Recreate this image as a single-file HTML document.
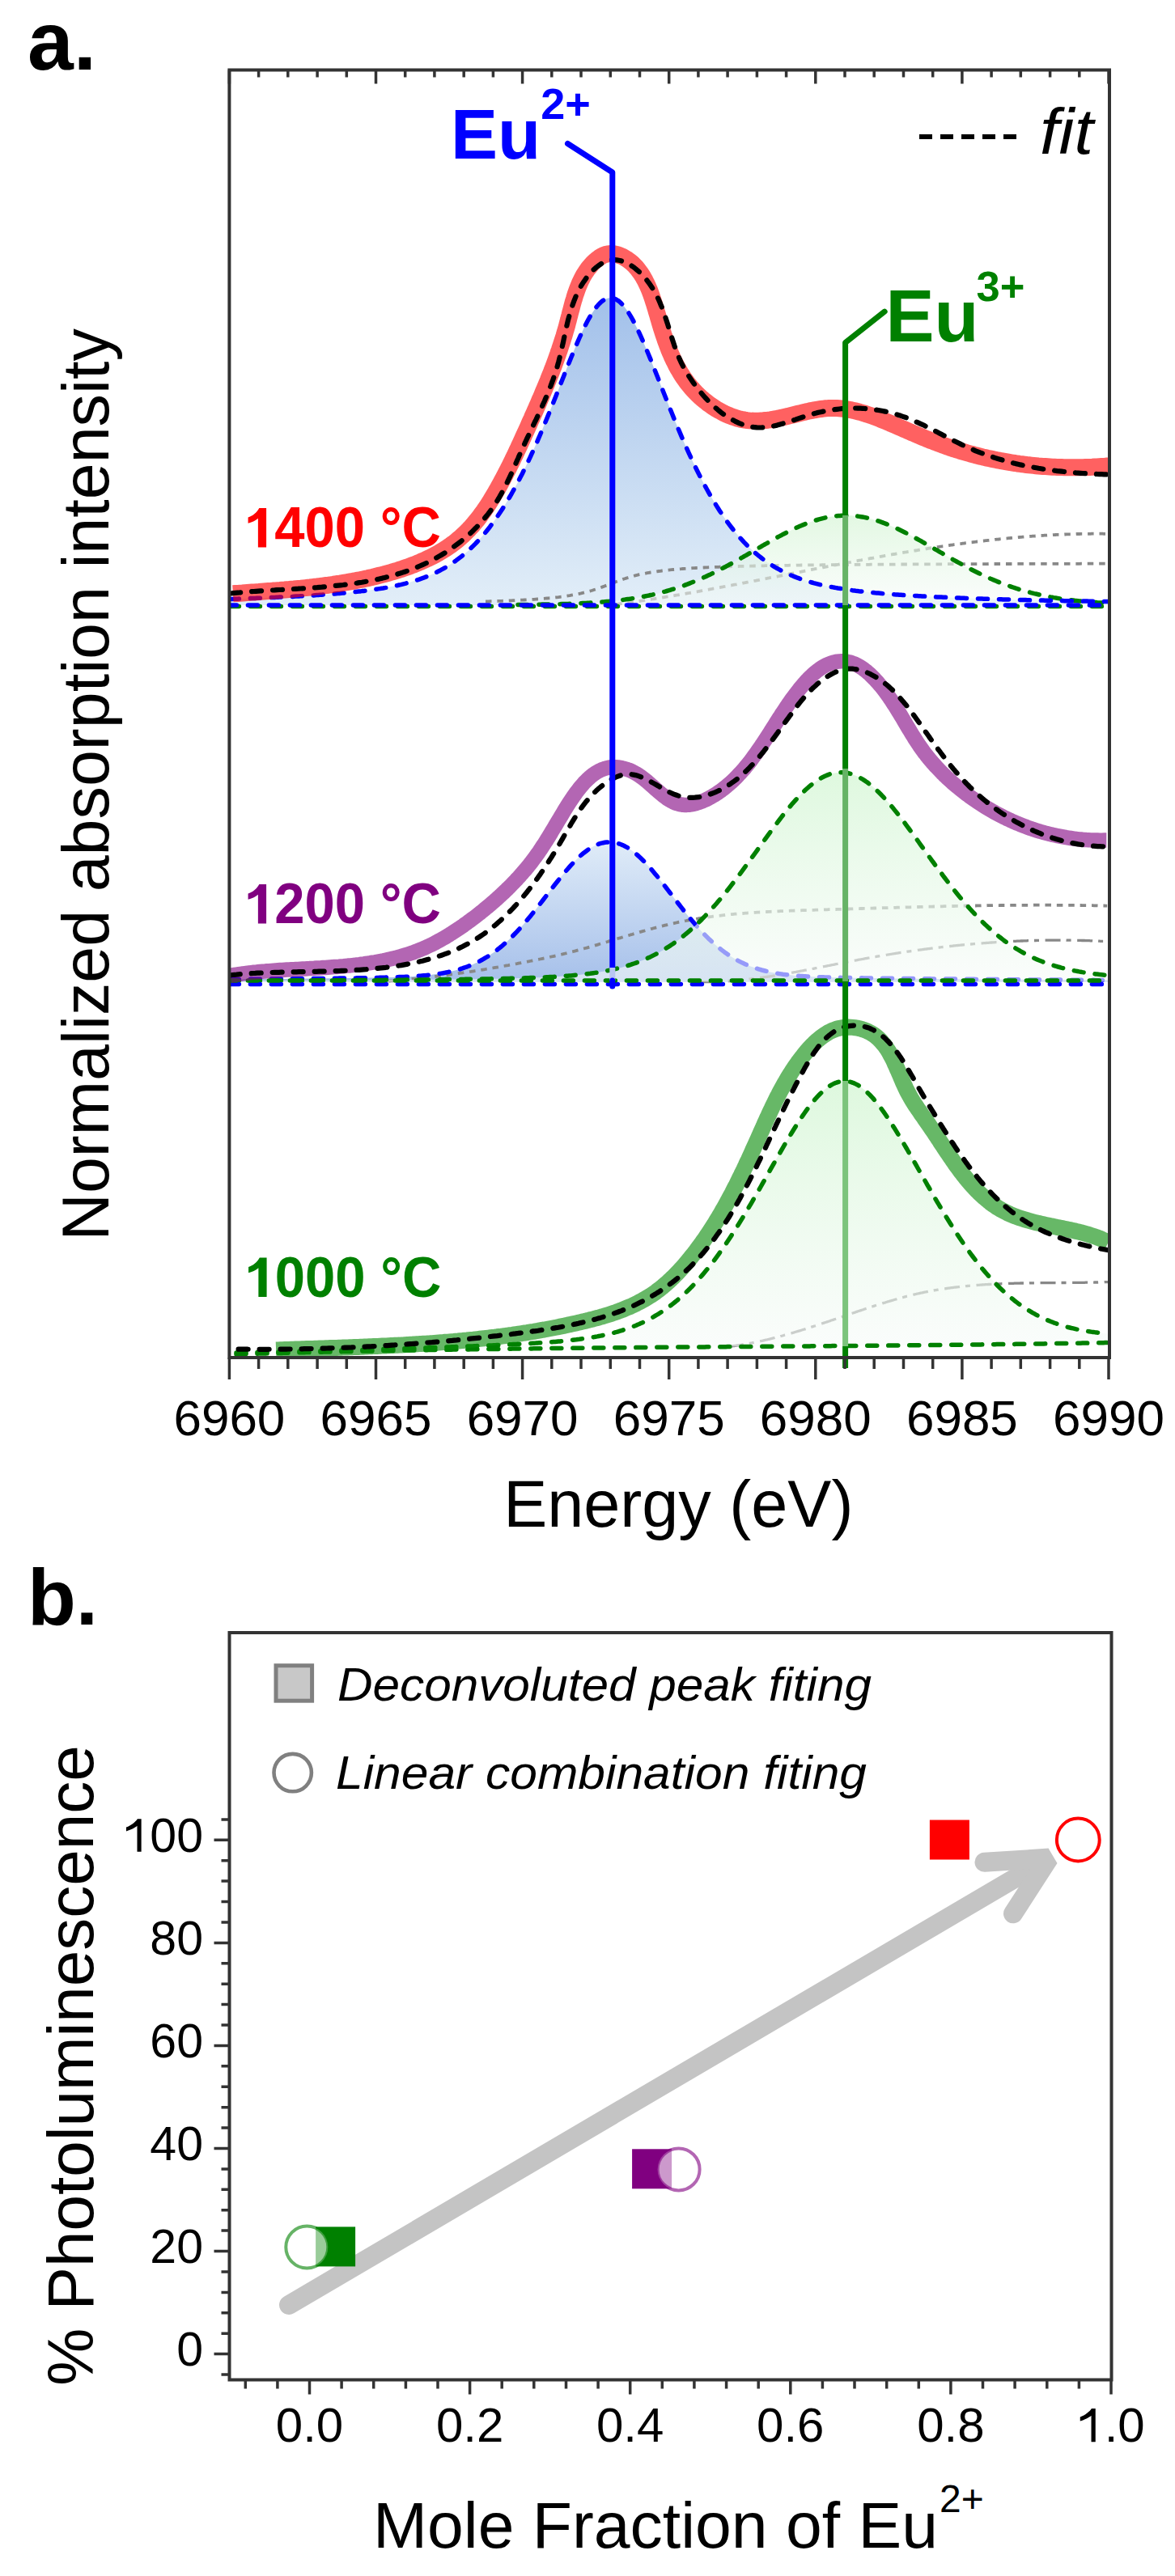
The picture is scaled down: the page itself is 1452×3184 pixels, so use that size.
<!DOCTYPE html><html><head><meta charset="utf-8"><style>html,body{margin:0;padding:0;background:#fff}svg{display:block}text{font-family:"Liberation Sans",sans-serif}</style></head><body>
<svg width="1452" height="3184" viewBox="0 0 1452 3184">
<defs>
<linearGradient id="gb14" x1="0" y1="375" x2="0" y2="748" gradientUnits="userSpaceOnUse"><stop offset="0" stop-color="#a3c1ea"/><stop offset="1" stop-color="#e2eef8"/></linearGradient>
<linearGradient id="gb12" x1="0" y1="1040" x2="0" y2="1213" gradientUnits="userSpaceOnUse"><stop offset="0" stop-color="#e0ecf8"/><stop offset="1" stop-color="#a6c0ea"/></linearGradient>
<linearGradient id="gg14" x1="0" y1="637" x2="0" y2="748" gradientUnits="userSpaceOnUse"><stop offset="0" stop-color="#d6f5d6" stop-opacity="0.7"/><stop offset="1" stop-color="#f7fbf9" stop-opacity="0.55"/></linearGradient>
<linearGradient id="gg12" x1="0" y1="950" x2="0" y2="1213" gradientUnits="userSpaceOnUse"><stop offset="0" stop-color="#d3f6d3" stop-opacity="0.75"/><stop offset="1" stop-color="#f7fbf9" stop-opacity="0.6"/></linearGradient>
<linearGradient id="gg10" x1="0" y1="1336" x2="0" y2="1664" gradientUnits="userSpaceOnUse"><stop offset="0" stop-color="#d3f6d3" stop-opacity="0.75"/><stop offset="1" stop-color="#f7fbf9" stop-opacity="0.6"/></linearGradient>
<clipPath id="clipA"><rect x="285" y="88" width="1085" height="1589"/></clipPath>
</defs>
<rect width="1452" height="3184" fill="#fff"/>
<g clip-path="url(#clipA)" fill="none" stroke-linejoin="round">
<path d="M283.4 740.5 L285.4 740.4 L287.4 740.4 L289.4 740.3 L291.4 740.2 L293.4 740.2 L295.4 740.1 L297.4 740.0 L299.4 740.0 L301.4 739.9 L303.4 739.8 L305.4 739.8 L307.4 739.7 L309.4 739.6 L311.4 739.5 L313.4 739.5 L315.4 739.4 L317.4 739.3 L319.4 739.2 L321.4 739.2 L323.4 739.1 L325.4 739.0 L327.4 738.9 L329.4 738.8 L331.4 738.8 L333.4 738.7 L335.4 738.6 L337.4 738.5 L339.4 738.4 L341.4 738.3 L343.4 738.2 L345.4 738.1 L347.4 738.0 L349.4 737.9 L351.4 737.9 L353.4 737.8 L355.4 737.7 L357.4 737.6 L359.4 737.5 L361.4 737.4 L363.4 737.2 L365.4 737.1 L367.4 737.0 L369.4 736.9 L371.4 736.8 L373.4 736.7 L375.4 736.6 L377.4 736.5 L379.4 736.3 L381.4 736.2 L383.4 736.1 L385.4 736.0 L387.4 735.9 L389.4 735.7 L391.4 735.6 L393.4 735.5 L395.4 735.3 L397.4 735.2 L399.4 735.0 L401.4 734.9 L403.4 734.8 L405.4 734.6 L407.4 734.4 L409.4 734.3 L411.4 734.1 L413.4 734.0 L415.4 733.8 L417.4 733.6 L419.4 733.5 L421.4 733.3 L423.4 733.1 L425.4 732.9 L427.4 732.8 L429.4 732.6 L431.4 732.4 L433.4 732.2 L435.4 732.0 L437.4 731.8 L439.4 731.5 L441.4 731.3 L443.4 731.1 L445.4 730.9 L447.4 730.6 L449.4 730.4 L451.4 730.2 L453.4 729.9 L455.4 729.6 L457.4 729.4 L459.4 729.1 L461.4 728.8 L463.4 728.5 L465.4 728.2 L467.4 727.9 L469.4 727.6 L471.4 727.3 L473.4 727.0 L475.4 726.6 L477.4 726.3 L479.4 725.9 L481.4 725.5 L483.4 725.1 L485.4 724.7 L487.4 724.3 L489.4 723.9 L491.4 723.5 L493.4 723.0 L495.4 722.6 L497.4 722.1 L499.4 721.6 L501.4 721.1 L503.4 720.5 L505.4 720.0 L507.4 719.4 L509.4 718.8 L511.4 718.2 L513.4 717.6 L515.4 717.0 L517.4 716.3 L519.4 715.6 L521.4 714.9 L523.4 714.2 L525.4 713.4 L527.4 712.6 L529.4 711.8 L531.4 710.9 L533.4 710.1 L535.4 709.2 L537.4 708.2 L539.4 707.3 L541.4 706.3 L543.4 705.3 L545.4 704.2 L547.4 703.1 L549.4 702.0 L551.4 700.8 L553.4 699.6 L555.4 698.3 L557.4 697.0 L559.4 695.7 L561.4 694.3 L563.4 692.9 L565.4 691.4 L567.4 689.9 L569.4 688.4 L571.4 686.8 L573.4 685.1 L575.4 683.4 L577.4 681.7 L579.4 679.9 L581.4 678.0 L583.4 676.1 L585.4 674.1 L587.4 672.1 L589.4 670.0 L591.4 667.9 L593.4 665.7 L595.4 663.4 L597.4 661.1 L599.4 658.7 L601.4 656.2 L603.4 653.7 L605.4 651.2 L607.4 648.5 L609.4 645.8 L611.4 643.0 L613.4 640.2 L615.4 637.3 L617.4 634.3 L619.4 631.3 L621.4 628.2 L623.4 625.0 L625.4 621.7 L627.4 618.4 L629.4 615.0 L631.4 611.6 L633.4 608.0 L635.4 604.4 L637.4 600.8 L639.4 597.0 L641.4 593.2 L643.4 589.3 L645.4 585.4 L647.4 581.3 L649.4 577.2 L651.4 573.1 L653.4 568.9 L655.4 564.6 L657.4 560.2 L659.4 555.8 L661.4 551.3 L663.4 546.8 L665.4 542.2 L667.4 537.5 L669.4 532.8 L671.4 528.0 L673.4 523.2 L675.4 518.3 L677.4 513.4 L679.4 508.5 L681.4 503.5 L683.4 498.5 L685.4 493.4 L687.4 488.4 L689.4 483.3 L691.4 478.2 L693.4 473.1 L695.4 468.0 L697.4 462.9 L699.4 457.8 L701.4 452.8 L703.4 447.8 L705.4 442.8 L707.4 437.9 L709.4 433.0 L711.4 428.3 L713.4 423.6 L715.4 419.0 L717.4 414.5 L719.4 410.2 L721.4 406.0 L723.4 401.9 L725.4 398.0 L727.4 394.3 L729.4 390.8 L731.4 387.5 L733.4 384.5 L735.4 381.6 L737.4 379.0 L739.4 376.7 L741.4 374.6 L743.4 372.8 L745.4 371.3 L747.4 370.1 L749.4 369.2 L751.4 368.5 L753.4 368.2 L755.4 368.2 L757.4 368.6 L759.4 369.2 L761.4 370.1 L763.4 371.3 L765.4 372.8 L767.4 374.6 L769.4 376.7 L771.4 379.1 L773.4 381.7 L775.4 384.5 L777.4 387.6 L779.4 390.9 L781.4 394.4 L783.4 398.2 L785.4 402.0 L787.4 406.1 L789.4 410.3 L791.4 414.7 L793.4 419.1 L795.4 423.7 L797.4 428.4 L799.4 433.2 L801.4 438.0 L803.4 442.9 L805.4 447.9 L807.4 452.9 L809.4 458.0 L811.4 463.0 L813.4 468.1 L815.4 473.2 L817.4 478.3 L819.4 483.4 L821.4 488.5 L823.4 493.6 L825.4 498.6 L827.4 503.6 L829.4 508.6 L831.4 513.6 L833.4 518.5 L835.4 523.3 L837.4 528.2 L839.4 532.9 L841.4 537.6 L843.4 542.3 L845.4 546.9 L847.4 551.4 L849.4 555.9 L851.4 560.3 L853.4 564.7 L855.4 569.0 L857.4 573.2 L859.4 577.4 L861.4 581.5 L863.4 585.5 L865.4 589.4 L867.4 593.3 L869.4 597.1 L871.4 600.9 L873.4 604.5 L875.4 608.1 L877.4 611.7 L879.4 615.1 L881.4 618.5 L883.4 621.8 L885.4 625.1 L887.4 628.3 L889.4 631.4 L891.4 634.4 L893.4 637.4 L895.4 640.3 L897.4 643.1 L899.4 645.9 L901.4 648.6 L903.4 651.2 L905.4 653.8 L907.4 656.3 L909.4 658.8 L911.4 661.1 L913.4 663.5 L915.4 665.7 L917.4 667.9 L919.4 670.1 L921.4 672.1 L923.4 674.2 L925.4 676.1 L927.4 678.0 L929.4 679.9 L931.4 681.7 L933.4 683.5 L935.4 685.2 L937.4 686.8 L939.4 688.4 L941.4 690.0 L943.4 691.5 L945.4 692.9 L947.4 694.4 L949.4 695.7 L951.4 697.1 L953.4 698.4 L955.4 699.6 L957.4 700.8 L959.4 702.0 L961.4 703.1 L963.4 704.2 L965.4 705.3 L967.4 706.3 L969.4 707.3 L971.4 708.3 L973.4 709.2 L975.4 710.1 L977.4 711.0 L979.4 711.8 L981.4 712.6 L983.4 713.4 L985.4 714.2 L987.4 714.9 L989.4 715.6 L991.4 716.3 L993.4 717.0 L995.4 717.6 L997.4 718.3 L999.4 718.9 L1001.4 719.4 L1003.4 720.0 L1005.4 720.6 L1007.4 721.1 L1009.4 721.6 L1011.4 722.1 L1013.4 722.6 L1015.4 723.0 L1017.4 723.5 L1019.4 723.9 L1021.4 724.3 L1023.4 724.8 L1025.4 725.2 L1027.4 725.5 L1029.4 725.9 L1031.4 726.3 L1033.4 726.6 L1035.4 727.0 L1037.4 727.3 L1039.4 727.6 L1041.4 727.9 L1043.4 728.2 L1045.4 728.5 L1047.4 728.8 L1049.4 729.1 L1051.4 729.4 L1053.4 729.7 L1055.4 729.9 L1057.4 730.2 L1059.4 730.4 L1061.4 730.7 L1063.4 730.9 L1065.4 731.1 L1067.4 731.3 L1069.4 731.6 L1071.4 731.8 L1073.4 732.0 L1075.4 732.2 L1077.4 732.4 L1079.4 732.6 L1081.4 732.8 L1083.4 732.9 L1085.4 733.1 L1087.4 733.3 L1089.4 733.5 L1091.4 733.7 L1093.4 733.8 L1095.4 734.0 L1097.4 734.1 L1099.4 734.3 L1101.4 734.5 L1103.4 734.6 L1105.4 734.8 L1107.4 734.9 L1109.4 735.0 L1111.4 735.2 L1113.4 735.3 L1115.4 735.5 L1117.4 735.6 L1119.4 735.7 L1121.4 735.9 L1123.4 736.0 L1125.4 736.1 L1127.4 736.2 L1129.4 736.3 L1131.4 736.5 L1133.4 736.6 L1135.4 736.7 L1137.4 736.8 L1139.4 736.9 L1141.4 737.0 L1143.4 737.1 L1145.4 737.2 L1147.4 737.4 L1149.4 737.5 L1151.4 737.6 L1153.4 737.7 L1155.4 737.8 L1157.4 737.9 L1159.4 738.0 L1161.4 738.0 L1163.4 738.1 L1165.4 738.2 L1167.4 738.3 L1169.4 738.4 L1171.4 738.5 L1173.4 738.6 L1175.4 738.7 L1177.4 738.8 L1179.4 738.8 L1181.4 738.9 L1183.4 739.0 L1185.4 739.1 L1187.4 739.2 L1189.4 739.2 L1191.4 739.3 L1193.4 739.4 L1195.4 739.5 L1197.4 739.5 L1199.4 739.6 L1201.4 739.7 L1203.4 739.8 L1205.4 739.8 L1207.4 739.9 L1209.4 740.0 L1211.4 740.0 L1213.4 740.1 L1215.4 740.2 L1217.4 740.2 L1219.4 740.3 L1221.4 740.4 L1223.4 740.4 L1225.4 740.5 L1227.4 740.5 L1229.4 740.6 L1231.4 740.7 L1233.4 740.7 L1235.4 740.8 L1237.4 740.8 L1239.4 740.9 L1241.4 741.0 L1243.4 741.0 L1245.4 741.1 L1247.4 741.1 L1249.4 741.2 L1251.4 741.2 L1253.4 741.3 L1255.4 741.3 L1257.4 741.4 L1259.4 741.4 L1261.4 741.5 L1263.4 741.5 L1265.4 741.6 L1267.4 741.6 L1269.4 741.7 L1271.4 741.7 L1273.4 741.8 L1275.4 741.8 L1277.4 741.9 L1279.4 741.9 L1281.4 742.0 L1283.4 742.0 L1285.4 742.0 L1287.4 742.1 L1289.4 742.1 L1291.4 742.2 L1293.4 742.2 L1295.4 742.3 L1297.4 742.3 L1299.4 742.3 L1301.4 742.4 L1303.4 742.4 L1305.4 742.5 L1307.4 742.5 L1309.4 742.5 L1311.4 742.6 L1313.4 742.6 L1315.4 742.7 L1317.4 742.7 L1319.4 742.7 L1321.4 742.8 L1323.4 742.8 L1325.4 742.8 L1327.4 742.9 L1329.4 742.9 L1331.4 742.9 L1333.4 743.0 L1335.4 743.0 L1337.4 743.0 L1339.4 743.1 L1341.4 743.1 L1343.4 743.1 L1345.4 743.2 L1347.4 743.2 L1349.4 743.2 L1351.4 743.3 L1353.4 743.3 L1355.4 743.3 L1357.4 743.4 L1359.4 743.4 L1361.4 743.4 L1363.4 743.4 L1365.4 743.5 L1367.4 743.5 L1369.4 743.5 L1370.0 743.5 L1370.0 748.0 L283.4 748.0 Z" fill="url(#gb14)" stroke="none"/>
<path d="M600.0 743.4 L602.0 743.4 L604.0 743.3 L606.0 743.2 L608.0 743.2 L610.0 743.1 L612.0 743.0 L614.0 743.0 L616.0 742.9 L618.0 742.8 L620.0 742.8 L622.0 742.7 L624.0 742.6 L626.0 742.5 L628.0 742.5 L630.0 742.4 L632.0 742.3 L634.0 742.2 L636.0 742.1 L638.0 742.0 L640.0 741.9 L642.0 741.8 L644.0 741.7 L646.0 741.6 L648.0 741.5 L650.0 741.4 L652.0 741.3 L654.0 741.2 L656.0 741.0 L658.0 740.9 L660.0 740.8 L662.0 740.6 L664.0 740.5 L666.0 740.4 L668.0 740.2 L670.0 740.0 L672.0 739.9 L674.0 739.7 L676.0 739.5 L678.0 739.3 L680.0 739.2 L682.0 739.0 L684.0 738.7 L686.0 738.5 L688.0 738.3 L690.0 738.1 L692.0 737.8 L694.0 737.6 L696.0 737.3 L698.0 737.0 L700.0 736.7 L702.0 736.4 L704.0 736.1 L706.0 735.7 L708.0 735.4 L710.0 735.0 L712.0 734.6 L714.0 734.2 L716.0 733.8 L718.0 733.4 L720.0 732.9 L722.0 732.4 L724.0 731.9 L726.0 731.4 L728.0 730.8 L730.0 730.3 L732.0 729.7 L734.0 729.0 L736.0 728.4 L738.0 727.7 L740.0 727.0 L742.0 726.3 L744.0 725.6 L746.0 724.9 L748.0 724.1 L750.0 723.4 L752.0 722.6 L754.0 721.8 L756.0 721.1 L758.0 720.3 L760.0 719.6 L762.0 718.8 L764.0 718.1 L766.0 717.3 L768.0 716.6 L770.0 715.9 L772.0 715.3 L774.0 714.6 L776.0 714.0 L778.0 713.4 L780.0 712.8 L782.0 712.3 L784.0 711.7 L786.0 711.2 L788.0 710.7 L790.0 710.2 L792.0 709.8 L794.0 709.4 L796.0 709.0 L798.0 708.6 L800.0 708.2 L802.0 707.8 L804.0 707.5 L806.0 707.2 L808.0 706.9 L810.0 706.6 L812.0 706.3 L814.0 706.0 L816.0 705.8 L818.0 705.5 L820.0 705.3 L822.0 705.0 L824.0 704.8 L826.0 704.6 L828.0 704.4 L830.0 704.2 L832.0 704.0 L834.0 703.8 L836.0 703.7 L838.0 703.5 L840.0 703.3 L842.0 703.2 L844.0 703.0 L846.0 702.9 L848.0 702.8 L850.0 702.6 L852.0 702.5 L854.0 702.4 L856.0 702.2 L858.0 702.1 L860.0 702.0 L862.0 701.9 L864.0 701.8 L866.0 701.7 L868.0 701.6 L870.0 701.5 L872.0 701.4 L874.0 701.3 L876.0 701.2 L878.0 701.1 L880.0 701.1 L882.0 701.0 L884.0 700.9 L886.0 700.8 L888.0 700.8 L890.0 700.7 L892.0 700.6 L894.0 700.5 L896.0 700.5 L898.0 700.4 L900.0 700.3 L902.0 700.3 L904.0 700.2 L906.0 700.2 L908.0 700.1 L910.0 700.0 L912.0 700.0 L914.0 699.9 L916.0 699.9 L918.0 699.8 L920.0 699.8 L922.0 699.7 L924.0 699.7 L926.0 699.6 L928.0 699.6 L930.0 699.6 L932.0 699.5 L934.0 699.5 L936.0 699.4 L938.0 699.4 L940.0 699.3 L942.0 699.3 L944.0 699.3 L946.0 699.2 L948.0 699.2 L950.0 699.2 L952.0 699.1 L954.0 699.1 L956.0 699.0 L958.0 699.0 L960.0 699.0 L962.0 698.9 L964.0 698.9 L966.0 698.9 L968.0 698.9 L970.0 698.8 L972.0 698.8 L974.0 698.8 L976.0 698.7 L978.0 698.7 L980.0 698.7 L982.0 698.7 L984.0 698.6 L986.0 698.6 L988.0 698.6 L990.0 698.5 L992.0 698.5 L994.0 698.5 L996.0 698.5 L998.0 698.4 L1000.0 698.4 L1002.0 698.4 L1004.0 698.4 L1006.0 698.4 L1008.0 698.3 L1010.0 698.3 L1012.0 698.3 L1014.0 698.3 L1016.0 698.2 L1018.0 698.2 L1020.0 698.2 L1022.0 698.2 L1024.0 698.2 L1026.0 698.2 L1028.0 698.1 L1030.0 698.1 L1032.0 698.1 L1034.0 698.1 L1036.0 698.1 L1038.0 698.0 L1040.0 698.0 L1042.0 698.0 L1044.0 698.0 L1046.0 698.0 L1048.0 698.0 L1050.0 697.9 L1052.0 697.9 L1054.0 697.9 L1056.0 697.9 L1058.0 697.9 L1060.0 697.9 L1062.0 697.8 L1064.0 697.8 L1066.0 697.8 L1068.0 697.8 L1070.0 697.8 L1072.0 697.8 L1074.0 697.8 L1076.0 697.7 L1078.0 697.7 L1080.0 697.7 L1082.0 697.7 L1084.0 697.7 L1086.0 697.7 L1088.0 697.7 L1090.0 697.7 L1092.0 697.6 L1094.0 697.6 L1096.0 697.6 L1098.0 697.6 L1100.0 697.6 L1102.0 697.6 L1104.0 697.6 L1106.0 697.6 L1108.0 697.5 L1110.0 697.5 L1112.0 697.5 L1114.0 697.5 L1116.0 697.5 L1118.0 697.5 L1120.0 697.5 L1122.0 697.5 L1124.0 697.5 L1126.0 697.4 L1128.0 697.4 L1130.0 697.4 L1132.0 697.4 L1134.0 697.4 L1136.0 697.4 L1138.0 697.4 L1140.0 697.4 L1142.0 697.4 L1144.0 697.4 L1146.0 697.3 L1148.0 697.3 L1150.0 697.3 L1152.0 697.3 L1154.0 697.3 L1156.0 697.3 L1158.0 697.3 L1160.0 697.3 L1162.0 697.3 L1164.0 697.3 L1166.0 697.3 L1168.0 697.2 L1170.0 697.2 L1172.0 697.2 L1174.0 697.2 L1176.0 697.2 L1178.0 697.2 L1180.0 697.2 L1182.0 697.2 L1184.0 697.2 L1186.0 697.2 L1188.0 697.2 L1190.0 697.2 L1192.0 697.2 L1194.0 697.1 L1196.0 697.1 L1198.0 697.1 L1200.0 697.1 L1202.0 697.1 L1204.0 697.1 L1206.0 697.1 L1208.0 697.1 L1210.0 697.1 L1212.0 697.1 L1214.0 697.1 L1216.0 697.1 L1218.0 697.1 L1220.0 697.1 L1222.0 697.0 L1224.0 697.0 L1226.0 697.0 L1228.0 697.0 L1230.0 697.0 L1232.0 697.0 L1234.0 697.0 L1236.0 697.0 L1238.0 697.0 L1240.0 697.0 L1242.0 697.0 L1244.0 697.0 L1246.0 697.0 L1248.0 697.0 L1250.0 697.0 L1252.0 697.0 L1254.0 696.9 L1256.0 696.9 L1258.0 696.9 L1260.0 696.9 L1262.0 696.9 L1264.0 696.9 L1266.0 696.9 L1268.0 696.9 L1270.0 696.9 L1272.0 696.9 L1274.0 696.9 L1276.0 696.9 L1278.0 696.9 L1280.0 696.9 L1282.0 696.9 L1284.0 696.9 L1286.0 696.9 L1288.0 696.9 L1290.0 696.9 L1292.0 696.8 L1294.0 696.8 L1296.0 696.8 L1298.0 696.8 L1300.0 696.8 L1302.0 696.8 L1304.0 696.8 L1306.0 696.8 L1308.0 696.8 L1310.0 696.8 L1312.0 696.8 L1314.0 696.8 L1316.0 696.8 L1318.0 696.8 L1320.0 696.8 L1322.0 696.8 L1324.0 696.8 L1326.0 696.8 L1328.0 696.8 L1330.0 696.8 L1332.0 696.8 L1334.0 696.8 L1336.0 696.7 L1338.0 696.7 L1340.0 696.7 L1342.0 696.7 L1344.0 696.7 L1346.0 696.7 L1348.0 696.7 L1350.0 696.7 L1352.0 696.7 L1354.0 696.7 L1356.0 696.7 L1358.0 696.7 L1360.0 696.7 L1362.0 696.7 L1364.0 696.7 L1366.0 696.7 L1368.0 696.7 L1370.0 696.7" stroke="#888888" stroke-width="3.8" stroke-dasharray="7.5 6.9" />
<path d="M761.2 747.0 L762.4 746.8 L763.7 746.7 L764.9 746.5 L766.1 746.4 L767.3 746.2 L768.6 746.0 L769.8 745.9 L771.0 745.7 L772.2 745.5 L773.5 745.3 L774.7 745.2 L775.9 745.0 L777.1 744.8 L778.4 744.7 L779.6 744.5 L780.8 744.3 L782.0 744.1 L783.3 744.0 L784.5 743.8 L785.7 743.6 L786.9 743.4 L788.1 743.2 L789.4 743.1 L790.6 742.9 L791.8 742.7 L793.0 742.5 L794.3 742.3 L795.5 742.2 L796.7 742.0 L797.9 741.8 L799.2 741.6 L800.4 741.4 L801.6 741.2 L802.8 741.0 L804.0 740.9 L805.3 740.7 L806.5 740.5 L807.7 740.3 L808.9 740.1 L810.1 739.9 L811.4 739.7 L812.6 739.5 L813.8 739.3 L815.0 739.1 L816.2 738.9 L817.5 738.7 L818.7 738.5 L819.9 738.3 L821.1 738.1 L822.4 737.9 L823.6 737.7 L824.8 737.5 L826.0 737.3 L827.2 737.1 L828.5 736.9 L829.7 736.7 L830.9 736.5 L832.1 736.3 L833.3 736.1 L834.5 735.9 L835.8 735.7 L837.0 735.5 L838.2 735.3 L839.4 735.1 L840.6 734.9 L841.9 734.7 L843.1 734.5 L844.3 734.3 L845.5 734.0 L846.7 733.8 L848.0 733.6 L849.2 733.4 L850.4 733.2 L851.6 733.0 L852.8 732.8 L854.0 732.6 L855.3 732.3 L856.5 732.1 L857.7 731.9 L858.9 731.7 L860.1 731.5 L861.4 731.3 L862.6 731.0 L863.8 730.8 L865.0 730.6 L866.2 730.4 L867.4 730.2 L868.7 730.0 L869.9 729.7 L871.1 729.5 L872.3 729.3 L873.5 729.1 L874.7 728.8 L876.0 728.6 L877.2 728.4 L878.4 728.2 L879.6 728.0 L880.8 727.7 L882.0 727.5 L883.3 727.3 L884.5 727.1 L885.7 726.8 L886.9 726.6 L888.1 726.4 L889.3 726.2 L890.6 725.9 L891.8 725.7 L893.0 725.5 L894.2 725.2 L895.4 725.0 L896.6 724.8 L897.9 724.6 L899.1 724.3 L900.3 724.1 L901.5 723.9 L902.7 723.6 L903.9 723.4 L905.2 723.2 L906.4 722.9 L907.6 722.7 L908.8 722.5 L910.0 722.3 L911.2 722.0 L912.5 721.8 L913.7 721.6 L914.9 721.3 L916.1 721.1 L917.3 720.9 L918.5 720.6 L919.7 720.4 L921.0 720.2 L922.2 719.9 L923.4 719.7 L924.6 719.5 L925.8 719.2 L927.0 719.0 L928.3 718.7 L929.5 718.5 L930.7 718.3 L931.9 718.0 L933.1 717.8 L934.3 717.6 L935.5 717.3 L936.8 717.1 L938.0 716.9 L939.2 716.6 L940.4 716.4 L941.6 716.1 L942.8 715.9 L944.0 715.7 L945.3 715.4 L946.5 715.2 L947.7 715.0 L948.9 714.7 L950.1 714.5 L951.3 714.2 L952.5 714.0 L953.8 713.8 L955.0 713.5 L956.2 713.3 L957.4 713.0 L958.6 712.8 L959.8 712.6 L961.0 712.3 L962.3 712.1 L963.5 711.8 L964.7 711.6 L965.9 711.4 L967.1 711.1 L968.3 710.9 L969.6 710.6 L970.8 710.4 L972.0 710.2 L973.2 709.9 L974.4 709.7 L975.6 709.4 L976.8 709.2 L978.1 709.0 L979.3 708.7 L980.5 708.5 L981.7 708.3 L982.9 708.0 L984.1 707.8 L985.3 707.5 L986.6 707.3 L987.8 707.1 L989.0 706.8 L990.2 706.6 L991.4 706.3 L992.6 706.1 L993.8 705.9 L995.1 705.6 L996.3 705.4 L997.5 705.1 L998.7 704.9 L999.9 704.7 L1001.1 704.4 L1002.3 704.2 L1003.6 703.9 L1004.8 703.7 L1006.0 703.5 L1007.2 703.2 L1008.4 703.0 L1009.6 702.8 L1010.8 702.5 L1012.1 702.3 L1013.3 702.0 L1014.5 701.8 L1015.7 701.6 L1016.9 701.3 L1018.1 701.1 L1019.3 700.9 L1020.6 700.6 L1021.8 700.4 L1023.0 700.1 L1024.2 699.9 L1025.4 699.7 L1026.6 699.4 L1027.8 699.2 L1029.1 699.0 L1030.3 698.7 L1031.5 698.5 L1032.7 698.3 L1033.9 698.0 L1035.1 697.8 L1036.4 697.6 L1037.6 697.3 L1038.8 697.1 L1040.0 696.9 L1041.2 696.6 L1042.4 696.4 L1043.6 696.2 L1044.9 695.9 L1046.1 695.7 L1047.3 695.5 L1048.5 695.2 L1049.7 695.0 L1050.9 694.8 L1052.1 694.5 L1053.4 694.3 L1054.6 694.1 L1055.8 693.9 L1057.0 693.6 L1058.2 693.4 L1059.4 693.2 L1060.7 692.9 L1061.9 692.7 L1063.1 692.5 L1064.3 692.3 L1065.5 692.0 L1066.7 691.8 L1068.0 691.6 L1069.2 691.4 L1070.4 691.1 L1071.6 690.9 L1072.8 690.7 L1074.0 690.5 L1075.2 690.2 L1076.5 690.0 L1077.7 689.8 L1078.9 689.6 L1080.1 689.3 L1081.3 689.1 L1082.5 688.9 L1083.8 688.7 L1085.0 688.5 L1086.2 688.2 L1087.4 688.0 L1088.6 687.8 L1089.8 687.6 L1091.1 687.4 L1092.3 687.2 L1093.5 686.9 L1094.7 686.7 L1095.9 686.5 L1097.2 686.3 L1098.4 686.1 L1099.6 685.9 L1100.8 685.6 L1102.0 685.4 L1103.2 685.2 L1104.5 685.0 L1105.7 684.8 L1106.9 684.6 L1108.1 684.4 L1109.3 684.2 L1110.5 684.0 L1111.8 683.7 L1113.0 683.5 L1114.2 683.3 L1115.4 683.1 L1116.6 682.9 L1117.9 682.7 L1119.1 682.5 L1120.3 682.3 L1121.5 682.1 L1122.7 681.9 L1123.9 681.7 L1125.2 681.5 L1126.4 681.3 L1127.6 681.1 L1128.8 680.9 L1130.0 680.7 L1131.3 680.5 L1132.5 680.3 L1133.7 680.1 L1134.9 679.9 L1136.1 679.7 L1137.4 679.5 L1138.6 679.3 L1139.8 679.1 L1141.0 678.9 L1142.2 678.7 L1143.5 678.5 L1144.7 678.3 L1145.9 678.1 L1147.1 677.9 L1148.3 677.7 L1149.6 677.6 L1150.8 677.4 L1152.0 677.2 L1153.2 677.0 L1154.4 676.8 L1155.7 676.6 L1156.9 676.4 L1158.1 676.2 L1159.3 676.1 L1160.5 675.9 L1161.8 675.7 L1163.0 675.5 L1164.2 675.3 L1165.4 675.2 L1166.7 675.0 L1167.9 674.8 L1169.1 674.6 L1170.3 674.4 L1171.5 674.3 L1172.8 674.1 L1174.0 673.9 L1175.2 673.7 L1176.4 673.6 L1177.7 673.4 L1178.9 673.2 L1180.1 673.1 L1181.3 672.9 L1182.5 672.7 L1183.8 672.6 L1185.0 672.4 L1186.2 672.2 L1187.4 672.1 L1188.7 671.9 L1189.9 671.7 L1191.1 671.6 L1192.3 671.4 L1193.6 671.2 L1194.8 671.1 L1196.0 670.9 L1197.2 670.8 L1198.5 670.6 L1199.7 670.4 L1200.9 670.3 L1202.1 670.1 L1203.4 670.0 L1204.6 669.8 L1205.8 669.7 L1207.0 669.5 L1208.3 669.4 L1209.5 669.2 L1210.7 669.1 L1211.9 668.9 L1213.2 668.8 L1214.4 668.6 L1215.6 668.5 L1216.8 668.4 L1218.1 668.2 L1219.3 668.1 L1220.5 667.9 L1221.8 667.8 L1223.0 667.7 L1224.2 667.5 L1225.4 667.4 L1226.7 667.2 L1227.9 667.1 L1229.1 667.0 L1230.3 666.8 L1231.6 666.7 L1232.8 666.6 L1234.0 666.5 L1235.3 666.3 L1236.5 666.2 L1237.7 666.1 L1238.9 666.0 L1240.2 665.8 L1241.4 665.7 L1242.6 665.6 L1243.9 665.5 L1245.1 665.3 L1246.3 665.2 L1247.5 665.1 L1248.8 665.0 L1250.0 664.9 L1251.2 664.8 L1252.5 664.7 L1253.7 664.5 L1254.9 664.4 L1256.2 664.3 L1257.4 664.2 L1258.6 664.1 L1259.9 664.0 L1261.1 663.9 L1262.3 663.8 L1263.6 663.7 L1264.8 663.6 L1266.0 663.5 L1267.2 663.4 L1268.5 663.3 L1269.7 663.2 L1270.9 663.1 L1272.2 663.0 L1273.4 662.9 L1274.6 662.8 L1275.9 662.7 L1277.1 662.6 L1278.3 662.6 L1279.6 662.5 L1280.8 662.4 L1282.0 662.3 L1283.3 662.2 L1284.5 662.1 L1285.7 662.1 L1287.0 662.0 L1288.2 661.9 L1289.5 661.8 L1290.7 661.7 L1291.9 661.7 L1293.2 661.6 L1294.4 661.5 L1295.6 661.5 L1296.9 661.4 L1298.1 661.3 L1299.3 661.3 L1300.6 661.2 L1301.8 661.1 L1303.1 661.1 L1304.3 661.0 L1305.5 660.9 L1306.8 660.9 L1308.0 660.8 L1309.2 660.8 L1310.5 660.7 L1311.7 660.7 L1313.0 660.6 L1314.2 660.6 L1315.4 660.5 L1316.7 660.5 L1317.9 660.4 L1319.1 660.4 L1320.4 660.3 L1321.6 660.3 L1322.9 660.3 L1324.1 660.2 L1325.3 660.2 L1326.6 660.1 L1327.8 660.1 L1329.1 660.1 L1330.3 660.0 L1331.5 660.0 L1332.8 660.0 L1334.0 660.0 L1335.3 659.9 L1336.5 659.9 L1337.8 659.9 L1339.0 659.9 L1340.2 659.8 L1341.5 659.8 L1342.7 659.8 L1344.0 659.8 L1345.2 659.8 L1346.5 659.8 L1347.7 659.8 L1348.9 659.7 L1350.2 659.7 L1351.4 659.7 L1352.7 659.7 L1353.9 659.7 L1355.2 659.7 L1356.4 659.7 L1357.7 659.7 L1358.9 659.7 L1360.1 659.7 L1361.4 659.7 L1362.6 659.7 L1363.9 659.8 L1365.1 659.8 L1366.4 659.8 L1367.6 659.8 L1368.9 659.8" stroke="#888888" stroke-width="3.8" stroke-dasharray="7.5 6.9" />
<path d="M640.0 747.5 L642.0 747.5 L644.0 747.4 L646.0 747.4 L648.0 747.4 L650.0 747.4 L652.0 747.4 L654.0 747.3 L656.0 747.3 L658.0 747.3 L660.0 747.3 L662.0 747.2 L664.0 747.2 L666.0 747.2 L668.0 747.2 L670.0 747.1 L672.0 747.1 L674.0 747.1 L676.0 747.0 L678.0 747.0 L680.0 746.9 L682.0 746.9 L684.0 746.9 L686.0 746.8 L688.0 746.8 L690.0 746.7 L692.0 746.7 L694.0 746.6 L696.0 746.5 L698.0 746.5 L700.0 746.4 L702.0 746.4 L704.0 746.3 L706.0 746.2 L708.0 746.1 L710.0 746.1 L712.0 746.0 L714.0 745.9 L716.0 745.8 L718.0 745.7 L720.0 745.6 L722.0 745.5 L724.0 745.4 L726.0 745.3 L728.0 745.2 L730.0 745.0 L732.0 744.9 L734.0 744.8 L736.0 744.7 L738.0 744.5 L740.0 744.4 L742.0 744.2 L744.0 744.1 L746.0 743.9 L748.0 743.7 L750.0 743.5 L752.0 743.4 L754.0 743.2 L756.0 743.0 L758.0 742.8 L760.0 742.5 L762.0 742.3 L764.0 742.1 L766.0 741.9 L768.0 741.6 L770.0 741.4 L772.0 741.1 L774.0 740.8 L776.0 740.5 L778.0 740.3 L780.0 740.0 L782.0 739.6 L784.0 739.3 L786.0 739.0 L788.0 738.7 L790.0 738.3 L792.0 737.9 L794.0 737.6 L796.0 737.2 L798.0 736.8 L800.0 736.4 L802.0 736.0 L804.0 735.5 L806.0 735.1 L808.0 734.6 L810.0 734.2 L812.0 733.7 L814.0 733.2 L816.0 732.7 L818.0 732.1 L820.0 731.6 L822.0 731.1 L824.0 730.5 L826.0 729.9 L828.0 729.3 L830.0 728.7 L832.0 728.1 L834.0 727.5 L836.0 726.8 L838.0 726.2 L840.0 725.5 L842.0 724.8 L844.0 724.1 L846.0 723.4 L848.0 722.6 L850.0 721.9 L852.0 721.1 L854.0 720.3 L856.0 719.5 L858.0 718.7 L860.0 717.9 L862.0 717.1 L864.0 716.2 L866.0 715.4 L868.0 714.5 L870.0 713.6 L872.0 712.7 L874.0 711.7 L876.0 710.8 L878.0 709.9 L880.0 708.9 L882.0 707.9 L884.0 706.9 L886.0 705.9 L888.0 704.9 L890.0 703.9 L892.0 702.9 L894.0 701.8 L896.0 700.8 L898.0 699.7 L900.0 698.6 L902.0 697.5 L904.0 696.5 L906.0 695.4 L908.0 694.2 L910.0 693.1 L912.0 692.0 L914.0 690.9 L916.0 689.7 L918.0 688.6 L920.0 687.4 L922.0 686.3 L924.0 685.1 L926.0 684.0 L928.0 682.8 L930.0 681.7 L932.0 680.5 L934.0 679.3 L936.0 678.2 L938.0 677.0 L940.0 675.9 L942.0 674.7 L944.0 673.5 L946.0 672.4 L948.0 671.3 L950.0 670.1 L952.0 669.0 L954.0 667.9 L956.0 666.7 L958.0 665.6 L960.0 664.5 L962.0 663.4 L964.0 662.4 L966.0 661.3 L968.0 660.2 L970.0 659.2 L972.0 658.2 L974.0 657.2 L976.0 656.2 L978.0 655.2 L980.0 654.2 L982.0 653.3 L984.0 652.4 L986.0 651.5 L988.0 650.6 L990.0 649.7 L992.0 648.9 L994.0 648.1 L996.0 647.3 L998.0 646.5 L1000.0 645.8 L1002.0 645.1 L1004.0 644.4 L1006.0 643.7 L1008.0 643.1 L1010.0 642.5 L1012.0 641.9 L1014.0 641.4 L1016.0 640.9 L1018.0 640.4 L1020.0 639.9 L1022.0 639.5 L1024.0 639.1 L1026.0 638.8 L1028.0 638.5 L1030.0 638.2 L1032.0 637.9 L1034.0 637.7 L1036.0 637.5 L1038.0 637.4 L1040.0 637.3 L1042.0 637.2 L1044.0 637.2 L1046.0 637.1 L1048.0 637.2 L1050.0 637.2 L1052.0 637.3 L1054.0 637.5 L1056.0 637.7 L1058.0 637.9 L1060.0 638.1 L1062.0 638.4 L1064.0 638.7 L1066.0 639.0 L1068.0 639.4 L1070.0 639.8 L1072.0 640.3 L1074.0 640.7 L1076.0 641.3 L1078.0 641.8 L1080.0 642.4 L1082.0 643.0 L1084.0 643.6 L1086.0 644.2 L1088.0 644.9 L1090.0 645.6 L1092.0 646.4 L1094.0 647.1 L1096.0 647.9 L1098.0 648.7 L1100.0 649.5 L1102.0 650.4 L1104.0 651.3 L1106.0 652.2 L1108.0 653.1 L1110.0 654.0 L1112.0 655.0 L1114.0 656.0 L1116.0 657.0 L1118.0 658.0 L1120.0 659.0 L1122.0 660.0 L1124.0 661.1 L1126.0 662.1 L1128.0 663.2 L1130.0 664.3 L1132.0 665.4 L1134.0 666.5 L1136.0 667.6 L1138.0 668.7 L1140.0 669.9 L1142.0 671.0 L1144.0 672.2 L1146.0 673.3 L1148.0 674.5 L1150.0 675.6 L1152.0 676.8 L1154.0 677.9 L1156.0 679.1 L1158.0 680.2 L1160.0 681.4 L1162.0 682.6 L1164.0 683.7 L1166.0 684.9 L1168.0 686.0 L1170.0 687.2 L1172.0 688.3 L1174.0 689.5 L1176.0 690.6 L1178.0 691.8 L1180.0 692.9 L1182.0 694.0 L1184.0 695.1 L1186.0 696.2 L1188.0 697.3 L1190.0 698.4 L1192.0 699.5 L1194.0 700.5 L1196.0 701.6 L1198.0 702.6 L1200.0 703.7 L1202.0 704.7 L1204.0 705.7 L1206.0 706.7 L1208.0 707.7 L1210.0 708.7 L1212.0 709.7 L1214.0 710.6 L1216.0 711.5 L1218.0 712.5 L1220.0 713.4 L1222.0 714.3 L1224.0 715.2 L1226.0 716.0 L1228.0 716.9 L1230.0 717.7 L1232.0 718.6 L1234.0 719.4 L1236.0 720.2 L1238.0 720.9 L1240.0 721.7 L1242.0 722.5 L1244.0 723.2 L1246.0 723.9 L1248.0 724.6 L1250.0 725.3 L1252.0 726.0 L1254.0 726.7 L1256.0 727.3 L1258.0 728.0 L1260.0 728.6 L1262.0 729.2 L1264.0 729.8 L1266.0 730.4 L1268.0 730.9 L1270.0 731.5 L1272.0 732.0 L1274.0 732.6 L1276.0 733.1 L1278.0 733.6 L1280.0 734.0 L1282.0 734.5 L1284.0 735.0 L1286.0 735.4 L1288.0 735.9 L1290.0 736.3 L1292.0 736.7 L1294.0 737.1 L1296.0 737.5 L1298.0 737.9 L1300.0 738.2 L1302.0 738.6 L1304.0 738.9 L1306.0 739.3 L1308.0 739.6 L1310.0 739.9 L1312.0 740.2 L1314.0 740.5 L1316.0 740.8 L1318.0 741.0 L1320.0 741.3 L1322.0 741.6 L1324.0 741.8 L1326.0 742.0 L1328.0 742.3 L1330.0 742.5 L1332.0 742.7 L1334.0 742.9 L1336.0 743.1 L1338.0 743.3 L1340.0 743.5 L1342.0 743.7 L1344.0 743.9 L1346.0 744.0 L1348.0 744.2 L1350.0 744.3 L1352.0 744.5 L1354.0 744.6 L1356.0 744.8 L1358.0 744.9 L1360.0 745.0 L1362.0 745.1 L1364.0 745.3 L1366.0 745.4 L1368.0 745.5 L1370.0 745.6 L1370.0 748.0 L640.0 748.0 Z" fill="url(#gg14)" stroke="none"/>
<path d="M640.0 747.5 L642.0 747.5 L644.0 747.4 L646.0 747.4 L648.0 747.4 L650.0 747.4 L652.0 747.4 L654.0 747.3 L656.0 747.3 L658.0 747.3 L660.0 747.3 L662.0 747.2 L664.0 747.2 L666.0 747.2 L668.0 747.2 L670.0 747.1 L672.0 747.1 L674.0 747.1 L676.0 747.0 L678.0 747.0 L680.0 746.9 L682.0 746.9 L684.0 746.9 L686.0 746.8 L688.0 746.8 L690.0 746.7 L692.0 746.7 L694.0 746.6 L696.0 746.5 L698.0 746.5 L700.0 746.4 L702.0 746.4 L704.0 746.3 L706.0 746.2 L708.0 746.1 L710.0 746.1 L712.0 746.0 L714.0 745.9 L716.0 745.8 L718.0 745.7 L720.0 745.6 L722.0 745.5 L724.0 745.4 L726.0 745.3 L728.0 745.2 L730.0 745.0 L732.0 744.9 L734.0 744.8 L736.0 744.7 L738.0 744.5 L740.0 744.4 L742.0 744.2 L744.0 744.1 L746.0 743.9 L748.0 743.7 L750.0 743.5 L752.0 743.4 L754.0 743.2 L756.0 743.0 L758.0 742.8 L760.0 742.5 L762.0 742.3 L764.0 742.1 L766.0 741.9 L768.0 741.6 L770.0 741.4 L772.0 741.1 L774.0 740.8 L776.0 740.5 L778.0 740.3 L780.0 740.0 L782.0 739.6 L784.0 739.3 L786.0 739.0 L788.0 738.7 L790.0 738.3 L792.0 737.9 L794.0 737.6 L796.0 737.2 L798.0 736.8 L800.0 736.4 L802.0 736.0 L804.0 735.5 L806.0 735.1 L808.0 734.6 L810.0 734.2 L812.0 733.7 L814.0 733.2 L816.0 732.7 L818.0 732.1 L820.0 731.6 L822.0 731.1 L824.0 730.5 L826.0 729.9 L828.0 729.3 L830.0 728.7 L832.0 728.1 L834.0 727.5 L836.0 726.8 L838.0 726.2 L840.0 725.5 L842.0 724.8 L844.0 724.1 L846.0 723.4 L848.0 722.6 L850.0 721.9 L852.0 721.1 L854.0 720.3 L856.0 719.5 L858.0 718.7 L860.0 717.9 L862.0 717.1 L864.0 716.2 L866.0 715.4 L868.0 714.5 L870.0 713.6 L872.0 712.7 L874.0 711.7 L876.0 710.8 L878.0 709.9 L880.0 708.9 L882.0 707.9 L884.0 706.9 L886.0 705.9 L888.0 704.9 L890.0 703.9 L892.0 702.9 L894.0 701.8 L896.0 700.8 L898.0 699.7 L900.0 698.6 L902.0 697.5 L904.0 696.5 L906.0 695.4 L908.0 694.2 L910.0 693.1 L912.0 692.0 L914.0 690.9 L916.0 689.7 L918.0 688.6 L920.0 687.4 L922.0 686.3 L924.0 685.1 L926.0 684.0 L928.0 682.8 L930.0 681.7 L932.0 680.5 L934.0 679.3 L936.0 678.2 L938.0 677.0 L940.0 675.9 L942.0 674.7 L944.0 673.5 L946.0 672.4 L948.0 671.3 L950.0 670.1 L952.0 669.0 L954.0 667.9 L956.0 666.7 L958.0 665.6 L960.0 664.5 L962.0 663.4 L964.0 662.4 L966.0 661.3 L968.0 660.2 L970.0 659.2 L972.0 658.2 L974.0 657.2 L976.0 656.2 L978.0 655.2 L980.0 654.2 L982.0 653.3 L984.0 652.4 L986.0 651.5 L988.0 650.6 L990.0 649.7 L992.0 648.9 L994.0 648.1 L996.0 647.3 L998.0 646.5 L1000.0 645.8 L1002.0 645.1 L1004.0 644.4 L1006.0 643.7 L1008.0 643.1 L1010.0 642.5 L1012.0 641.9 L1014.0 641.4 L1016.0 640.9 L1018.0 640.4 L1020.0 639.9 L1022.0 639.5 L1024.0 639.1 L1026.0 638.8 L1028.0 638.5 L1030.0 638.2 L1032.0 637.9 L1034.0 637.7 L1036.0 637.5 L1038.0 637.4 L1040.0 637.3 L1042.0 637.2 L1044.0 637.2 L1046.0 637.1 L1048.0 637.2 L1050.0 637.2 L1052.0 637.3 L1054.0 637.5 L1056.0 637.7 L1058.0 637.9 L1060.0 638.1 L1062.0 638.4 L1064.0 638.7 L1066.0 639.0 L1068.0 639.4 L1070.0 639.8 L1072.0 640.3 L1074.0 640.7 L1076.0 641.3 L1078.0 641.8 L1080.0 642.4 L1082.0 643.0 L1084.0 643.6 L1086.0 644.2 L1088.0 644.9 L1090.0 645.6 L1092.0 646.4 L1094.0 647.1 L1096.0 647.9 L1098.0 648.7 L1100.0 649.5 L1102.0 650.4 L1104.0 651.3 L1106.0 652.2 L1108.0 653.1 L1110.0 654.0 L1112.0 655.0 L1114.0 656.0 L1116.0 657.0 L1118.0 658.0 L1120.0 659.0 L1122.0 660.0 L1124.0 661.1 L1126.0 662.1 L1128.0 663.2 L1130.0 664.3 L1132.0 665.4 L1134.0 666.5 L1136.0 667.6 L1138.0 668.7 L1140.0 669.9 L1142.0 671.0 L1144.0 672.2 L1146.0 673.3 L1148.0 674.5 L1150.0 675.6 L1152.0 676.8 L1154.0 677.9 L1156.0 679.1 L1158.0 680.2 L1160.0 681.4 L1162.0 682.6 L1164.0 683.7 L1166.0 684.9 L1168.0 686.0 L1170.0 687.2 L1172.0 688.3 L1174.0 689.5 L1176.0 690.6 L1178.0 691.8 L1180.0 692.9 L1182.0 694.0 L1184.0 695.1 L1186.0 696.2 L1188.0 697.3 L1190.0 698.4 L1192.0 699.5 L1194.0 700.5 L1196.0 701.6 L1198.0 702.6 L1200.0 703.7 L1202.0 704.7 L1204.0 705.7 L1206.0 706.7 L1208.0 707.7 L1210.0 708.7 L1212.0 709.7 L1214.0 710.6 L1216.0 711.5 L1218.0 712.5 L1220.0 713.4 L1222.0 714.3 L1224.0 715.2 L1226.0 716.0 L1228.0 716.9 L1230.0 717.7 L1232.0 718.6 L1234.0 719.4 L1236.0 720.2 L1238.0 720.9 L1240.0 721.7 L1242.0 722.5 L1244.0 723.2 L1246.0 723.9 L1248.0 724.6 L1250.0 725.3 L1252.0 726.0 L1254.0 726.7 L1256.0 727.3 L1258.0 728.0 L1260.0 728.6 L1262.0 729.2 L1264.0 729.8 L1266.0 730.4 L1268.0 730.9 L1270.0 731.5 L1272.0 732.0 L1274.0 732.6 L1276.0 733.1 L1278.0 733.6 L1280.0 734.0 L1282.0 734.5 L1284.0 735.0 L1286.0 735.4 L1288.0 735.9 L1290.0 736.3 L1292.0 736.7 L1294.0 737.1 L1296.0 737.5 L1298.0 737.9 L1300.0 738.2 L1302.0 738.6 L1304.0 738.9 L1306.0 739.3 L1308.0 739.6 L1310.0 739.9 L1312.0 740.2 L1314.0 740.5 L1316.0 740.8 L1318.0 741.0 L1320.0 741.3 L1322.0 741.6 L1324.0 741.8 L1326.0 742.0 L1328.0 742.3 L1330.0 742.5 L1332.0 742.7 L1334.0 742.9 L1336.0 743.1 L1338.0 743.3 L1340.0 743.5 L1342.0 743.7 L1344.0 743.9 L1346.0 744.0 L1348.0 744.2 L1350.0 744.3 L1352.0 744.5 L1354.0 744.6 L1356.0 744.8 L1358.0 744.9 L1360.0 745.0 L1362.0 745.1 L1364.0 745.3 L1366.0 745.4 L1368.0 745.5 L1370.0 745.6" stroke="#008000" stroke-width="5.5" stroke-linecap="round" stroke-dasharray="12 14" />
<path d="M283.4 740.5 L285.4 740.4 L287.4 740.4 L289.4 740.3 L291.4 740.2 L293.4 740.2 L295.4 740.1 L297.4 740.0 L299.4 740.0 L301.4 739.9 L303.4 739.8 L305.4 739.8 L307.4 739.7 L309.4 739.6 L311.4 739.5 L313.4 739.5 L315.4 739.4 L317.4 739.3 L319.4 739.2 L321.4 739.2 L323.4 739.1 L325.4 739.0 L327.4 738.9 L329.4 738.8 L331.4 738.8 L333.4 738.7 L335.4 738.6 L337.4 738.5 L339.4 738.4 L341.4 738.3 L343.4 738.2 L345.4 738.1 L347.4 738.0 L349.4 737.9 L351.4 737.9 L353.4 737.8 L355.4 737.7 L357.4 737.6 L359.4 737.5 L361.4 737.4 L363.4 737.2 L365.4 737.1 L367.4 737.0 L369.4 736.9 L371.4 736.8 L373.4 736.7 L375.4 736.6 L377.4 736.5 L379.4 736.3 L381.4 736.2 L383.4 736.1 L385.4 736.0 L387.4 735.9 L389.4 735.7 L391.4 735.6 L393.4 735.5 L395.4 735.3 L397.4 735.2 L399.4 735.0 L401.4 734.9 L403.4 734.8 L405.4 734.6 L407.4 734.4 L409.4 734.3 L411.4 734.1 L413.4 734.0 L415.4 733.8 L417.4 733.6 L419.4 733.5 L421.4 733.3 L423.4 733.1 L425.4 732.9 L427.4 732.8 L429.4 732.6 L431.4 732.4 L433.4 732.2 L435.4 732.0 L437.4 731.8 L439.4 731.5 L441.4 731.3 L443.4 731.1 L445.4 730.9 L447.4 730.6 L449.4 730.4 L451.4 730.2 L453.4 729.9 L455.4 729.6 L457.4 729.4 L459.4 729.1 L461.4 728.8 L463.4 728.5 L465.4 728.2 L467.4 727.9 L469.4 727.6 L471.4 727.3 L473.4 727.0 L475.4 726.6 L477.4 726.3 L479.4 725.9 L481.4 725.5 L483.4 725.1 L485.4 724.7 L487.4 724.3 L489.4 723.9 L491.4 723.5 L493.4 723.0 L495.4 722.6 L497.4 722.1 L499.4 721.6 L501.4 721.1 L503.4 720.5 L505.4 720.0 L507.4 719.4 L509.4 718.8 L511.4 718.2 L513.4 717.6 L515.4 717.0 L517.4 716.3 L519.4 715.6 L521.4 714.9 L523.4 714.2 L525.4 713.4 L527.4 712.6 L529.4 711.8 L531.4 710.9 L533.4 710.1 L535.4 709.2 L537.4 708.2 L539.4 707.3 L541.4 706.3 L543.4 705.3 L545.4 704.2 L547.4 703.1 L549.4 702.0 L551.4 700.8 L553.4 699.6 L555.4 698.3 L557.4 697.0 L559.4 695.7 L561.4 694.3 L563.4 692.9 L565.4 691.4 L567.4 689.9 L569.4 688.4 L571.4 686.8 L573.4 685.1 L575.4 683.4 L577.4 681.7 L579.4 679.9 L581.4 678.0 L583.4 676.1 L585.4 674.1 L587.4 672.1 L589.4 670.0 L591.4 667.9 L593.4 665.7 L595.4 663.4 L597.4 661.1 L599.4 658.7 L601.4 656.2 L603.4 653.7 L605.4 651.2 L607.4 648.5 L609.4 645.8 L611.4 643.0 L613.4 640.2 L615.4 637.3 L617.4 634.3 L619.4 631.3 L621.4 628.2 L623.4 625.0 L625.4 621.7 L627.4 618.4 L629.4 615.0 L631.4 611.6 L633.4 608.0 L635.4 604.4 L637.4 600.8 L639.4 597.0 L641.4 593.2 L643.4 589.3 L645.4 585.4 L647.4 581.3 L649.4 577.2 L651.4 573.1 L653.4 568.9 L655.4 564.6 L657.4 560.2 L659.4 555.8 L661.4 551.3 L663.4 546.8 L665.4 542.2 L667.4 537.5 L669.4 532.8 L671.4 528.0 L673.4 523.2 L675.4 518.3 L677.4 513.4 L679.4 508.5 L681.4 503.5 L683.4 498.5 L685.4 493.4 L687.4 488.4 L689.4 483.3 L691.4 478.2 L693.4 473.1 L695.4 468.0 L697.4 462.9 L699.4 457.8 L701.4 452.8 L703.4 447.8 L705.4 442.8 L707.4 437.9 L709.4 433.0 L711.4 428.3 L713.4 423.6 L715.4 419.0 L717.4 414.5 L719.4 410.2 L721.4 406.0 L723.4 401.9 L725.4 398.0 L727.4 394.3 L729.4 390.8 L731.4 387.5 L733.4 384.5 L735.4 381.6 L737.4 379.0 L739.4 376.7 L741.4 374.6 L743.4 372.8 L745.4 371.3 L747.4 370.1 L749.4 369.2 L751.4 368.5 L753.4 368.2 L755.4 368.2 L757.4 368.6 L759.4 369.2 L761.4 370.1 L763.4 371.3 L765.4 372.8 L767.4 374.6 L769.4 376.7 L771.4 379.1 L773.4 381.7 L775.4 384.5 L777.4 387.6 L779.4 390.9 L781.4 394.4 L783.4 398.2 L785.4 402.0 L787.4 406.1 L789.4 410.3 L791.4 414.7 L793.4 419.1 L795.4 423.7 L797.4 428.4 L799.4 433.2 L801.4 438.0 L803.4 442.9 L805.4 447.9 L807.4 452.9 L809.4 458.0 L811.4 463.0 L813.4 468.1 L815.4 473.2 L817.4 478.3 L819.4 483.4 L821.4 488.5 L823.4 493.6 L825.4 498.6 L827.4 503.6 L829.4 508.6 L831.4 513.6 L833.4 518.5 L835.4 523.3 L837.4 528.2 L839.4 532.9 L841.4 537.6 L843.4 542.3 L845.4 546.9 L847.4 551.4 L849.4 555.9 L851.4 560.3 L853.4 564.7 L855.4 569.0 L857.4 573.2 L859.4 577.4 L861.4 581.5 L863.4 585.5 L865.4 589.4 L867.4 593.3 L869.4 597.1 L871.4 600.9 L873.4 604.5 L875.4 608.1 L877.4 611.7 L879.4 615.1 L881.4 618.5 L883.4 621.8 L885.4 625.1 L887.4 628.3 L889.4 631.4 L891.4 634.4 L893.4 637.4 L895.4 640.3 L897.4 643.1 L899.4 645.9 L901.4 648.6 L903.4 651.2 L905.4 653.8 L907.4 656.3 L909.4 658.8 L911.4 661.1 L913.4 663.5 L915.4 665.7 L917.4 667.9 L919.4 670.1 L921.4 672.1 L923.4 674.2 L925.4 676.1 L927.4 678.0 L929.4 679.9 L931.4 681.7 L933.4 683.5 L935.4 685.2 L937.4 686.8 L939.4 688.4 L941.4 690.0 L943.4 691.5 L945.4 692.9 L947.4 694.4 L949.4 695.7 L951.4 697.1 L953.4 698.4 L955.4 699.6 L957.4 700.8 L959.4 702.0 L961.4 703.1 L963.4 704.2 L965.4 705.3 L967.4 706.3 L969.4 707.3 L971.4 708.3 L973.4 709.2 L975.4 710.1 L977.4 711.0 L979.4 711.8 L981.4 712.6 L983.4 713.4 L985.4 714.2 L987.4 714.9 L989.4 715.6 L991.4 716.3 L993.4 717.0 L995.4 717.6 L997.4 718.3 L999.4 718.9 L1001.4 719.4 L1003.4 720.0 L1005.4 720.6 L1007.4 721.1 L1009.4 721.6 L1011.4 722.1 L1013.4 722.6 L1015.4 723.0 L1017.4 723.5 L1019.4 723.9 L1021.4 724.3 L1023.4 724.8 L1025.4 725.2 L1027.4 725.5 L1029.4 725.9 L1031.4 726.3 L1033.4 726.6 L1035.4 727.0 L1037.4 727.3 L1039.4 727.6 L1041.4 727.9 L1043.4 728.2 L1045.4 728.5 L1047.4 728.8 L1049.4 729.1 L1051.4 729.4 L1053.4 729.7 L1055.4 729.9 L1057.4 730.2 L1059.4 730.4 L1061.4 730.7 L1063.4 730.9 L1065.4 731.1 L1067.4 731.3 L1069.4 731.6 L1071.4 731.8 L1073.4 732.0 L1075.4 732.2 L1077.4 732.4 L1079.4 732.6 L1081.4 732.8 L1083.4 732.9 L1085.4 733.1 L1087.4 733.3 L1089.4 733.5 L1091.4 733.7 L1093.4 733.8 L1095.4 734.0 L1097.4 734.1 L1099.4 734.3 L1101.4 734.5 L1103.4 734.6 L1105.4 734.8 L1107.4 734.9 L1109.4 735.0 L1111.4 735.2 L1113.4 735.3 L1115.4 735.5 L1117.4 735.6 L1119.4 735.7 L1121.4 735.9 L1123.4 736.0 L1125.4 736.1 L1127.4 736.2 L1129.4 736.3 L1131.4 736.5 L1133.4 736.6 L1135.4 736.7 L1137.4 736.8 L1139.4 736.9 L1141.4 737.0 L1143.4 737.1 L1145.4 737.2 L1147.4 737.4 L1149.4 737.5 L1151.4 737.6 L1153.4 737.7 L1155.4 737.8 L1157.4 737.9 L1159.4 738.0 L1161.4 738.0 L1163.4 738.1 L1165.4 738.2 L1167.4 738.3 L1169.4 738.4 L1171.4 738.5 L1173.4 738.6 L1175.4 738.7 L1177.4 738.8 L1179.4 738.8 L1181.4 738.9 L1183.4 739.0 L1185.4 739.1 L1187.4 739.2 L1189.4 739.2 L1191.4 739.3 L1193.4 739.4 L1195.4 739.5 L1197.4 739.5 L1199.4 739.6 L1201.4 739.7 L1203.4 739.8 L1205.4 739.8 L1207.4 739.9 L1209.4 740.0 L1211.4 740.0 L1213.4 740.1 L1215.4 740.2 L1217.4 740.2 L1219.4 740.3 L1221.4 740.4 L1223.4 740.4 L1225.4 740.5 L1227.4 740.5 L1229.4 740.6 L1231.4 740.7 L1233.4 740.7 L1235.4 740.8 L1237.4 740.8 L1239.4 740.9 L1241.4 741.0 L1243.4 741.0 L1245.4 741.1 L1247.4 741.1 L1249.4 741.2 L1251.4 741.2 L1253.4 741.3 L1255.4 741.3 L1257.4 741.4 L1259.4 741.4 L1261.4 741.5 L1263.4 741.5 L1265.4 741.6 L1267.4 741.6 L1269.4 741.7 L1271.4 741.7 L1273.4 741.8 L1275.4 741.8 L1277.4 741.9 L1279.4 741.9 L1281.4 742.0 L1283.4 742.0 L1285.4 742.0 L1287.4 742.1 L1289.4 742.1 L1291.4 742.2 L1293.4 742.2 L1295.4 742.3 L1297.4 742.3 L1299.4 742.3 L1301.4 742.4 L1303.4 742.4 L1305.4 742.5 L1307.4 742.5 L1309.4 742.5 L1311.4 742.6 L1313.4 742.6 L1315.4 742.7 L1317.4 742.7 L1319.4 742.7 L1321.4 742.8 L1323.4 742.8 L1325.4 742.8 L1327.4 742.9 L1329.4 742.9 L1331.4 742.9 L1333.4 743.0 L1335.4 743.0 L1337.4 743.0 L1339.4 743.1 L1341.4 743.1 L1343.4 743.1 L1345.4 743.2 L1347.4 743.2 L1349.4 743.2 L1351.4 743.3 L1353.4 743.3 L1355.4 743.3 L1357.4 743.4 L1359.4 743.4 L1361.4 743.4 L1363.4 743.4 L1365.4 743.5 L1367.4 743.5 L1369.4 743.5 L1370.0 743.5" stroke="#0000ff" stroke-width="5.5" stroke-linecap="round" stroke-dasharray="12 14" />
<path d="M283.4 749.5 H1370.0" stroke="#008000" stroke-width="5.5" stroke-linecap="round" stroke-dasharray="12 14"/>
<path d="M283.4 748.0 H1370.0" stroke="#0000ff" stroke-width="5.5" stroke-linecap="round" stroke-dasharray="12 14" stroke-dashoffset="3"/>
<path d="M287.9 733.8 L290.8 733.6 L293.8 733.4 L296.7 733.2 L299.6 733.0 L302.6 732.7 L305.5 732.5 L308.4 732.3 L311.3 732.1 L314.2 731.9 L317.1 731.7 L320.0 731.5 L322.9 731.2 L325.8 731.0 L328.7 730.8 L331.6 730.6 L334.5 730.4 L337.4 730.1 L340.3 729.9 L343.1 729.7 L346.0 729.5 L348.9 729.2 L351.8 729.0 L354.6 728.7 L357.5 728.5 L360.4 728.2 L363.2 728.0 L366.1 727.7 L369.0 727.4 L371.8 727.2 L374.7 726.9 L377.5 726.6 L380.4 726.3 L383.2 726.0 L386.1 725.6 L388.9 725.3 L391.8 725.0 L394.6 724.6 L397.5 724.3 L400.3 723.9 L403.2 723.5 L406.0 723.2 L408.8 722.8 L411.7 722.4 L414.5 721.9 L417.4 721.5 L420.2 721.1 L423.1 720.6 L425.9 720.1 L428.7 719.7 L431.6 719.2 L434.4 718.7 L437.3 718.1 L440.1 717.6 L442.9 717.0 L445.8 716.5 L448.6 715.9 L451.5 715.3 L454.3 714.7 L457.2 714.0 L460.0 713.4 L462.9 712.7 L465.7 712.0 L468.5 711.3 L471.4 710.6 L474.2 709.9 L477.1 709.1 L479.9 708.3 L482.8 707.5 L485.6 706.7 L488.4 705.8 L491.3 705.0 L494.1 704.1 L496.9 703.2 L499.7 702.2 L502.5 701.2 L505.3 700.3 L508.0 699.2 L510.8 698.2 L513.5 697.1 L516.2 696.0 L518.9 694.9 L521.6 693.7 L524.3 692.5 L526.9 691.3 L529.6 690.0 L532.2 688.8 L534.8 687.4 L537.3 686.1 L539.9 684.7 L542.4 683.3 L544.9 681.8 L547.3 680.3 L549.8 678.8 L552.2 677.2 L554.5 675.6 L556.9 674.0 L559.2 672.3 L561.5 670.6 L563.7 668.8 L565.9 667.0 L568.1 665.2 L570.2 663.3 L572.3 661.4 L574.4 659.4 L576.4 657.4 L578.4 655.4 L580.4 653.3 L582.3 651.2 L584.2 649.1 L586.0 646.9 L587.9 644.7 L589.7 642.5 L591.5 640.2 L593.2 637.9 L594.9 635.6 L596.6 633.2 L598.3 630.9 L599.9 628.5 L601.6 626.1 L603.2 623.6 L604.7 621.2 L606.3 618.7 L607.8 616.2 L609.3 613.7 L610.8 611.2 L612.3 608.7 L613.8 606.1 L615.2 603.6 L616.6 601.0 L618.0 598.4 L619.4 595.9 L620.8 593.3 L622.2 590.7 L623.6 588.1 L624.9 585.5 L626.2 582.9 L627.6 580.3 L628.9 577.7 L630.2 575.1 L631.5 572.5 L632.8 569.9 L634.0 567.2 L635.3 564.6 L636.6 562.0 L637.8 559.4 L639.0 556.7 L640.3 554.1 L641.5 551.5 L642.7 548.9 L643.9 546.2 L645.1 543.6 L646.3 541.0 L647.5 538.3 L648.7 535.7 L649.9 533.1 L651.1 530.4 L652.3 527.8 L653.5 525.2 L654.6 522.5 L655.8 519.9 L657.0 517.3 L658.1 514.7 L659.3 512.0 L660.5 509.4 L661.6 506.8 L662.8 504.2 L663.9 501.6 L665.1 498.9 L666.2 496.3 L667.3 493.7 L668.5 491.1 L669.6 488.5 L670.7 485.8 L671.8 483.2 L672.9 480.6 L674.0 477.9 L675.1 475.3 L676.2 472.6 L677.3 470.0 L678.3 467.3 L679.4 464.7 L680.5 462.0 L681.5 459.4 L682.5 456.7 L683.6 454.0 L684.6 451.3 L685.6 448.6 L686.6 445.9 L687.6 443.2 L688.5 440.5 L689.5 437.8 L690.4 435.0 L691.4 432.3 L692.3 429.5 L693.2 426.8 L694.1 424.0 L695.0 421.2 L695.9 418.4 L696.8 415.6 L697.6 412.8 L698.4 410.0 L699.3 407.1 L700.1 404.3 L700.9 401.4 L701.6 398.5 L702.4 395.6 L703.1 392.7 L703.9 389.8 L704.6 386.9 L705.4 384.0 L706.2 381.1 L706.9 378.2 L707.7 375.3 L708.5 372.4 L709.4 369.6 L710.2 366.7 L711.1 363.9 L712.1 361.1 L713.1 358.3 L714.1 355.6 L715.2 352.9 L716.3 350.2 L717.5 347.6 L718.8 345.0 L720.1 342.4 L721.5 339.9 L723.0 337.5 L724.6 335.1 L726.2 332.7 L728.0 330.5 L729.8 328.3 L731.8 326.1 L733.8 324.0 L736.0 322.0 L738.3 320.1 L740.6 318.4 L743.1 316.8 L745.6 315.5 L748.2 314.5 L750.8 313.9 L753.4 313.6 L756.1 313.5 L758.8 313.8 L761.5 314.3 L764.1 315.1 L766.7 316.1 L769.3 317.2 L771.8 318.6 L774.2 320.1 L776.6 321.7 L778.8 323.4 L781.0 325.2 L783.0 327.1 L785.0 329.1 L786.8 331.2 L788.6 333.4 L790.3 335.7 L792.0 338.0 L793.5 340.4 L795.0 342.8 L796.4 345.3 L797.7 347.9 L799.0 350.5 L800.3 353.2 L801.4 355.9 L802.6 358.7 L803.7 361.5 L804.7 364.3 L805.7 367.2 L806.7 370.1 L807.6 373.0 L808.6 375.9 L809.5 378.9 L810.4 381.8 L811.2 384.8 L812.1 387.7 L813.0 390.7 L813.8 393.6 L814.7 396.6 L815.5 399.5 L816.4 402.4 L817.3 405.3 L818.2 408.2 L819.1 411.0 L820.0 413.8 L821.0 416.6 L821.9 419.4 L822.9 422.2 L823.9 424.9 L824.9 427.6 L826.0 430.3 L827.0 433.0 L828.1 435.6 L829.3 438.3 L830.4 440.9 L831.6 443.4 L832.8 446.0 L834.1 448.5 L835.3 451.0 L836.7 453.5 L838.0 455.9 L839.4 458.3 L840.8 460.7 L842.3 463.1 L843.8 465.4 L845.4 467.7 L847.0 470.0 L848.6 472.2 L850.3 474.5 L852.1 476.6 L853.9 478.8 L855.7 480.9 L857.6 483.0 L859.6 485.1 L861.6 487.1 L863.7 489.1 L865.8 491.1 L868.0 493.0 L870.2 494.9 L872.6 496.7 L874.9 498.6 L877.3 500.3 L879.8 502.0 L882.3 503.7 L884.8 505.3 L887.4 506.9 L890.1 508.3 L892.7 509.7 L895.4 511.1 L898.1 512.3 L900.9 513.5 L903.6 514.6 L906.4 515.6 L909.2 516.5 L912.0 517.4 L914.8 518.1 L917.7 518.7 L920.5 519.2 L923.4 519.6 L926.2 519.9 L929.0 520.1 L931.9 520.2 L934.7 520.2 L937.6 520.2 L940.5 520.0 L943.3 519.8 L946.2 519.5 L949.0 519.2 L951.9 518.8 L954.8 518.3 L957.6 517.8 L960.5 517.3 L963.3 516.7 L966.2 516.1 L969.1 515.4 L971.9 514.8 L974.8 514.1 L977.6 513.4 L980.5 512.7 L983.4 512.0 L986.2 511.3 L989.1 510.6 L991.9 509.9 L994.8 509.2 L997.6 508.6 L1000.5 507.9 L1003.3 507.4 L1006.1 506.8 L1009.0 506.3 L1011.8 505.9 L1014.6 505.5 L1017.5 505.1 L1020.3 504.8 L1023.1 504.6 L1025.9 504.5 L1028.7 504.4 L1031.5 504.4 L1034.3 504.5 L1037.1 504.7 L1039.9 505.0 L1042.7 505.3 L1045.5 505.7 L1048.2 506.1 L1051.0 506.6 L1053.8 507.2 L1056.5 507.8 L1059.3 508.5 L1062.1 509.2 L1064.8 510.0 L1067.6 510.8 L1070.3 511.7 L1073.0 512.6 L1075.8 513.5 L1078.5 514.5 L1081.2 515.5 L1083.9 516.5 L1086.7 517.6 L1089.4 518.7 L1092.1 519.8 L1094.8 520.9 L1097.5 522.0 L1100.2 523.2 L1102.9 524.3 L1105.6 525.5 L1108.3 526.7 L1110.9 527.8 L1113.6 529.0 L1116.3 530.2 L1119.0 531.3 L1121.6 532.5 L1124.3 533.6 L1127.0 534.8 L1129.6 535.9 L1132.3 537.1 L1135.0 538.2 L1137.7 539.4 L1140.3 540.5 L1143.0 541.6 L1145.7 542.7 L1148.4 543.8 L1151.1 544.8 L1153.8 545.9 L1156.5 546.9 L1159.2 548.0 L1161.9 549.0 L1164.6 550.0 L1167.3 550.9 L1170.0 551.9 L1172.8 552.8 L1175.5 553.8 L1178.2 554.7 L1181.0 555.6 L1183.8 556.4 L1186.5 557.3 L1189.3 558.1 L1192.1 558.9 L1194.8 559.7 L1197.6 560.5 L1200.4 561.3 L1203.2 562.0 L1206.0 562.8 L1208.8 563.5 L1211.6 564.2 L1214.5 564.9 L1217.3 565.5 L1220.1 566.2 L1222.9 566.8 L1225.8 567.4 L1228.6 568.0 L1231.4 568.6 L1234.3 569.1 L1237.1 569.7 L1240.0 570.2 L1242.8 570.7 L1245.7 571.2 L1248.6 571.7 L1251.4 572.1 L1254.3 572.5 L1257.2 573.0 L1260.0 573.4 L1262.9 573.7 L1265.8 574.1 L1268.7 574.5 L1271.5 574.8 L1274.4 575.1 L1277.3 575.4 L1280.2 575.7 L1283.1 576.0 L1286.0 576.2 L1288.9 576.4 L1291.8 576.6 L1294.7 576.8 L1297.6 577.0 L1300.5 577.2 L1303.4 577.3 L1306.3 577.4 L1309.1 577.5 L1312.1 577.6 L1315.0 577.7 L1317.9 577.8 L1320.8 577.8 L1323.7 577.8 L1326.6 577.8 L1329.5 577.8 L1332.4 577.8 L1335.3 577.8 L1338.2 577.7 L1341.1 577.6 L1344.0 577.5 L1346.9 577.4 L1349.7 577.3 L1352.6 577.1 L1355.5 577.0 L1358.4 576.8 L1361.3 576.6 L1364.2 576.4 L1367.1 576.1 L1370.0 575.9" stroke="#ff0000" stroke-opacity="0.62" stroke-width="21"/>
<path d="M285.2 733.5 L287.9 733.2 L290.7 732.9 L293.5 732.6 L296.4 732.4 L299.2 732.1 L302.0 731.9 L304.8 731.7 L307.7 731.4 L310.5 731.2 L313.4 731.0 L316.2 730.8 L319.1 730.6 L322.0 730.4 L324.9 730.2 L327.7 730.1 L330.6 729.9 L333.5 729.7 L336.4 729.5 L339.3 729.4 L342.2 729.2 L345.1 729.0 L348.0 728.9 L350.9 728.7 L353.9 728.5 L356.8 728.4 L359.7 728.2 L362.6 728.0 L365.5 727.8 L368.5 727.7 L371.4 727.5 L374.3 727.3 L377.2 727.1 L380.2 726.9 L383.1 726.7 L386.0 726.5 L389.0 726.3 L391.9 726.1 L394.8 725.8 L397.7 725.6 L400.7 725.3 L403.6 725.1 L406.5 724.8 L409.4 724.5 L412.4 724.2 L415.3 723.9 L418.2 723.6 L421.1 723.3 L424.0 723.0 L426.9 722.6 L429.8 722.2 L432.7 721.8 L435.6 721.4 L438.5 721.0 L441.3 720.6 L444.2 720.1 L447.1 719.7 L449.9 719.2 L452.8 718.7 L455.6 718.2 L458.5 717.6 L461.3 717.0 L464.2 716.5 L467.0 715.9 L469.8 715.2 L472.6 714.6 L475.4 713.9 L478.2 713.2 L481.0 712.5 L483.7 711.7 L486.5 711.0 L489.3 710.2 L492.0 709.3 L494.7 708.5 L497.5 707.6 L500.2 706.7 L502.9 705.8 L505.6 704.8 L508.3 703.8 L510.9 702.8 L513.6 701.7 L516.3 700.6 L518.9 699.5 L521.5 698.4 L524.1 697.2 L526.7 696.0 L529.3 694.7 L531.9 693.4 L534.4 692.1 L537.0 690.7 L539.5 689.4 L542.0 687.9 L544.5 686.5 L547.0 685.0 L549.5 683.5 L551.9 681.9 L554.3 680.3 L556.7 678.7 L559.1 677.0 L561.5 675.3 L563.8 673.6 L566.2 671.8 L568.5 670.1 L570.7 668.2 L573.0 666.4 L575.2 664.5 L577.4 662.6 L579.6 660.6 L581.7 658.7 L583.8 656.7 L585.9 654.6 L588.0 652.6 L590.0 650.5 L592.0 648.4 L594.0 646.2 L595.9 644.1 L597.8 641.9 L599.6 639.6 L601.5 637.4 L603.3 635.1 L605.0 632.8 L606.7 630.5 L608.4 628.1 L610.1 625.7 L611.7 623.3 L613.2 620.9 L614.8 618.4 L616.3 615.9 L617.7 613.4 L619.2 610.9 L620.6 608.3 L621.9 605.8 L623.3 603.2 L624.6 600.6 L625.9 598.0 L627.2 595.4 L628.4 592.8 L629.7 590.1 L630.9 587.5 L632.1 584.8 L633.3 582.2 L634.5 579.5 L635.7 576.8 L636.8 574.2 L638.0 571.5 L639.2 568.8 L640.4 566.2 L641.5 563.5 L642.7 560.8 L643.9 558.2 L645.1 555.5 L646.3 552.9 L647.5 550.3 L648.7 547.6 L649.9 545.0 L651.1 542.4 L652.3 539.8 L653.6 537.2 L654.8 534.6 L656.0 532.0 L657.3 529.4 L658.5 526.8 L659.7 524.2 L660.9 521.7 L662.2 519.1 L663.4 516.5 L664.6 513.9 L665.8 511.3 L667.0 508.7 L668.2 506.1 L669.4 503.5 L670.5 500.9 L671.7 498.3 L672.9 495.7 L674.0 493.0 L675.1 490.4 L676.2 487.8 L677.3 485.1 L678.4 482.5 L679.4 479.8 L680.5 477.1 L681.5 474.4 L682.5 471.7 L683.5 469.0 L684.4 466.3 L685.4 463.6 L686.3 460.8 L687.1 458.1 L688.0 455.3 L688.8 452.5 L689.6 449.7 L690.4 446.8 L691.1 444.0 L691.8 441.1 L692.5 438.3 L693.2 435.4 L693.9 432.5 L694.5 429.6 L695.1 426.7 L695.8 423.8 L696.4 420.8 L697.0 417.9 L697.6 415.0 L698.3 412.0 L698.9 409.1 L699.6 406.2 L700.2 403.3 L700.9 400.4 L701.6 397.4 L702.3 394.6 L703.1 391.7 L703.9 388.8 L704.7 385.9 L705.6 383.1 L706.5 380.3 L707.4 377.4 L708.4 374.7 L709.4 371.9 L710.5 369.1 L711.6 366.4 L712.8 363.7 L714.1 361.1 L715.4 358.4 L716.8 355.8 L718.2 353.2 L719.8 350.7 L721.4 348.2 L723.1 345.7 L724.8 343.3 L726.6 341.0 L728.5 338.7 L730.5 336.5 L732.5 334.4 L734.5 332.5 L736.6 330.6 L738.8 328.9 L741.0 327.3 L743.2 325.9 L745.5 324.6 L747.8 323.5 L750.2 322.6 L752.6 321.9 L754.9 321.4 L757.4 321.2 L759.8 321.1 L762.2 321.3 L764.7 321.7 L767.1 322.2 L769.6 323.0 L772.0 323.9 L774.5 325.1 L776.9 326.3 L779.3 327.8 L781.6 329.3 L784.0 331.0 L786.2 332.9 L788.5 334.8 L790.7 336.8 L792.8 339.0 L794.9 341.2 L797.0 343.5 L798.9 345.8 L800.8 348.3 L802.6 350.7 L804.3 353.2 L806.0 355.7 L807.5 358.3 L809.0 360.9 L810.5 363.5 L811.8 366.2 L813.2 368.8 L814.4 371.5 L815.6 374.3 L816.7 377.0 L817.9 379.7 L818.9 382.5 L819.9 385.3 L820.9 388.1 L821.9 390.9 L822.8 393.7 L823.7 396.5 L824.6 399.3 L825.5 402.1 L826.4 405.0 L827.2 407.8 L828.1 410.6 L829.0 413.4 L829.8 416.2 L830.7 419.0 L831.6 421.8 L832.5 424.5 L833.4 427.3 L834.4 430.0 L835.3 432.8 L836.3 435.5 L837.4 438.2 L838.5 440.8 L839.6 443.4 L840.8 446.0 L842.0 448.6 L843.3 451.2 L844.6 453.7 L846.0 456.2 L847.4 458.6 L848.9 461.1 L850.4 463.5 L851.9 465.9 L853.5 468.3 L855.2 470.7 L856.8 473.1 L858.5 475.4 L860.3 477.8 L862.1 480.1 L863.9 482.4 L865.7 484.7 L867.6 487.0 L869.5 489.2 L871.5 491.5 L873.5 493.6 L875.5 495.8 L877.6 497.9 L879.7 500.0 L881.9 502.0 L884.1 504.0 L886.4 505.9 L888.6 507.8 L891.0 509.7 L893.3 511.4 L895.8 513.2 L898.2 514.8 L900.7 516.4 L903.2 517.9 L905.8 519.3 L908.3 520.6 L911.0 521.9 L913.6 523.1 L916.2 524.1 L918.9 525.1 L921.6 525.9 L924.3 526.6 L927.0 527.3 L929.8 527.8 L932.5 528.1 L935.3 528.4 L938.0 528.5 L940.8 528.5 L943.6 528.3 L946.4 528.1 L949.1 527.8 L951.9 527.3 L954.7 526.8 L957.5 526.2 L960.3 525.6 L963.1 524.8 L965.9 524.0 L968.8 523.2 L971.6 522.3 L974.4 521.4 L977.2 520.5 L980.1 519.5 L982.9 518.6 L985.7 517.6 L988.6 516.6 L991.4 515.7 L994.3 514.7 L997.1 513.8 L1000.0 512.9 L1002.8 512.1 L1005.7 511.3 L1008.6 510.6 L1011.4 509.8 L1014.3 509.2 L1017.2 508.6 L1020.0 508.0 L1022.9 507.4 L1025.8 507.0 L1028.6 506.5 L1031.5 506.1 L1034.3 505.8 L1037.2 505.5 L1040.1 505.2 L1042.9 505.0 L1045.8 504.8 L1048.6 504.7 L1051.5 504.6 L1054.4 504.5 L1057.2 504.5 L1060.0 504.6 L1062.9 504.7 L1065.7 504.8 L1068.6 505.0 L1071.4 505.2 L1074.2 505.5 L1077.0 505.8 L1079.8 506.2 L1082.6 506.6 L1085.4 507.0 L1088.2 507.5 L1091.0 508.0 L1093.8 508.6 L1096.6 509.2 L1099.3 509.9 L1102.1 510.6 L1104.8 511.3 L1107.6 512.1 L1110.3 513.0 L1113.0 513.8 L1115.8 514.8 L1118.5 515.7 L1121.2 516.8 L1123.8 517.8 L1126.5 518.9 L1129.2 520.0 L1131.8 521.2 L1134.5 522.4 L1137.1 523.6 L1139.8 524.8 L1142.4 526.1 L1145.1 527.4 L1147.7 528.7 L1150.3 530.0 L1152.9 531.4 L1155.6 532.7 L1158.2 534.1 L1160.8 535.4 L1163.4 536.8 L1166.0 538.2 L1168.6 539.6 L1171.3 540.9 L1173.9 542.3 L1176.5 543.6 L1179.1 545.0 L1181.8 546.3 L1184.4 547.6 L1187.1 548.9 L1189.7 550.2 L1192.4 551.4 L1195.0 552.6 L1197.7 553.8 L1200.4 555.0 L1203.0 556.1 L1205.7 557.3 L1208.4 558.3 L1211.1 559.4 L1213.8 560.4 L1216.5 561.5 L1219.3 562.4 L1222.0 563.4 L1224.7 564.3 L1227.5 565.2 L1230.2 566.1 L1233.0 567.0 L1235.7 567.8 L1238.5 568.6 L1241.3 569.4 L1244.0 570.2 L1246.8 570.9 L1249.6 571.7 L1252.4 572.4 L1255.2 573.1 L1258.0 573.7 L1260.8 574.4 L1263.6 575.0 L1266.4 575.6 L1269.3 576.2 L1272.1 576.7 L1274.9 577.3 L1277.7 577.8 L1280.6 578.3 L1283.4 578.8 L1286.3 579.2 L1289.1 579.7 L1292.0 580.1 L1294.8 580.5 L1297.7 580.9 L1300.6 581.3 L1303.4 581.7 L1306.3 582.1 L1309.2 582.4 L1312.1 582.7 L1314.9 583.0 L1317.8 583.3 L1320.7 583.6 L1323.6 583.9 L1326.5 584.1 L1329.4 584.4 L1332.3 584.6 L1335.2 584.8 L1338.1 585.0 L1341.0 585.2 L1343.9 585.4 L1346.8 585.5 L1349.7 585.7 L1352.6 585.8 L1355.5 586.0 L1358.4 586.1 L1361.3 586.2 L1364.2 586.3 L1367.1 586.4" stroke="#000" stroke-width="6.2" stroke-linecap="round" stroke-dasharray="12 14" />
<path d="M283.4 1210.5 L285.4 1210.5 L287.4 1210.5 L289.4 1210.4 L291.4 1210.4 L293.4 1210.4 L295.4 1210.4 L297.4 1210.4 L299.4 1210.4 L301.4 1210.3 L303.4 1210.3 L305.4 1210.3 L307.4 1210.3 L309.4 1210.3 L311.4 1210.3 L313.4 1210.2 L315.4 1210.2 L317.4 1210.2 L319.4 1210.2 L321.4 1210.2 L323.4 1210.2 L325.4 1210.1 L327.4 1210.1 L329.4 1210.1 L331.4 1210.1 L333.4 1210.1 L335.4 1210.0 L337.4 1210.0 L339.4 1210.0 L341.4 1210.0 L343.4 1210.0 L345.4 1209.9 L347.4 1209.9 L349.4 1209.9 L351.4 1209.9 L353.4 1209.9 L355.4 1209.8 L357.4 1209.8 L359.4 1209.8 L361.4 1209.8 L363.4 1209.8 L365.4 1209.7 L367.4 1209.7 L369.4 1209.7 L371.4 1209.7 L373.4 1209.7 L375.4 1209.6 L377.4 1209.6 L379.4 1209.6 L381.4 1209.6 L383.4 1209.6 L385.4 1209.5 L387.4 1209.5 L389.4 1209.5 L391.4 1209.5 L393.4 1209.4 L395.4 1209.4 L397.4 1209.4 L399.4 1209.4 L401.4 1209.3 L403.4 1209.3 L405.4 1209.3 L407.4 1209.3 L409.4 1209.3 L411.4 1209.2 L413.4 1209.2 L415.4 1209.2 L417.4 1209.2 L419.4 1209.1 L421.4 1209.1 L423.4 1209.1 L425.4 1209.1 L427.4 1209.0 L429.4 1209.0 L431.4 1209.0 L433.4 1208.9 L435.4 1208.9 L437.4 1208.9 L439.4 1208.9 L441.4 1208.8 L443.4 1208.8 L445.4 1208.8 L447.4 1208.7 L449.4 1208.7 L451.4 1208.7 L453.4 1208.6 L455.4 1208.6 L457.4 1208.6 L459.4 1208.5 L461.4 1208.5 L463.4 1208.4 L465.4 1208.4 L467.4 1208.4 L469.4 1208.3 L471.4 1208.3 L473.4 1208.2 L475.4 1208.2 L477.4 1208.1 L479.4 1208.1 L481.4 1208.0 L483.4 1208.0 L485.4 1207.9 L487.4 1207.8 L489.4 1207.8 L491.4 1207.7 L493.4 1207.6 L495.4 1207.5 L497.4 1207.5 L499.4 1207.4 L501.4 1207.3 L503.4 1207.2 L505.4 1207.1 L507.4 1207.0 L509.4 1206.9 L511.4 1206.7 L513.4 1206.6 L515.4 1206.5 L517.4 1206.3 L519.4 1206.2 L521.4 1206.0 L523.4 1205.8 L525.4 1205.7 L527.4 1205.5 L529.4 1205.3 L531.4 1205.0 L533.4 1204.8 L535.4 1204.6 L537.4 1204.3 L539.4 1204.0 L541.4 1203.7 L543.4 1203.4 L545.4 1203.1 L547.4 1202.8 L549.4 1202.4 L551.4 1202.0 L553.4 1201.6 L555.4 1201.2 L557.4 1200.8 L559.4 1200.3 L561.4 1199.8 L563.4 1199.3 L565.4 1198.7 L567.4 1198.2 L569.4 1197.5 L571.4 1196.9 L573.4 1196.2 L575.4 1195.5 L577.4 1194.8 L579.4 1194.0 L581.4 1193.2 L583.4 1192.4 L585.4 1191.5 L587.4 1190.6 L589.4 1189.7 L591.4 1188.7 L593.4 1187.6 L595.4 1186.5 L597.4 1185.4 L599.4 1184.2 L601.4 1183.0 L603.4 1181.8 L605.4 1180.5 L607.4 1179.1 L609.4 1177.7 L611.4 1176.3 L613.4 1174.8 L615.4 1173.2 L617.4 1171.6 L619.4 1170.0 L621.4 1168.3 L623.4 1166.5 L625.4 1164.7 L627.4 1162.9 L629.4 1161.0 L631.4 1159.1 L633.4 1157.1 L635.4 1155.0 L637.4 1153.0 L639.4 1150.8 L641.4 1148.7 L643.4 1146.5 L645.4 1144.2 L647.4 1141.9 L649.4 1139.6 L651.4 1137.2 L653.4 1134.8 L655.4 1132.4 L657.4 1129.9 L659.4 1127.4 L661.4 1124.9 L663.4 1122.4 L665.4 1119.8 L667.4 1117.2 L669.4 1114.6 L671.4 1112.0 L673.4 1109.4 L675.4 1106.8 L677.4 1104.2 L679.4 1101.6 L681.4 1099.0 L683.4 1096.4 L685.4 1093.8 L687.4 1091.3 L689.4 1088.7 L691.4 1086.2 L693.4 1083.7 L695.4 1081.3 L697.4 1078.9 L699.4 1076.5 L701.4 1074.2 L703.4 1071.9 L705.4 1069.7 L707.4 1067.5 L709.4 1065.4 L711.4 1063.3 L713.4 1061.4 L715.4 1059.5 L717.4 1057.6 L719.4 1055.9 L721.4 1054.2 L723.4 1052.7 L725.4 1051.2 L727.4 1049.8 L729.4 1048.5 L731.4 1047.2 L733.4 1046.1 L735.4 1045.1 L737.4 1044.2 L739.4 1043.4 L741.4 1042.7 L743.4 1042.1 L745.4 1041.7 L747.4 1041.3 L749.4 1041.0 L751.4 1040.9 L753.4 1040.9 L755.4 1041.0 L757.4 1041.1 L759.4 1041.4 L761.4 1041.9 L763.4 1042.4 L765.4 1043.0 L767.4 1043.8 L769.4 1044.6 L771.4 1045.5 L773.4 1046.6 L775.4 1047.7 L777.4 1049.0 L779.4 1050.3 L781.4 1051.8 L783.4 1053.3 L785.4 1054.9 L787.4 1056.6 L789.4 1058.4 L791.4 1060.3 L793.4 1062.2 L795.4 1064.2 L797.4 1066.3 L799.4 1068.4 L801.4 1070.6 L803.4 1072.8 L805.4 1075.1 L807.4 1077.5 L809.4 1079.9 L811.4 1082.3 L813.4 1084.8 L815.4 1087.3 L817.4 1089.8 L819.4 1092.3 L821.4 1094.9 L823.4 1097.5 L825.4 1100.1 L827.4 1102.7 L829.4 1105.3 L831.4 1107.9 L833.4 1110.5 L835.4 1113.1 L837.4 1115.7 L839.4 1118.3 L841.4 1120.9 L843.4 1123.4 L845.4 1126.0 L847.4 1128.5 L849.4 1131.0 L851.4 1133.4 L853.4 1135.8 L855.4 1138.2 L857.4 1140.6 L859.4 1142.9 L861.4 1145.2 L863.4 1147.4 L865.4 1149.6 L867.4 1151.7 L869.4 1153.8 L871.4 1155.9 L873.4 1157.9 L875.4 1159.9 L877.4 1161.8 L879.4 1163.7 L881.4 1165.5 L883.4 1167.3 L885.4 1169.0 L887.4 1170.7 L889.4 1172.3 L891.4 1173.9 L893.4 1175.4 L895.4 1176.9 L897.4 1178.3 L899.4 1179.7 L901.4 1181.0 L903.4 1182.3 L905.4 1183.5 L907.4 1184.7 L909.4 1185.9 L911.4 1187.0 L913.4 1188.1 L915.4 1189.1 L917.4 1190.1 L919.4 1191.0 L921.4 1191.9 L923.4 1192.8 L925.4 1193.6 L927.4 1194.4 L929.4 1195.1 L931.4 1195.8 L933.4 1196.5 L935.4 1197.2 L937.4 1197.8 L939.4 1198.4 L941.4 1199.0 L943.4 1199.5 L945.4 1200.0 L947.4 1200.5 L949.4 1201.0 L951.4 1201.4 L953.4 1201.8 L955.4 1202.2 L957.4 1202.6 L959.4 1202.9 L961.4 1203.3 L963.4 1203.6 L965.4 1203.9 L967.4 1204.2 L969.4 1204.4 L971.4 1204.7 L973.4 1204.9 L975.4 1205.1 L977.4 1205.3 L979.4 1205.5 L981.4 1205.7 L983.4 1205.9 L985.4 1206.1 L987.4 1206.2 L989.4 1206.4 L991.4 1206.5 L993.4 1206.7 L995.4 1206.8 L997.4 1206.9 L999.4 1207.0 L1001.4 1207.1 L1003.4 1207.2 L1005.4 1207.3 L1007.4 1207.4 L1009.4 1207.5 L1011.4 1207.6 L1013.4 1207.7 L1015.4 1207.7 L1017.4 1207.8 L1019.4 1207.9 L1021.4 1207.9 L1023.4 1208.0 L1025.4 1208.0 L1027.4 1208.1 L1029.4 1208.2 L1031.4 1208.2 L1033.4 1208.3 L1035.4 1208.3 L1037.4 1208.3 L1039.4 1208.4 L1041.4 1208.4 L1043.4 1208.5 L1045.4 1208.5 L1047.4 1208.5 L1049.4 1208.6 L1051.4 1208.6 L1053.4 1208.6 L1055.4 1208.7 L1057.4 1208.7 L1059.4 1208.7 L1061.4 1208.8 L1063.4 1208.8 L1065.4 1208.8 L1067.4 1208.9 L1069.4 1208.9 L1071.4 1208.9 L1073.4 1209.0 L1075.4 1209.0 L1077.4 1209.0 L1079.4 1209.0 L1081.4 1209.1 L1083.4 1209.1 L1085.4 1209.1 L1087.4 1209.1 L1089.4 1209.2 L1091.4 1209.2 L1093.4 1209.2 L1095.4 1209.2 L1097.4 1209.3 L1099.4 1209.3 L1101.4 1209.3 L1103.4 1209.3 L1105.4 1209.4 L1107.4 1209.4 L1109.4 1209.4 L1111.4 1209.4 L1113.4 1209.5 L1115.4 1209.5 L1117.4 1209.5 L1119.4 1209.5 L1121.4 1209.5 L1123.4 1209.6 L1125.4 1209.6 L1127.4 1209.6 L1129.4 1209.6 L1131.4 1209.6 L1133.4 1209.7 L1135.4 1209.7 L1137.4 1209.7 L1139.4 1209.7 L1141.4 1209.8 L1143.4 1209.8 L1145.4 1209.8 L1147.4 1209.8 L1149.4 1209.8 L1151.4 1209.9 L1153.4 1209.9 L1155.4 1209.9 L1157.4 1209.9 L1159.4 1209.9 L1161.4 1210.0 L1163.4 1210.0 L1165.4 1210.0 L1167.4 1210.0 L1169.4 1210.0 L1171.4 1210.1 L1173.4 1210.1 L1175.4 1210.1 L1177.4 1210.1 L1179.4 1210.1 L1181.4 1210.1 L1183.4 1210.2 L1185.4 1210.2 L1187.4 1210.2 L1189.4 1210.2 L1191.4 1210.2 L1193.4 1210.3 L1195.4 1210.3 L1197.4 1210.3 L1199.4 1210.3 L1201.4 1210.3 L1203.4 1210.3 L1205.4 1210.4 L1207.4 1210.4 L1209.4 1210.4 L1211.4 1210.4 L1213.4 1210.4 L1215.4 1210.4 L1217.4 1210.5 L1219.4 1210.5 L1221.4 1210.5 L1223.4 1210.5 L1225.4 1210.5 L1227.4 1210.5 L1229.4 1210.6 L1231.4 1210.6 L1233.4 1210.6 L1235.4 1210.6 L1237.4 1210.6 L1239.4 1210.6 L1241.4 1210.6 L1243.4 1210.7 L1245.4 1210.7 L1247.4 1210.7 L1249.4 1210.7 L1251.4 1210.7 L1253.4 1210.7 L1255.4 1210.7 L1257.4 1210.8 L1259.4 1210.8 L1261.4 1210.8 L1263.4 1210.8 L1265.4 1210.8 L1267.4 1210.8 L1269.4 1210.8 L1271.4 1210.9 L1273.4 1210.9 L1275.4 1210.9 L1277.4 1210.9 L1279.4 1210.9 L1281.4 1210.9 L1283.4 1210.9 L1285.4 1211.0 L1287.4 1211.0 L1289.4 1211.0 L1291.4 1211.0 L1293.4 1211.0 L1295.4 1211.0 L1297.4 1211.0 L1299.4 1211.0 L1301.4 1211.1 L1303.4 1211.1 L1305.4 1211.1 L1307.4 1211.1 L1309.4 1211.1 L1311.4 1211.1 L1313.4 1211.1 L1315.4 1211.1 L1317.4 1211.2 L1319.4 1211.2 L1321.4 1211.2 L1323.4 1211.2 L1325.4 1211.2 L1327.4 1211.2 L1329.4 1211.2 L1331.4 1211.2 L1333.4 1211.2 L1335.4 1211.3 L1337.4 1211.3 L1339.4 1211.3 L1341.4 1211.3 L1343.4 1211.3 L1345.4 1211.3 L1347.4 1211.3 L1349.4 1211.3 L1351.4 1211.3 L1353.4 1211.4 L1355.4 1211.4 L1357.4 1211.4 L1359.4 1211.4 L1361.4 1211.4 L1363.4 1211.4 L1365.4 1211.4 L1367.4 1211.4 L1369.4 1211.4 L1370.0 1211.4 L1370.0 1213.5 L283.4 1213.5 Z" fill="url(#gb12)" stroke="none"/>
<path d="M480.0 1212.7 L481.8 1212.5 L483.6 1212.4 L485.4 1212.3 L487.2 1212.1 L489.0 1212.0 L490.8 1211.8 L492.6 1211.7 L494.4 1211.5 L496.2 1211.4 L498.0 1211.2 L499.7 1211.0 L501.5 1210.9 L503.3 1210.7 L505.1 1210.5 L506.9 1210.4 L508.7 1210.2 L510.5 1210.0 L512.3 1209.8 L514.1 1209.7 L515.9 1209.5 L517.7 1209.3 L519.5 1209.1 L521.2 1208.9 L523.0 1208.7 L524.8 1208.5 L526.6 1208.3 L528.4 1208.1 L530.2 1207.9 L532.0 1207.7 L533.8 1207.5 L535.6 1207.3 L537.4 1207.0 L539.1 1206.8 L540.9 1206.6 L542.7 1206.4 L544.5 1206.1 L546.3 1205.9 L548.1 1205.7 L549.9 1205.5 L551.7 1205.2 L553.5 1205.0 L555.2 1204.7 L557.0 1204.5 L558.8 1204.2 L560.6 1204.0 L562.4 1203.7 L564.2 1203.5 L566.0 1203.2 L567.8 1203.0 L569.5 1202.7 L571.3 1202.5 L573.1 1202.2 L574.9 1201.9 L576.7 1201.7 L578.5 1201.4 L580.2 1201.1 L582.0 1200.9 L583.8 1200.6 L585.6 1200.3 L587.4 1200.0 L589.2 1199.7 L590.9 1199.5 L592.7 1199.2 L594.5 1198.9 L596.3 1198.6 L598.1 1198.3 L599.9 1198.0 L601.6 1197.7 L603.4 1197.4 L605.2 1197.1 L607.0 1196.8 L608.8 1196.5 L610.5 1196.2 L612.3 1195.9 L614.1 1195.6 L615.9 1195.3 L617.6 1195.0 L619.4 1194.7 L621.2 1194.3 L623.0 1194.0 L624.7 1193.7 L626.5 1193.4 L628.3 1193.1 L630.1 1192.7 L631.8 1192.4 L633.6 1192.1 L635.4 1191.7 L637.2 1191.4 L638.9 1191.1 L640.7 1190.7 L642.5 1190.4 L644.2 1190.1 L646.0 1189.7 L647.8 1189.4 L649.5 1189.0 L651.3 1188.7 L653.1 1188.4 L654.9 1188.0 L656.6 1187.7 L658.4 1187.3 L660.2 1187.0 L661.9 1186.6 L663.7 1186.2 L665.4 1185.9 L667.2 1185.5 L669.0 1185.2 L670.7 1184.8 L672.5 1184.4 L674.3 1184.1 L676.0 1183.7 L677.8 1183.3 L679.5 1182.9 L681.3 1182.5 L683.0 1182.2 L684.8 1181.8 L686.6 1181.4 L688.3 1181.0 L690.1 1180.6 L691.8 1180.2 L693.6 1179.8 L695.3 1179.3 L697.1 1178.9 L698.8 1178.5 L700.5 1178.1 L702.3 1177.6 L704.0 1177.2 L705.8 1176.7 L707.5 1176.3 L709.2 1175.8 L711.0 1175.4 L712.7 1174.9 L714.5 1174.4 L716.2 1174.0 L717.9 1173.5 L719.7 1173.0 L721.4 1172.5 L723.1 1172.0 L724.9 1171.6 L726.6 1171.1 L728.3 1170.6 L730.0 1170.1 L731.8 1169.6 L733.5 1169.1 L735.2 1168.6 L737.0 1168.1 L738.7 1167.6 L740.4 1167.0 L742.1 1166.5 L743.9 1166.0 L745.6 1165.5 L747.3 1165.0 L749.0 1164.5 L750.8 1164.0 L752.5 1163.4 L754.2 1162.9 L755.9 1162.4 L757.6 1161.9 L759.4 1161.4 L761.1 1160.8 L762.8 1160.3 L764.5 1159.8 L766.3 1159.3 L768.0 1158.8 L769.7 1158.2 L771.4 1157.7 L773.2 1157.2 L774.9 1156.7 L776.6 1156.2 L778.3 1155.7 L780.1 1155.2 L781.8 1154.7 L783.5 1154.1 L785.2 1153.6 L787.0 1153.1 L788.7 1152.6 L790.4 1152.1 L792.2 1151.6 L793.9 1151.1 L795.6 1150.7 L797.3 1150.2 L799.1 1149.7 L800.8 1149.2 L802.5 1148.7 L804.3 1148.2 L806.0 1147.8 L807.7 1147.3 L809.5 1146.8 L811.2 1146.4 L813.0 1145.9 L814.7 1145.5 L816.4 1145.0 L818.2 1144.6 L819.9 1144.2 L821.7 1143.7 L823.4 1143.3 L825.2 1142.9 L826.9 1142.5 L828.7 1142.1 L830.4 1141.7 L832.2 1141.3 L833.9 1140.9 L835.7 1140.5 L837.4 1140.1 L839.2 1139.7 L840.9 1139.4 L842.7 1139.0 L844.4 1138.7 L846.2 1138.3 L848.0 1138.0 L849.7 1137.6 L851.5 1137.3 L853.3 1137.0 L855.0 1136.7 L856.8 1136.4 L858.6 1136.1 L860.3 1135.8 L862.1 1135.5 L863.9 1135.2 L865.6 1134.9 L867.4 1134.6 L869.2 1134.4 L871.0 1134.1 L872.8 1133.9 L874.5 1133.6 L876.3 1133.4 L878.1 1133.1 L879.9 1132.9 L881.6 1132.6 L883.4 1132.4 L885.2 1132.2 L887.0 1132.0 L888.8 1131.8 L890.6 1131.6 L892.4 1131.4 L894.1 1131.2 L895.9 1131.0 L897.7 1130.8 L899.5 1130.6 L901.3 1130.4 L903.1 1130.2 L904.9 1130.1 L906.7 1129.9 L908.5 1129.7 L910.3 1129.6 L912.1 1129.4 L913.9 1129.3 L915.7 1129.1 L917.5 1129.0 L919.3 1128.8 L921.0 1128.7 L922.8 1128.6 L924.6 1128.4 L926.4 1128.3 L928.2 1128.2 L930.0 1128.0 L931.8 1127.9 L933.6 1127.8 L935.5 1127.7 L937.3 1127.6 L939.1 1127.5 L940.9 1127.4 L942.7 1127.3 L944.5 1127.2 L946.3 1127.1 L948.1 1127.0 L949.9 1126.9 L951.7 1126.8 L953.5 1126.7 L955.3 1126.6 L957.1 1126.5 L958.9 1126.5 L960.7 1126.4 L962.5 1126.3 L964.3 1126.2 L966.1 1126.1 L967.9 1126.1 L969.8 1126.0 L971.6 1125.9 L973.4 1125.9 L975.2 1125.8 L977.0 1125.7 L978.8 1125.7 L980.6 1125.6 L982.4 1125.5 L984.2 1125.5 L986.0 1125.4 L987.8 1125.4 L989.6 1125.3 L991.5 1125.2 L993.3 1125.2 L995.1 1125.1 L996.9 1125.1 L998.7 1125.0 L1000.5 1125.0 L1002.3 1124.9 L1004.1 1124.9 L1005.9 1124.8 L1007.7 1124.7 L1009.5 1124.7 L1011.3 1124.6 L1013.2 1124.6 L1015.0 1124.5 L1016.8 1124.5 L1018.6 1124.4 L1020.4 1124.4 L1022.2 1124.3 L1024.0 1124.2 L1025.8 1124.2 L1027.6 1124.1 L1029.4 1124.1 L1031.2 1124.0 L1033.0 1124.0 L1034.8 1123.9 L1036.6 1123.9 L1038.4 1123.8 L1040.2 1123.8 L1042.0 1123.7 L1043.8 1123.6 L1045.7 1123.6 L1047.5 1123.5 L1049.3 1123.5 L1051.1 1123.4 L1052.9 1123.4 L1054.7 1123.3 L1056.5 1123.3 L1058.3 1123.2 L1060.1 1123.1 L1061.9 1123.1 L1063.7 1123.0 L1065.5 1123.0 L1067.3 1122.9 L1069.1 1122.9 L1070.9 1122.8 L1072.7 1122.8 L1074.5 1122.7 L1076.3 1122.7 L1078.1 1122.6 L1079.9 1122.5 L1081.7 1122.5 L1083.5 1122.4 L1085.3 1122.4 L1087.1 1122.3 L1088.9 1122.3 L1090.7 1122.2 L1092.5 1122.2 L1094.3 1122.1 L1096.1 1122.1 L1097.9 1122.0 L1099.7 1122.0 L1101.5 1121.9 L1103.3 1121.9 L1105.1 1121.8 L1106.9 1121.8 L1108.7 1121.7 L1110.5 1121.7 L1112.3 1121.6 L1114.1 1121.6 L1115.9 1121.5 L1117.7 1121.5 L1119.5 1121.4 L1121.3 1121.4 L1123.1 1121.3 L1124.9 1121.3 L1126.7 1121.2 L1128.5 1121.2 L1130.3 1121.1 L1132.1 1121.1 L1133.9 1121.0 L1135.7 1121.0 L1137.5 1120.9 L1139.3 1120.9 L1141.1 1120.8 L1142.9 1120.8 L1144.7 1120.8 L1146.5 1120.7 L1148.3 1120.7 L1150.1 1120.6 L1151.9 1120.6 L1153.7 1120.5 L1155.5 1120.5 L1157.3 1120.4 L1159.1 1120.4 L1160.9 1120.4 L1162.7 1120.3 L1164.5 1120.3 L1166.3 1120.2 L1168.1 1120.2 L1169.9 1120.2 L1171.7 1120.1 L1173.5 1120.1 L1175.3 1120.0 L1177.1 1120.0 L1178.9 1120.0 L1180.7 1119.9 L1182.5 1119.9 L1184.3 1119.9 L1186.1 1119.8 L1187.9 1119.8 L1189.7 1119.8 L1191.5 1119.7 L1193.3 1119.7 L1195.1 1119.6 L1196.9 1119.6 L1198.7 1119.6 L1200.5 1119.6 L1202.3 1119.5 L1204.1 1119.5 L1205.9 1119.5 L1207.7 1119.4 L1209.5 1119.4 L1211.3 1119.4 L1213.1 1119.3 L1214.9 1119.3 L1216.7 1119.3 L1218.5 1119.3 L1220.3 1119.2 L1222.1 1119.2 L1223.9 1119.2 L1225.7 1119.2 L1227.5 1119.1 L1229.3 1119.1 L1231.1 1119.1 L1232.9 1119.1 L1234.7 1119.1 L1236.5 1119.0 L1238.3 1119.0 L1240.1 1119.0 L1241.9 1119.0 L1243.7 1119.0 L1245.5 1118.9 L1247.3 1118.9 L1249.1 1118.9 L1250.9 1118.9 L1252.7 1118.9 L1254.5 1118.9 L1256.3 1118.8 L1258.1 1118.8 L1259.9 1118.8 L1261.7 1118.8 L1263.5 1118.8 L1265.3 1118.8 L1267.1 1118.8 L1268.9 1118.8 L1270.7 1118.8 L1272.5 1118.8 L1274.3 1118.8 L1276.1 1118.8 L1277.9 1118.7 L1279.7 1118.7 L1281.5 1118.7 L1283.3 1118.7 L1285.1 1118.7 L1286.9 1118.7 L1288.7 1118.7 L1290.5 1118.7 L1292.3 1118.7 L1294.1 1118.7 L1295.9 1118.7 L1297.7 1118.7 L1299.5 1118.8 L1301.3 1118.8 L1303.1 1118.8 L1304.9 1118.8 L1306.7 1118.8 L1308.5 1118.8 L1310.3 1118.8 L1312.2 1118.8 L1314.0 1118.8 L1315.8 1118.8 L1317.6 1118.8 L1319.4 1118.9 L1321.2 1118.9 L1323.0 1118.9 L1324.8 1118.9 L1326.6 1118.9 L1328.4 1118.9 L1330.2 1119.0 L1332.0 1119.0 L1333.8 1119.0 L1335.6 1119.0 L1337.4 1119.1 L1339.2 1119.1 L1341.1 1119.1 L1342.9 1119.1 L1344.7 1119.2 L1346.5 1119.2 L1348.3 1119.2 L1350.1 1119.2 L1351.9 1119.3 L1353.7 1119.3 L1355.5 1119.3 L1357.3 1119.4 L1359.1 1119.4 L1361.0 1119.5 L1362.8 1119.5 L1364.6 1119.5 L1366.4 1119.6 L1368.2 1119.6" stroke="#888888" stroke-width="3.8" stroke-dasharray="7.5 6.9" />
<path d="M860.1 1213.6 L861.1 1213.6 L862.1 1213.6 L863.2 1213.7 L864.2 1213.7 L865.3 1213.7 L866.3 1213.7 L867.3 1213.7 L868.4 1213.7 L869.4 1213.7 L870.4 1213.7 L871.5 1213.7 L872.5 1213.7 L873.5 1213.7 L874.6 1213.7 L875.6 1213.7 L876.6 1213.6 L877.7 1213.6 L878.7 1213.6 L879.7 1213.6 L880.8 1213.6 L881.8 1213.5 L882.8 1213.5 L883.9 1213.5 L884.9 1213.4 L885.9 1213.4 L887.0 1213.3 L888.0 1213.3 L889.0 1213.3 L890.1 1213.2 L891.1 1213.2 L892.1 1213.1 L893.1 1213.1 L894.2 1213.0 L895.2 1212.9 L896.2 1212.9 L897.3 1212.8 L898.3 1212.8 L899.3 1212.7 L900.3 1212.6 L901.4 1212.5 L902.4 1212.5 L903.4 1212.4 L904.4 1212.3 L905.5 1212.2 L906.5 1212.2 L907.5 1212.1 L908.5 1212.0 L909.6 1211.9 L910.6 1211.8 L911.6 1211.7 L912.6 1211.6 L913.7 1211.5 L914.7 1211.4 L915.7 1211.3 L916.7 1211.2 L917.7 1211.1 L918.8 1211.0 L919.8 1210.9 L920.8 1210.8 L921.8 1210.7 L922.8 1210.6 L923.9 1210.5 L924.9 1210.4 L925.9 1210.2 L926.9 1210.1 L927.9 1210.0 L929.0 1209.9 L930.0 1209.8 L931.0 1209.6 L932.0 1209.5 L933.0 1209.4 L934.1 1209.2 L935.1 1209.1 L936.1 1209.0 L937.1 1208.8 L938.1 1208.7 L939.2 1208.6 L940.2 1208.4 L941.2 1208.3 L942.2 1208.2 L943.2 1208.0 L944.2 1207.9 L945.3 1207.7 L946.3 1207.6 L947.3 1207.4 L948.3 1207.3 L949.3 1207.1 L950.3 1207.0 L951.3 1206.8 L952.4 1206.7 L953.4 1206.5 L954.4 1206.3 L955.4 1206.2 L956.4 1206.0 L957.4 1205.9 L958.4 1205.7 L959.5 1205.5 L960.5 1205.4 L961.5 1205.2 L962.5 1205.0 L963.5 1204.9 L964.5 1204.7 L965.5 1204.5 L966.6 1204.4 L967.6 1204.2 L968.6 1204.0 L969.6 1203.9 L970.6 1203.7 L971.6 1203.5 L972.6 1203.3 L973.6 1203.1 L974.7 1203.0 L975.7 1202.8 L976.7 1202.6 L977.7 1202.4 L978.7 1202.2 L979.7 1202.1 L980.7 1201.9 L981.7 1201.7 L982.8 1201.5 L983.8 1201.3 L984.8 1201.1 L985.8 1201.0 L986.8 1200.8 L987.8 1200.6 L988.8 1200.4 L989.8 1200.2 L990.8 1200.0 L991.9 1199.8 L992.9 1199.6 L993.9 1199.4 L994.9 1199.2 L995.9 1199.1 L996.9 1198.9 L997.9 1198.7 L998.9 1198.5 L999.9 1198.3 L1000.9 1198.1 L1002.0 1197.9 L1003.0 1197.7 L1004.0 1197.5 L1005.0 1197.3 L1006.0 1197.1 L1007.0 1196.9 L1008.0 1196.7 L1009.0 1196.5 L1010.0 1196.3 L1011.0 1196.1 L1012.1 1195.9 L1013.1 1195.7 L1014.1 1195.5 L1015.1 1195.3 L1016.1 1195.1 L1017.1 1194.9 L1018.1 1194.7 L1019.1 1194.5 L1020.1 1194.3 L1021.1 1194.1 L1022.1 1193.9 L1023.2 1193.7 L1024.2 1193.5 L1025.2 1193.3 L1026.2 1193.1 L1027.2 1192.9 L1028.2 1192.7 L1029.2 1192.5 L1030.2 1192.3 L1031.2 1192.1 L1032.2 1191.9 L1033.3 1191.7 L1034.3 1191.5 L1035.3 1191.3 L1036.3 1191.1 L1037.3 1190.9 L1038.3 1190.7 L1039.3 1190.5 L1040.3 1190.3 L1041.3 1190.1 L1042.3 1189.9 L1043.4 1189.7 L1044.4 1189.5 L1045.4 1189.3 L1046.4 1189.1 L1047.4 1188.9 L1048.4 1188.7 L1049.4 1188.5 L1050.4 1188.3 L1051.4 1188.1 L1052.4 1188.0 L1053.5 1187.8 L1054.5 1187.6 L1055.5 1187.4 L1056.5 1187.2 L1057.5 1187.0 L1058.5 1186.8 L1059.5 1186.6 L1060.5 1186.4 L1061.5 1186.2 L1062.6 1186.0 L1063.6 1185.8 L1064.6 1185.7 L1065.6 1185.5 L1066.6 1185.3 L1067.6 1185.1 L1068.6 1184.9 L1069.6 1184.7 L1070.7 1184.5 L1071.7 1184.4 L1072.7 1184.2 L1073.7 1184.0 L1074.7 1183.8 L1075.7 1183.6 L1076.7 1183.5 L1077.7 1183.3 L1078.8 1183.1 L1079.8 1182.9 L1080.8 1182.7 L1081.8 1182.6 L1082.8 1182.4 L1083.8 1182.2 L1084.8 1182.0 L1085.9 1181.9 L1086.9 1181.7 L1087.9 1181.5 L1088.9 1181.3 L1089.9 1181.2 L1090.9 1181.0 L1091.9 1180.8 L1093.0 1180.7 L1094.0 1180.5 L1095.0 1180.3 L1096.0 1180.2 L1097.0 1180.0 L1098.0 1179.8 L1099.0 1179.7 L1100.1 1179.5 L1101.1 1179.3 L1102.1 1179.2 L1103.1 1179.0 L1104.1 1178.8 L1105.1 1178.7 L1106.2 1178.5 L1107.2 1178.4 L1108.2 1178.2 L1109.2 1178.1 L1110.2 1177.9 L1111.2 1177.7 L1112.2 1177.6 L1113.3 1177.4 L1114.3 1177.3 L1115.3 1177.1 L1116.3 1177.0 L1117.3 1176.8 L1118.3 1176.7 L1119.4 1176.5 L1120.4 1176.4 L1121.4 1176.2 L1122.4 1176.1 L1123.4 1175.9 L1124.5 1175.8 L1125.5 1175.6 L1126.5 1175.5 L1127.5 1175.3 L1128.5 1175.2 L1129.5 1175.0 L1130.6 1174.9 L1131.6 1174.8 L1132.6 1174.6 L1133.6 1174.5 L1134.6 1174.3 L1135.7 1174.2 L1136.7 1174.1 L1137.7 1173.9 L1138.7 1173.8 L1139.7 1173.7 L1140.7 1173.5 L1141.8 1173.4 L1142.8 1173.2 L1143.8 1173.1 L1144.8 1173.0 L1145.8 1172.9 L1146.9 1172.7 L1147.9 1172.6 L1148.9 1172.5 L1149.9 1172.3 L1150.9 1172.2 L1152.0 1172.1 L1153.0 1172.0 L1154.0 1171.8 L1155.0 1171.7 L1156.0 1171.6 L1157.1 1171.5 L1158.1 1171.3 L1159.1 1171.2 L1160.1 1171.1 L1161.1 1171.0 L1162.2 1170.8 L1163.2 1170.7 L1164.2 1170.6 L1165.2 1170.5 L1166.3 1170.4 L1167.3 1170.3 L1168.3 1170.1 L1169.3 1170.0 L1170.3 1169.9 L1171.4 1169.8 L1172.4 1169.7 L1173.4 1169.6 L1174.4 1169.5 L1175.4 1169.4 L1176.5 1169.3 L1177.5 1169.1 L1178.5 1169.0 L1179.5 1168.9 L1180.6 1168.8 L1181.6 1168.7 L1182.6 1168.6 L1183.6 1168.5 L1184.7 1168.4 L1185.7 1168.3 L1186.7 1168.2 L1187.7 1168.1 L1188.7 1168.0 L1189.8 1167.9 L1190.8 1167.8 L1191.8 1167.7 L1192.8 1167.6 L1193.9 1167.5 L1194.9 1167.4 L1195.9 1167.3 L1196.9 1167.2 L1198.0 1167.2 L1199.0 1167.1 L1200.0 1167.0 L1201.0 1166.9 L1202.1 1166.8 L1203.1 1166.7 L1204.1 1166.6 L1205.1 1166.5 L1206.2 1166.4 L1207.2 1166.4 L1208.2 1166.3 L1209.2 1166.2 L1210.3 1166.1 L1211.3 1166.0 L1212.3 1165.9 L1213.3 1165.9 L1214.4 1165.8 L1215.4 1165.7 L1216.4 1165.6 L1217.4 1165.6 L1218.5 1165.5 L1219.5 1165.4 L1220.5 1165.3 L1221.5 1165.3 L1222.6 1165.2 L1223.6 1165.1 L1224.6 1165.0 L1225.6 1165.0 L1226.7 1164.9 L1227.7 1164.8 L1228.7 1164.8 L1229.7 1164.7 L1230.8 1164.6 L1231.8 1164.6 L1232.8 1164.5 L1233.9 1164.4 L1234.9 1164.4 L1235.9 1164.3 L1236.9 1164.2 L1238.0 1164.2 L1239.0 1164.1 L1240.0 1164.1 L1241.0 1164.0 L1242.1 1164.0 L1243.1 1163.9 L1244.1 1163.8 L1245.2 1163.8 L1246.2 1163.7 L1247.2 1163.7 L1248.2 1163.6 L1249.3 1163.6 L1250.3 1163.5 L1251.3 1163.5 L1252.4 1163.4 L1253.4 1163.4 L1254.4 1163.3 L1255.4 1163.3 L1256.5 1163.2 L1257.5 1163.2 L1258.5 1163.2 L1259.6 1163.1 L1260.6 1163.1 L1261.6 1163.0 L1262.6 1163.0 L1263.7 1163.0 L1264.7 1162.9 L1265.7 1162.9 L1266.8 1162.8 L1267.8 1162.8 L1268.8 1162.8 L1269.8 1162.7 L1270.9 1162.7 L1271.9 1162.7 L1272.9 1162.6 L1274.0 1162.6 L1275.0 1162.6 L1276.0 1162.6 L1277.1 1162.5 L1278.1 1162.5 L1279.1 1162.5 L1280.2 1162.5 L1281.2 1162.4 L1282.2 1162.4 L1283.2 1162.4 L1284.3 1162.4 L1285.3 1162.3 L1286.3 1162.3 L1287.4 1162.3 L1288.4 1162.3 L1289.4 1162.3 L1290.5 1162.3 L1291.5 1162.2 L1292.5 1162.2 L1293.6 1162.2 L1294.6 1162.2 L1295.6 1162.2 L1296.6 1162.2 L1297.7 1162.2 L1298.7 1162.2 L1299.7 1162.1 L1300.8 1162.1 L1301.8 1162.1 L1302.8 1162.1 L1303.9 1162.1 L1304.9 1162.1 L1305.9 1162.1 L1307.0 1162.1 L1308.0 1162.1 L1309.0 1162.1 L1310.1 1162.1 L1311.1 1162.1 L1312.1 1162.1 L1313.2 1162.1 L1314.2 1162.1 L1315.2 1162.1 L1316.3 1162.1 L1317.3 1162.1 L1318.3 1162.2 L1319.4 1162.2 L1320.4 1162.2 L1321.4 1162.2 L1322.5 1162.2 L1323.5 1162.2 L1324.5 1162.2 L1325.6 1162.2 L1326.6 1162.3 L1327.6 1162.3 L1328.7 1162.3 L1329.7 1162.3 L1330.7 1162.3 L1331.8 1162.3 L1332.8 1162.4 L1333.8 1162.4 L1334.9 1162.4 L1335.9 1162.4 L1336.9 1162.5 L1338.0 1162.5 L1339.0 1162.5 L1340.0 1162.5 L1341.1 1162.6 L1342.1 1162.6 L1343.2 1162.6 L1344.2 1162.7 L1345.2 1162.7 L1346.3 1162.7 L1347.3 1162.8 L1348.3 1162.8 L1349.4 1162.8 L1350.4 1162.9 L1351.4 1162.9 L1352.5 1163.0 L1353.5 1163.0 L1354.5 1163.0 L1355.6 1163.1 L1356.6 1163.1 L1357.6 1163.2 L1358.7 1163.2 L1359.7 1163.3 L1360.8 1163.3 L1361.8 1163.4 L1362.8 1163.4 L1363.9 1163.4 L1364.9 1163.5 L1365.9 1163.6 L1367.0 1163.6 L1368.0 1163.7 L1369.0 1163.7" stroke="#888888" stroke-width="3.3" stroke-dasharray="19 7 6 7.6" />
<path d="M283.4 1210.5 L285.4 1210.5 L287.4 1210.5 L289.4 1210.4 L291.4 1210.4 L293.4 1210.4 L295.4 1210.4 L297.4 1210.4 L299.4 1210.4 L301.4 1210.3 L303.4 1210.3 L305.4 1210.3 L307.4 1210.3 L309.4 1210.3 L311.4 1210.3 L313.4 1210.2 L315.4 1210.2 L317.4 1210.2 L319.4 1210.2 L321.4 1210.2 L323.4 1210.2 L325.4 1210.1 L327.4 1210.1 L329.4 1210.1 L331.4 1210.1 L333.4 1210.1 L335.4 1210.0 L337.4 1210.0 L339.4 1210.0 L341.4 1210.0 L343.4 1210.0 L345.4 1209.9 L347.4 1209.9 L349.4 1209.9 L351.4 1209.9 L353.4 1209.9 L355.4 1209.8 L357.4 1209.8 L359.4 1209.8 L361.4 1209.8 L363.4 1209.8 L365.4 1209.7 L367.4 1209.7 L369.4 1209.7 L371.4 1209.7 L373.4 1209.7 L375.4 1209.6 L377.4 1209.6 L379.4 1209.6 L381.4 1209.6 L383.4 1209.6 L385.4 1209.5 L387.4 1209.5 L389.4 1209.5 L391.4 1209.5 L393.4 1209.4 L395.4 1209.4 L397.4 1209.4 L399.4 1209.4 L401.4 1209.3 L403.4 1209.3 L405.4 1209.3 L407.4 1209.3 L409.4 1209.3 L411.4 1209.2 L413.4 1209.2 L415.4 1209.2 L417.4 1209.2 L419.4 1209.1 L421.4 1209.1 L423.4 1209.1 L425.4 1209.1 L427.4 1209.0 L429.4 1209.0 L431.4 1209.0 L433.4 1208.9 L435.4 1208.9 L437.4 1208.9 L439.4 1208.9 L441.4 1208.8 L443.4 1208.8 L445.4 1208.8 L447.4 1208.7 L449.4 1208.7 L451.4 1208.7 L453.4 1208.6 L455.4 1208.6 L457.4 1208.6 L459.4 1208.5 L461.4 1208.5 L463.4 1208.4 L465.4 1208.4 L467.4 1208.4 L469.4 1208.3 L471.4 1208.3 L473.4 1208.2 L475.4 1208.2 L477.4 1208.1 L479.4 1208.1 L481.4 1208.0 L483.4 1208.0 L485.4 1207.9 L487.4 1207.8 L489.4 1207.8 L491.4 1207.7 L493.4 1207.6 L495.4 1207.5 L497.4 1207.5 L499.4 1207.4 L501.4 1207.3 L503.4 1207.2 L505.4 1207.1 L507.4 1207.0 L509.4 1206.9 L511.4 1206.7 L513.4 1206.6 L515.4 1206.5 L517.4 1206.3 L519.4 1206.2 L521.4 1206.0 L523.4 1205.8 L525.4 1205.7 L527.4 1205.5 L529.4 1205.3 L531.4 1205.0 L533.4 1204.8 L535.4 1204.6 L537.4 1204.3 L539.4 1204.0 L541.4 1203.7 L543.4 1203.4 L545.4 1203.1 L547.4 1202.8 L549.4 1202.4 L551.4 1202.0 L553.4 1201.6 L555.4 1201.2 L557.4 1200.8 L559.4 1200.3 L561.4 1199.8 L563.4 1199.3 L565.4 1198.7 L567.4 1198.2 L569.4 1197.5 L571.4 1196.9 L573.4 1196.2 L575.4 1195.5 L577.4 1194.8 L579.4 1194.0 L581.4 1193.2 L583.4 1192.4 L585.4 1191.5 L587.4 1190.6 L589.4 1189.7 L591.4 1188.7 L593.4 1187.6 L595.4 1186.5 L597.4 1185.4 L599.4 1184.2 L601.4 1183.0 L603.4 1181.8 L605.4 1180.5 L607.4 1179.1 L609.4 1177.7 L611.4 1176.3 L613.4 1174.8 L615.4 1173.2 L617.4 1171.6 L619.4 1170.0 L621.4 1168.3 L623.4 1166.5 L625.4 1164.7 L627.4 1162.9 L629.4 1161.0 L631.4 1159.1 L633.4 1157.1 L635.4 1155.0 L637.4 1153.0 L639.4 1150.8 L641.4 1148.7 L643.4 1146.5 L645.4 1144.2 L647.4 1141.9 L649.4 1139.6 L651.4 1137.2 L653.4 1134.8 L655.4 1132.4 L657.4 1129.9 L659.4 1127.4 L661.4 1124.9 L663.4 1122.4 L665.4 1119.8 L667.4 1117.2 L669.4 1114.6 L671.4 1112.0 L673.4 1109.4 L675.4 1106.8 L677.4 1104.2 L679.4 1101.6 L681.4 1099.0 L683.4 1096.4 L685.4 1093.8 L687.4 1091.3 L689.4 1088.7 L691.4 1086.2 L693.4 1083.7 L695.4 1081.3 L697.4 1078.9 L699.4 1076.5 L701.4 1074.2 L703.4 1071.9 L705.4 1069.7 L707.4 1067.5 L709.4 1065.4 L711.4 1063.3 L713.4 1061.4 L715.4 1059.5 L717.4 1057.6 L719.4 1055.9 L721.4 1054.2 L723.4 1052.7 L725.4 1051.2 L727.4 1049.8 L729.4 1048.5 L731.4 1047.2 L733.4 1046.1 L735.4 1045.1 L737.4 1044.2 L739.4 1043.4 L741.4 1042.7 L743.4 1042.1 L745.4 1041.7 L747.4 1041.3 L749.4 1041.0 L751.4 1040.9 L753.4 1040.9 L755.4 1041.0 L757.4 1041.1 L759.4 1041.4 L761.4 1041.9 L763.4 1042.4 L765.4 1043.0 L767.4 1043.8 L769.4 1044.6 L771.4 1045.5 L773.4 1046.6 L775.4 1047.7 L777.4 1049.0 L779.4 1050.3 L781.4 1051.8 L783.4 1053.3 L785.4 1054.9 L787.4 1056.6 L789.4 1058.4 L791.4 1060.3 L793.4 1062.2 L795.4 1064.2 L797.4 1066.3 L799.4 1068.4 L801.4 1070.6 L803.4 1072.8 L805.4 1075.1 L807.4 1077.5 L809.4 1079.9 L811.4 1082.3 L813.4 1084.8 L815.4 1087.3 L817.4 1089.8 L819.4 1092.3 L821.4 1094.9 L823.4 1097.5 L825.4 1100.1 L827.4 1102.7 L829.4 1105.3 L831.4 1107.9 L833.4 1110.5 L835.4 1113.1 L837.4 1115.7 L839.4 1118.3 L841.4 1120.9 L843.4 1123.4 L845.4 1126.0 L847.4 1128.5 L849.4 1131.0 L851.4 1133.4 L853.4 1135.8 L855.4 1138.2 L857.4 1140.6 L859.4 1142.9 L861.4 1145.2 L863.4 1147.4 L865.4 1149.6 L867.4 1151.7 L869.4 1153.8 L871.4 1155.9 L873.4 1157.9 L875.4 1159.9 L877.4 1161.8 L879.4 1163.7 L881.4 1165.5 L883.4 1167.3 L885.4 1169.0 L887.4 1170.7 L889.4 1172.3 L891.4 1173.9 L893.4 1175.4 L895.4 1176.9 L897.4 1178.3 L899.4 1179.7 L901.4 1181.0 L903.4 1182.3 L905.4 1183.5 L907.4 1184.7 L909.4 1185.9 L911.4 1187.0 L913.4 1188.1 L915.4 1189.1 L917.4 1190.1 L919.4 1191.0 L921.4 1191.9 L923.4 1192.8 L925.4 1193.6 L927.4 1194.4 L929.4 1195.1 L931.4 1195.8 L933.4 1196.5 L935.4 1197.2 L937.4 1197.8 L939.4 1198.4 L941.4 1199.0 L943.4 1199.5 L945.4 1200.0 L947.4 1200.5 L949.4 1201.0 L951.4 1201.4 L953.4 1201.8 L955.4 1202.2 L957.4 1202.6 L959.4 1202.9 L961.4 1203.3 L963.4 1203.6 L965.4 1203.9 L967.4 1204.2 L969.4 1204.4 L971.4 1204.7 L973.4 1204.9 L975.4 1205.1 L977.4 1205.3 L979.4 1205.5 L981.4 1205.7 L983.4 1205.9 L985.4 1206.1 L987.4 1206.2 L989.4 1206.4 L991.4 1206.5 L993.4 1206.7 L995.4 1206.8 L997.4 1206.9 L999.4 1207.0 L1001.4 1207.1 L1003.4 1207.2 L1005.4 1207.3 L1007.4 1207.4 L1009.4 1207.5 L1011.4 1207.6 L1013.4 1207.7 L1015.4 1207.7 L1017.4 1207.8 L1019.4 1207.9 L1021.4 1207.9 L1023.4 1208.0 L1025.4 1208.0 L1027.4 1208.1 L1029.4 1208.2 L1031.4 1208.2 L1033.4 1208.3 L1035.4 1208.3 L1037.4 1208.3 L1039.4 1208.4 L1041.4 1208.4 L1043.4 1208.5 L1045.4 1208.5 L1047.4 1208.5 L1049.4 1208.6 L1051.4 1208.6 L1053.4 1208.6 L1055.4 1208.7 L1057.4 1208.7 L1059.4 1208.7 L1061.4 1208.8 L1063.4 1208.8 L1065.4 1208.8 L1067.4 1208.9 L1069.4 1208.9 L1071.4 1208.9 L1073.4 1209.0 L1075.4 1209.0 L1077.4 1209.0 L1079.4 1209.0 L1081.4 1209.1 L1083.4 1209.1 L1085.4 1209.1 L1087.4 1209.1 L1089.4 1209.2 L1091.4 1209.2 L1093.4 1209.2 L1095.4 1209.2 L1097.4 1209.3 L1099.4 1209.3 L1101.4 1209.3 L1103.4 1209.3 L1105.4 1209.4 L1107.4 1209.4 L1109.4 1209.4 L1111.4 1209.4 L1113.4 1209.5 L1115.4 1209.5 L1117.4 1209.5 L1119.4 1209.5 L1121.4 1209.5 L1123.4 1209.6 L1125.4 1209.6 L1127.4 1209.6 L1129.4 1209.6 L1131.4 1209.6 L1133.4 1209.7 L1135.4 1209.7 L1137.4 1209.7 L1139.4 1209.7 L1141.4 1209.8 L1143.4 1209.8 L1145.4 1209.8 L1147.4 1209.8 L1149.4 1209.8 L1151.4 1209.9 L1153.4 1209.9 L1155.4 1209.9 L1157.4 1209.9 L1159.4 1209.9 L1161.4 1210.0 L1163.4 1210.0 L1165.4 1210.0 L1167.4 1210.0 L1169.4 1210.0 L1171.4 1210.1 L1173.4 1210.1 L1175.4 1210.1 L1177.4 1210.1 L1179.4 1210.1 L1181.4 1210.1 L1183.4 1210.2 L1185.4 1210.2 L1187.4 1210.2 L1189.4 1210.2 L1191.4 1210.2 L1193.4 1210.3 L1195.4 1210.3 L1197.4 1210.3 L1199.4 1210.3 L1201.4 1210.3 L1203.4 1210.3 L1205.4 1210.4 L1207.4 1210.4 L1209.4 1210.4 L1211.4 1210.4 L1213.4 1210.4 L1215.4 1210.4 L1217.4 1210.5 L1219.4 1210.5 L1221.4 1210.5 L1223.4 1210.5 L1225.4 1210.5 L1227.4 1210.5 L1229.4 1210.6 L1231.4 1210.6 L1233.4 1210.6 L1235.4 1210.6 L1237.4 1210.6 L1239.4 1210.6 L1241.4 1210.6 L1243.4 1210.7 L1245.4 1210.7 L1247.4 1210.7 L1249.4 1210.7 L1251.4 1210.7 L1253.4 1210.7 L1255.4 1210.7 L1257.4 1210.8 L1259.4 1210.8 L1261.4 1210.8 L1263.4 1210.8 L1265.4 1210.8 L1267.4 1210.8 L1269.4 1210.8 L1271.4 1210.9 L1273.4 1210.9 L1275.4 1210.9 L1277.4 1210.9 L1279.4 1210.9 L1281.4 1210.9 L1283.4 1210.9 L1285.4 1211.0 L1287.4 1211.0 L1289.4 1211.0 L1291.4 1211.0 L1293.4 1211.0 L1295.4 1211.0 L1297.4 1211.0 L1299.4 1211.0 L1301.4 1211.1 L1303.4 1211.1 L1305.4 1211.1 L1307.4 1211.1 L1309.4 1211.1 L1311.4 1211.1 L1313.4 1211.1 L1315.4 1211.1 L1317.4 1211.2 L1319.4 1211.2 L1321.4 1211.2 L1323.4 1211.2 L1325.4 1211.2 L1327.4 1211.2 L1329.4 1211.2 L1331.4 1211.2 L1333.4 1211.2 L1335.4 1211.3 L1337.4 1211.3 L1339.4 1211.3 L1341.4 1211.3 L1343.4 1211.3 L1345.4 1211.3 L1347.4 1211.3 L1349.4 1211.3 L1351.4 1211.3 L1353.4 1211.4 L1355.4 1211.4 L1357.4 1211.4 L1359.4 1211.4 L1361.4 1211.4 L1363.4 1211.4 L1365.4 1211.4 L1367.4 1211.4 L1369.4 1211.4 L1370.0 1211.4" stroke="#0000ff" stroke-width="5.5" stroke-linecap="round" stroke-dasharray="12 14" />
<path d="M283.4 1212.3 L285.4 1212.3 L287.4 1212.3 L289.4 1212.3 L291.4 1212.2 L293.4 1212.2 L295.4 1212.2 L297.4 1212.2 L299.4 1212.2 L301.4 1212.2 L303.4 1212.2 L305.4 1212.2 L307.4 1212.2 L309.4 1212.2 L311.4 1212.2 L313.4 1212.2 L315.4 1212.2 L317.4 1212.2 L319.4 1212.2 L321.4 1212.1 L323.4 1212.1 L325.4 1212.1 L327.4 1212.1 L329.4 1212.1 L331.4 1212.1 L333.4 1212.1 L335.4 1212.1 L337.4 1212.1 L339.4 1212.1 L341.4 1212.1 L343.4 1212.1 L345.4 1212.1 L347.4 1212.0 L349.4 1212.0 L351.4 1212.0 L353.4 1212.0 L355.4 1212.0 L357.4 1212.0 L359.4 1212.0 L361.4 1212.0 L363.4 1212.0 L365.4 1212.0 L367.4 1212.0 L369.4 1211.9 L371.4 1211.9 L373.4 1211.9 L375.4 1211.9 L377.4 1211.9 L379.4 1211.9 L381.4 1211.9 L383.4 1211.9 L385.4 1211.9 L387.4 1211.9 L389.4 1211.9 L391.4 1211.8 L393.4 1211.8 L395.4 1211.8 L397.4 1211.8 L399.4 1211.8 L401.4 1211.8 L403.4 1211.8 L405.4 1211.8 L407.4 1211.8 L409.4 1211.8 L411.4 1211.7 L413.4 1211.7 L415.4 1211.7 L417.4 1211.7 L419.4 1211.7 L421.4 1211.7 L423.4 1211.7 L425.4 1211.7 L427.4 1211.7 L429.4 1211.6 L431.4 1211.6 L433.4 1211.6 L435.4 1211.6 L437.4 1211.6 L439.4 1211.6 L441.4 1211.6 L443.4 1211.6 L445.4 1211.5 L447.4 1211.5 L449.4 1211.5 L451.4 1211.5 L453.4 1211.5 L455.4 1211.5 L457.4 1211.5 L459.4 1211.5 L461.4 1211.4 L463.4 1211.4 L465.4 1211.4 L467.4 1211.4 L469.4 1211.4 L471.4 1211.4 L473.4 1211.4 L475.4 1211.3 L477.4 1211.3 L479.4 1211.3 L481.4 1211.3 L483.4 1211.3 L485.4 1211.3 L487.4 1211.2 L489.4 1211.2 L491.4 1211.2 L493.4 1211.2 L495.4 1211.2 L497.4 1211.2 L499.4 1211.2 L501.4 1211.1 L503.4 1211.1 L505.4 1211.1 L507.4 1211.1 L509.4 1211.1 L511.4 1211.0 L513.4 1211.0 L515.4 1211.0 L517.4 1211.0 L519.4 1211.0 L521.4 1211.0 L523.4 1210.9 L525.4 1210.9 L527.4 1210.9 L529.4 1210.9 L531.4 1210.9 L533.4 1210.8 L535.4 1210.8 L537.4 1210.8 L539.4 1210.8 L541.4 1210.8 L543.4 1210.7 L545.4 1210.7 L547.4 1210.7 L549.4 1210.7 L551.4 1210.6 L553.4 1210.6 L555.4 1210.6 L557.4 1210.6 L559.4 1210.6 L561.4 1210.5 L563.4 1210.5 L565.4 1210.5 L567.4 1210.5 L569.4 1210.4 L571.4 1210.4 L573.4 1210.4 L575.4 1210.3 L577.4 1210.3 L579.4 1210.3 L581.4 1210.3 L583.4 1210.2 L585.4 1210.2 L587.4 1210.2 L589.4 1210.1 L591.4 1210.1 L593.4 1210.1 L595.4 1210.1 L597.4 1210.0 L599.4 1210.0 L601.4 1210.0 L603.4 1209.9 L605.4 1209.9 L607.4 1209.8 L609.4 1209.8 L611.4 1209.8 L613.4 1209.7 L615.4 1209.7 L617.4 1209.7 L619.4 1209.6 L621.4 1209.6 L623.4 1209.5 L625.4 1209.5 L627.4 1209.4 L629.4 1209.4 L631.4 1209.3 L633.4 1209.3 L635.4 1209.2 L637.4 1209.2 L639.4 1209.1 L641.4 1209.1 L643.4 1209.0 L645.4 1209.0 L647.4 1208.9 L649.4 1208.8 L651.4 1208.8 L653.4 1208.7 L655.4 1208.6 L657.4 1208.6 L659.4 1208.5 L661.4 1208.4 L663.4 1208.3 L665.4 1208.3 L667.4 1208.2 L669.4 1208.1 L671.4 1208.0 L673.4 1207.9 L675.4 1207.8 L677.4 1207.7 L679.4 1207.6 L681.4 1207.5 L683.4 1207.4 L685.4 1207.3 L687.4 1207.2 L689.4 1207.0 L691.4 1206.9 L693.4 1206.8 L695.4 1206.6 L697.4 1206.5 L699.4 1206.3 L701.4 1206.2 L703.4 1206.0 L705.4 1205.9 L707.4 1205.7 L709.4 1205.5 L711.4 1205.3 L713.4 1205.1 L715.4 1204.9 L717.4 1204.7 L719.4 1204.5 L721.4 1204.3 L723.4 1204.0 L725.4 1203.8 L727.4 1203.5 L729.4 1203.3 L731.4 1203.0 L733.4 1202.7 L735.4 1202.4 L737.4 1202.1 L739.4 1201.8 L741.4 1201.5 L743.4 1201.1 L745.4 1200.8 L747.4 1200.4 L749.4 1200.0 L751.4 1199.6 L753.4 1199.2 L755.4 1198.8 L757.4 1198.4 L759.4 1197.9 L761.4 1197.4 L763.4 1196.9 L765.4 1196.4 L767.4 1195.9 L769.4 1195.4 L771.4 1194.8 L773.4 1194.2 L775.4 1193.6 L777.4 1193.0 L779.4 1192.4 L781.4 1191.7 L783.4 1191.0 L785.4 1190.3 L787.4 1189.6 L789.4 1188.8 L791.4 1188.1 L793.4 1187.3 L795.4 1186.4 L797.4 1185.6 L799.4 1184.7 L801.4 1183.8 L803.4 1182.9 L805.4 1181.9 L807.4 1180.9 L809.4 1179.9 L811.4 1178.9 L813.4 1177.8 L815.4 1176.7 L817.4 1175.5 L819.4 1174.4 L821.4 1173.2 L823.4 1171.9 L825.4 1170.7 L827.4 1169.4 L829.4 1168.0 L831.4 1166.7 L833.4 1165.3 L835.4 1163.9 L837.4 1162.4 L839.4 1160.9 L841.4 1159.4 L843.4 1157.8 L845.4 1156.2 L847.4 1154.5 L849.4 1152.9 L851.4 1151.2 L853.4 1149.4 L855.4 1147.6 L857.4 1145.8 L859.4 1144.0 L861.4 1142.1 L863.4 1140.1 L865.4 1138.2 L867.4 1136.2 L869.4 1134.1 L871.4 1132.1 L873.4 1130.0 L875.4 1127.8 L877.4 1125.7 L879.4 1123.5 L881.4 1121.2 L883.4 1119.0 L885.4 1116.7 L887.4 1114.3 L889.4 1112.0 L891.4 1109.6 L893.4 1107.1 L895.4 1104.7 L897.4 1102.2 L899.4 1099.7 L901.4 1097.2 L903.4 1094.6 L905.4 1092.0 L907.4 1089.4 L909.4 1086.8 L911.4 1084.2 L913.4 1081.5 L915.4 1078.8 L917.4 1076.1 L919.4 1073.4 L921.4 1070.7 L923.4 1067.9 L925.4 1065.2 L927.4 1062.4 L929.4 1059.6 L931.4 1056.8 L933.4 1054.1 L935.4 1051.3 L937.4 1048.5 L939.4 1045.7 L941.4 1042.9 L943.4 1040.1 L945.4 1037.3 L947.4 1034.6 L949.4 1031.8 L951.4 1029.1 L953.4 1026.3 L955.4 1023.6 L957.4 1020.9 L959.4 1018.3 L961.4 1015.6 L963.4 1013.0 L965.4 1010.4 L967.4 1007.8 L969.4 1005.3 L971.4 1002.8 L973.4 1000.3 L975.4 997.9 L977.4 995.5 L979.4 993.1 L981.4 990.9 L983.4 988.6 L985.4 986.4 L987.4 984.3 L989.4 982.2 L991.4 980.2 L993.4 978.2 L995.4 976.3 L997.4 974.5 L999.4 972.7 L1001.4 971.0 L1003.4 969.4 L1005.4 967.9 L1007.4 966.4 L1009.4 965.0 L1011.4 963.7 L1013.4 962.5 L1015.4 961.3 L1017.4 960.3 L1019.4 959.3 L1021.4 958.4 L1023.4 957.6 L1025.4 956.9 L1027.4 956.3 L1029.4 955.8 L1031.4 955.4 L1033.4 955.1 L1035.4 954.9 L1037.4 954.7 L1039.4 954.7 L1041.4 954.8 L1043.4 954.9 L1045.4 955.2 L1047.4 955.5 L1049.4 956.0 L1051.4 956.5 L1053.4 957.1 L1055.4 957.9 L1057.4 958.7 L1059.4 959.6 L1061.4 960.6 L1063.4 961.7 L1065.4 962.8 L1067.4 964.1 L1069.4 965.4 L1071.4 966.8 L1073.4 968.3 L1075.4 969.9 L1077.4 971.5 L1079.4 973.3 L1081.4 975.0 L1083.4 976.9 L1085.4 978.8 L1087.4 980.8 L1089.4 982.8 L1091.4 984.9 L1093.4 987.1 L1095.4 989.3 L1097.4 991.6 L1099.4 993.9 L1101.4 996.2 L1103.4 998.6 L1105.4 1001.1 L1107.4 1003.5 L1109.4 1006.0 L1111.4 1008.6 L1113.4 1011.2 L1115.4 1013.8 L1117.4 1016.4 L1119.4 1019.1 L1121.4 1021.8 L1123.4 1024.5 L1125.4 1027.2 L1127.4 1029.9 L1129.4 1032.7 L1131.4 1035.4 L1133.4 1038.2 L1135.4 1041.0 L1137.4 1043.8 L1139.4 1046.6 L1141.4 1049.3 L1143.4 1052.1 L1145.4 1054.9 L1147.4 1057.7 L1149.4 1060.5 L1151.4 1063.3 L1153.4 1066.0 L1155.4 1068.8 L1157.4 1071.5 L1159.4 1074.2 L1161.4 1076.9 L1163.4 1079.6 L1165.4 1082.3 L1167.4 1085.0 L1169.4 1087.6 L1171.4 1090.2 L1173.4 1092.8 L1175.4 1095.4 L1177.4 1098.0 L1179.4 1100.5 L1181.4 1103.0 L1183.4 1105.5 L1185.4 1107.9 L1187.4 1110.3 L1189.4 1112.7 L1191.4 1115.1 L1193.4 1117.4 L1195.4 1119.7 L1197.4 1121.9 L1199.4 1124.2 L1201.4 1126.3 L1203.4 1128.5 L1205.4 1130.6 L1207.4 1132.7 L1209.4 1134.8 L1211.4 1136.8 L1213.4 1138.8 L1215.4 1140.7 L1217.4 1142.7 L1219.4 1144.5 L1221.4 1146.4 L1223.4 1148.2 L1225.4 1150.0 L1227.4 1151.7 L1229.4 1153.4 L1231.4 1155.1 L1233.4 1156.7 L1235.4 1158.3 L1237.4 1159.8 L1239.4 1161.4 L1241.4 1162.9 L1243.4 1164.3 L1245.4 1165.7 L1247.4 1167.1 L1249.4 1168.5 L1251.4 1169.8 L1253.4 1171.1 L1255.4 1172.3 L1257.4 1173.5 L1259.4 1174.7 L1261.4 1175.9 L1263.4 1177.0 L1265.4 1178.1 L1267.4 1179.2 L1269.4 1180.2 L1271.4 1181.2 L1273.4 1182.2 L1275.4 1183.2 L1277.4 1184.1 L1279.4 1185.0 L1281.4 1185.9 L1283.4 1186.7 L1285.4 1187.5 L1287.4 1188.3 L1289.4 1189.1 L1291.4 1189.8 L1293.4 1190.5 L1295.4 1191.2 L1297.4 1191.9 L1299.4 1192.6 L1301.4 1193.2 L1303.4 1193.8 L1305.4 1194.4 L1307.4 1195.0 L1309.4 1195.5 L1311.4 1196.1 L1313.4 1196.6 L1315.4 1197.1 L1317.4 1197.6 L1319.4 1198.1 L1321.4 1198.5 L1323.4 1198.9 L1325.4 1199.4 L1327.4 1199.8 L1329.4 1200.1 L1331.4 1200.5 L1333.4 1200.9 L1335.4 1201.2 L1337.4 1201.6 L1339.4 1201.9 L1341.4 1202.2 L1343.4 1202.5 L1345.4 1202.8 L1347.4 1203.1 L1349.4 1203.4 L1351.4 1203.6 L1353.4 1203.9 L1355.4 1204.1 L1357.4 1204.3 L1359.4 1204.6 L1361.4 1204.8 L1363.4 1205.0 L1365.4 1205.2 L1367.4 1205.4 L1369.4 1205.6 L1370.0 1205.6 L1370.0 1213.5 L283.4 1213.5 Z" fill="url(#gg12)" stroke="none"/>
<path d="M283.4 1212.3 L285.4 1212.3 L287.4 1212.3 L289.4 1212.3 L291.4 1212.2 L293.4 1212.2 L295.4 1212.2 L297.4 1212.2 L299.4 1212.2 L301.4 1212.2 L303.4 1212.2 L305.4 1212.2 L307.4 1212.2 L309.4 1212.2 L311.4 1212.2 L313.4 1212.2 L315.4 1212.2 L317.4 1212.2 L319.4 1212.2 L321.4 1212.1 L323.4 1212.1 L325.4 1212.1 L327.4 1212.1 L329.4 1212.1 L331.4 1212.1 L333.4 1212.1 L335.4 1212.1 L337.4 1212.1 L339.4 1212.1 L341.4 1212.1 L343.4 1212.1 L345.4 1212.1 L347.4 1212.0 L349.4 1212.0 L351.4 1212.0 L353.4 1212.0 L355.4 1212.0 L357.4 1212.0 L359.4 1212.0 L361.4 1212.0 L363.4 1212.0 L365.4 1212.0 L367.4 1212.0 L369.4 1211.9 L371.4 1211.9 L373.4 1211.9 L375.4 1211.9 L377.4 1211.9 L379.4 1211.9 L381.4 1211.9 L383.4 1211.9 L385.4 1211.9 L387.4 1211.9 L389.4 1211.9 L391.4 1211.8 L393.4 1211.8 L395.4 1211.8 L397.4 1211.8 L399.4 1211.8 L401.4 1211.8 L403.4 1211.8 L405.4 1211.8 L407.4 1211.8 L409.4 1211.8 L411.4 1211.7 L413.4 1211.7 L415.4 1211.7 L417.4 1211.7 L419.4 1211.7 L421.4 1211.7 L423.4 1211.7 L425.4 1211.7 L427.4 1211.7 L429.4 1211.6 L431.4 1211.6 L433.4 1211.6 L435.4 1211.6 L437.4 1211.6 L439.4 1211.6 L441.4 1211.6 L443.4 1211.6 L445.4 1211.5 L447.4 1211.5 L449.4 1211.5 L451.4 1211.5 L453.4 1211.5 L455.4 1211.5 L457.4 1211.5 L459.4 1211.5 L461.4 1211.4 L463.4 1211.4 L465.4 1211.4 L467.4 1211.4 L469.4 1211.4 L471.4 1211.4 L473.4 1211.4 L475.4 1211.3 L477.4 1211.3 L479.4 1211.3 L481.4 1211.3 L483.4 1211.3 L485.4 1211.3 L487.4 1211.2 L489.4 1211.2 L491.4 1211.2 L493.4 1211.2 L495.4 1211.2 L497.4 1211.2 L499.4 1211.2 L501.4 1211.1 L503.4 1211.1 L505.4 1211.1 L507.4 1211.1 L509.4 1211.1 L511.4 1211.0 L513.4 1211.0 L515.4 1211.0 L517.4 1211.0 L519.4 1211.0 L521.4 1211.0 L523.4 1210.9 L525.4 1210.9 L527.4 1210.9 L529.4 1210.9 L531.4 1210.9 L533.4 1210.8 L535.4 1210.8 L537.4 1210.8 L539.4 1210.8 L541.4 1210.8 L543.4 1210.7 L545.4 1210.7 L547.4 1210.7 L549.4 1210.7 L551.4 1210.6 L553.4 1210.6 L555.4 1210.6 L557.4 1210.6 L559.4 1210.6 L561.4 1210.5 L563.4 1210.5 L565.4 1210.5 L567.4 1210.5 L569.4 1210.4 L571.4 1210.4 L573.4 1210.4 L575.4 1210.3 L577.4 1210.3 L579.4 1210.3 L581.4 1210.3 L583.4 1210.2 L585.4 1210.2 L587.4 1210.2 L589.4 1210.1 L591.4 1210.1 L593.4 1210.1 L595.4 1210.1 L597.4 1210.0 L599.4 1210.0 L601.4 1210.0 L603.4 1209.9 L605.4 1209.9 L607.4 1209.8 L609.4 1209.8 L611.4 1209.8 L613.4 1209.7 L615.4 1209.7 L617.4 1209.7 L619.4 1209.6 L621.4 1209.6 L623.4 1209.5 L625.4 1209.5 L627.4 1209.4 L629.4 1209.4 L631.4 1209.3 L633.4 1209.3 L635.4 1209.2 L637.4 1209.2 L639.4 1209.1 L641.4 1209.1 L643.4 1209.0 L645.4 1209.0 L647.4 1208.9 L649.4 1208.8 L651.4 1208.8 L653.4 1208.7 L655.4 1208.6 L657.4 1208.6 L659.4 1208.5 L661.4 1208.4 L663.4 1208.3 L665.4 1208.3 L667.4 1208.2 L669.4 1208.1 L671.4 1208.0 L673.4 1207.9 L675.4 1207.8 L677.4 1207.7 L679.4 1207.6 L681.4 1207.5 L683.4 1207.4 L685.4 1207.3 L687.4 1207.2 L689.4 1207.0 L691.4 1206.9 L693.4 1206.8 L695.4 1206.6 L697.4 1206.5 L699.4 1206.3 L701.4 1206.2 L703.4 1206.0 L705.4 1205.9 L707.4 1205.7 L709.4 1205.5 L711.4 1205.3 L713.4 1205.1 L715.4 1204.9 L717.4 1204.7 L719.4 1204.5 L721.4 1204.3 L723.4 1204.0 L725.4 1203.8 L727.4 1203.5 L729.4 1203.3 L731.4 1203.0 L733.4 1202.7 L735.4 1202.4 L737.4 1202.1 L739.4 1201.8 L741.4 1201.5 L743.4 1201.1 L745.4 1200.8 L747.4 1200.4 L749.4 1200.0 L751.4 1199.6 L753.4 1199.2 L755.4 1198.8 L757.4 1198.4 L759.4 1197.9 L761.4 1197.4 L763.4 1196.9 L765.4 1196.4 L767.4 1195.9 L769.4 1195.4 L771.4 1194.8 L773.4 1194.2 L775.4 1193.6 L777.4 1193.0 L779.4 1192.4 L781.4 1191.7 L783.4 1191.0 L785.4 1190.3 L787.4 1189.6 L789.4 1188.8 L791.4 1188.1 L793.4 1187.3 L795.4 1186.4 L797.4 1185.6 L799.4 1184.7 L801.4 1183.8 L803.4 1182.9 L805.4 1181.9 L807.4 1180.9 L809.4 1179.9 L811.4 1178.9 L813.4 1177.8 L815.4 1176.7 L817.4 1175.5 L819.4 1174.4 L821.4 1173.2 L823.4 1171.9 L825.4 1170.7 L827.4 1169.4 L829.4 1168.0 L831.4 1166.7 L833.4 1165.3 L835.4 1163.9 L837.4 1162.4 L839.4 1160.9 L841.4 1159.4 L843.4 1157.8 L845.4 1156.2 L847.4 1154.5 L849.4 1152.9 L851.4 1151.2 L853.4 1149.4 L855.4 1147.6 L857.4 1145.8 L859.4 1144.0 L861.4 1142.1 L863.4 1140.1 L865.4 1138.2 L867.4 1136.2 L869.4 1134.1 L871.4 1132.1 L873.4 1130.0 L875.4 1127.8 L877.4 1125.7 L879.4 1123.5 L881.4 1121.2 L883.4 1119.0 L885.4 1116.7 L887.4 1114.3 L889.4 1112.0 L891.4 1109.6 L893.4 1107.1 L895.4 1104.7 L897.4 1102.2 L899.4 1099.7 L901.4 1097.2 L903.4 1094.6 L905.4 1092.0 L907.4 1089.4 L909.4 1086.8 L911.4 1084.2 L913.4 1081.5 L915.4 1078.8 L917.4 1076.1 L919.4 1073.4 L921.4 1070.7 L923.4 1067.9 L925.4 1065.2 L927.4 1062.4 L929.4 1059.6 L931.4 1056.8 L933.4 1054.1 L935.4 1051.3 L937.4 1048.5 L939.4 1045.7 L941.4 1042.9 L943.4 1040.1 L945.4 1037.3 L947.4 1034.6 L949.4 1031.8 L951.4 1029.1 L953.4 1026.3 L955.4 1023.6 L957.4 1020.9 L959.4 1018.3 L961.4 1015.6 L963.4 1013.0 L965.4 1010.4 L967.4 1007.8 L969.4 1005.3 L971.4 1002.8 L973.4 1000.3 L975.4 997.9 L977.4 995.5 L979.4 993.1 L981.4 990.9 L983.4 988.6 L985.4 986.4 L987.4 984.3 L989.4 982.2 L991.4 980.2 L993.4 978.2 L995.4 976.3 L997.4 974.5 L999.4 972.7 L1001.4 971.0 L1003.4 969.4 L1005.4 967.9 L1007.4 966.4 L1009.4 965.0 L1011.4 963.7 L1013.4 962.5 L1015.4 961.3 L1017.4 960.3 L1019.4 959.3 L1021.4 958.4 L1023.4 957.6 L1025.4 956.9 L1027.4 956.3 L1029.4 955.8 L1031.4 955.4 L1033.4 955.1 L1035.4 954.9 L1037.4 954.7 L1039.4 954.7 L1041.4 954.8 L1043.4 954.9 L1045.4 955.2 L1047.4 955.5 L1049.4 956.0 L1051.4 956.5 L1053.4 957.1 L1055.4 957.9 L1057.4 958.7 L1059.4 959.6 L1061.4 960.6 L1063.4 961.7 L1065.4 962.8 L1067.4 964.1 L1069.4 965.4 L1071.4 966.8 L1073.4 968.3 L1075.4 969.9 L1077.4 971.5 L1079.4 973.3 L1081.4 975.0 L1083.4 976.9 L1085.4 978.8 L1087.4 980.8 L1089.4 982.8 L1091.4 984.9 L1093.4 987.1 L1095.4 989.3 L1097.4 991.6 L1099.4 993.9 L1101.4 996.2 L1103.4 998.6 L1105.4 1001.1 L1107.4 1003.5 L1109.4 1006.0 L1111.4 1008.6 L1113.4 1011.2 L1115.4 1013.8 L1117.4 1016.4 L1119.4 1019.1 L1121.4 1021.8 L1123.4 1024.5 L1125.4 1027.2 L1127.4 1029.9 L1129.4 1032.7 L1131.4 1035.4 L1133.4 1038.2 L1135.4 1041.0 L1137.4 1043.8 L1139.4 1046.6 L1141.4 1049.3 L1143.4 1052.1 L1145.4 1054.9 L1147.4 1057.7 L1149.4 1060.5 L1151.4 1063.3 L1153.4 1066.0 L1155.4 1068.8 L1157.4 1071.5 L1159.4 1074.2 L1161.4 1076.9 L1163.4 1079.6 L1165.4 1082.3 L1167.4 1085.0 L1169.4 1087.6 L1171.4 1090.2 L1173.4 1092.8 L1175.4 1095.4 L1177.4 1098.0 L1179.4 1100.5 L1181.4 1103.0 L1183.4 1105.5 L1185.4 1107.9 L1187.4 1110.3 L1189.4 1112.7 L1191.4 1115.1 L1193.4 1117.4 L1195.4 1119.7 L1197.4 1121.9 L1199.4 1124.2 L1201.4 1126.3 L1203.4 1128.5 L1205.4 1130.6 L1207.4 1132.7 L1209.4 1134.8 L1211.4 1136.8 L1213.4 1138.8 L1215.4 1140.7 L1217.4 1142.7 L1219.4 1144.5 L1221.4 1146.4 L1223.4 1148.2 L1225.4 1150.0 L1227.4 1151.7 L1229.4 1153.4 L1231.4 1155.1 L1233.4 1156.7 L1235.4 1158.3 L1237.4 1159.8 L1239.4 1161.4 L1241.4 1162.9 L1243.4 1164.3 L1245.4 1165.7 L1247.4 1167.1 L1249.4 1168.5 L1251.4 1169.8 L1253.4 1171.1 L1255.4 1172.3 L1257.4 1173.5 L1259.4 1174.7 L1261.4 1175.9 L1263.4 1177.0 L1265.4 1178.1 L1267.4 1179.2 L1269.4 1180.2 L1271.4 1181.2 L1273.4 1182.2 L1275.4 1183.2 L1277.4 1184.1 L1279.4 1185.0 L1281.4 1185.9 L1283.4 1186.7 L1285.4 1187.5 L1287.4 1188.3 L1289.4 1189.1 L1291.4 1189.8 L1293.4 1190.5 L1295.4 1191.2 L1297.4 1191.9 L1299.4 1192.6 L1301.4 1193.2 L1303.4 1193.8 L1305.4 1194.4 L1307.4 1195.0 L1309.4 1195.5 L1311.4 1196.1 L1313.4 1196.6 L1315.4 1197.1 L1317.4 1197.6 L1319.4 1198.1 L1321.4 1198.5 L1323.4 1198.9 L1325.4 1199.4 L1327.4 1199.8 L1329.4 1200.1 L1331.4 1200.5 L1333.4 1200.9 L1335.4 1201.2 L1337.4 1201.6 L1339.4 1201.9 L1341.4 1202.2 L1343.4 1202.5 L1345.4 1202.8 L1347.4 1203.1 L1349.4 1203.4 L1351.4 1203.6 L1353.4 1203.9 L1355.4 1204.1 L1357.4 1204.3 L1359.4 1204.6 L1361.4 1204.8 L1363.4 1205.0 L1365.4 1205.2 L1367.4 1205.4 L1369.4 1205.6 L1370.0 1205.6" stroke="#008000" stroke-width="5.5" stroke-linecap="round" stroke-dasharray="12 14" />
<path d="M283.4 1216.5 H1370.0" stroke="#0000ff" stroke-width="5.5" stroke-linecap="round" stroke-dasharray="12 14"/>
<path d="M283.4 1212.0 H1370.0" stroke="#008000" stroke-width="5.5" stroke-linecap="round" stroke-dasharray="12 14" stroke-dashoffset="3"/>
<path d="M284.4 1205.9 L287.0 1205.4 L289.6 1205.0 L292.2 1204.6 L294.8 1204.2 L297.4 1203.8 L300.1 1203.4 L302.7 1203.1 L305.4 1202.8 L308.0 1202.4 L310.7 1202.1 L313.4 1201.8 L316.1 1201.6 L318.8 1201.3 L321.5 1201.0 L324.2 1200.8 L326.9 1200.6 L329.7 1200.3 L332.4 1200.1 L335.1 1199.9 L337.9 1199.7 L340.7 1199.5 L343.4 1199.3 L346.2 1199.1 L348.9 1199.0 L351.7 1198.8 L354.5 1198.6 L357.3 1198.5 L360.1 1198.3 L362.9 1198.2 L365.7 1198.0 L368.5 1197.9 L371.3 1197.7 L374.1 1197.5 L376.9 1197.4 L379.7 1197.2 L382.5 1197.1 L385.3 1196.9 L388.1 1196.8 L390.9 1196.6 L393.7 1196.4 L396.5 1196.3 L399.3 1196.1 L402.1 1195.9 L404.9 1195.7 L407.7 1195.5 L410.5 1195.3 L413.3 1195.1 L416.1 1194.9 L418.9 1194.7 L421.7 1194.4 L424.5 1194.2 L427.3 1193.9 L430.1 1193.6 L432.9 1193.4 L435.7 1193.1 L438.4 1192.8 L441.2 1192.4 L444.0 1192.1 L446.7 1191.7 L449.5 1191.4 L452.2 1191.0 L454.9 1190.6 L457.7 1190.2 L460.4 1189.7 L463.1 1189.3 L465.8 1188.8 L468.5 1188.3 L471.2 1187.8 L473.9 1187.3 L476.6 1186.7 L479.3 1186.1 L481.9 1185.5 L484.6 1184.9 L487.2 1184.3 L489.8 1183.6 L492.4 1182.9 L495.1 1182.2 L497.7 1181.4 L500.2 1180.6 L502.8 1179.8 L505.4 1179.0 L507.9 1178.1 L510.5 1177.3 L513.0 1176.3 L515.5 1175.4 L518.0 1174.4 L520.5 1173.4 L522.9 1172.3 L525.4 1171.3 L527.8 1170.2 L530.3 1169.0 L532.7 1167.9 L535.1 1166.7 L537.5 1165.5 L539.9 1164.2 L542.2 1162.9 L544.6 1161.6 L546.9 1160.3 L549.3 1158.9 L551.6 1157.6 L553.9 1156.2 L556.2 1154.7 L558.5 1153.3 L560.8 1151.8 L563.1 1150.3 L565.4 1148.8 L567.7 1147.3 L569.9 1145.7 L572.2 1144.2 L574.4 1142.6 L576.7 1141.0 L578.9 1139.3 L581.1 1137.7 L583.3 1136.1 L585.6 1134.4 L587.8 1132.7 L590.0 1131.0 L592.2 1129.3 L594.4 1127.5 L596.6 1125.8 L598.7 1124.0 L600.9 1122.2 L603.0 1120.5 L605.2 1118.7 L607.3 1116.8 L609.4 1115.0 L611.5 1113.2 L613.6 1111.3 L615.7 1109.4 L617.8 1107.5 L619.8 1105.6 L621.9 1103.7 L623.9 1101.8 L625.9 1099.9 L627.9 1097.9 L629.9 1096.0 L631.8 1094.0 L633.7 1092.0 L635.7 1090.0 L637.6 1088.0 L639.4 1086.0 L641.3 1084.0 L643.1 1081.9 L644.9 1079.9 L646.7 1077.8 L648.5 1075.7 L650.3 1073.7 L652.0 1071.6 L653.7 1069.5 L655.4 1067.4 L657.0 1065.3 L658.6 1063.1 L660.2 1061.0 L661.8 1058.9 L663.3 1056.7 L664.9 1054.6 L666.4 1052.4 L667.8 1050.2 L669.3 1048.0 L670.7 1045.8 L672.2 1043.6 L673.6 1041.4 L675.0 1039.2 L676.4 1036.9 L677.8 1034.7 L679.2 1032.4 L680.6 1030.1 L681.9 1027.8 L683.3 1025.5 L684.7 1023.2 L686.1 1020.9 L687.5 1018.5 L688.9 1016.1 L690.3 1013.8 L691.8 1011.4 L693.2 1009.0 L694.7 1006.5 L696.1 1004.1 L697.6 1001.6 L699.2 999.1 L700.7 996.6 L702.3 994.1 L703.9 991.6 L705.5 989.2 L707.1 986.7 L708.8 984.2 L710.5 981.8 L712.2 979.4 L714.0 977.1 L715.8 974.8 L717.6 972.5 L719.4 970.4 L721.3 968.2 L723.2 966.2 L725.2 964.2 L727.2 962.3 L729.2 960.5 L731.2 958.8 L733.3 957.2 L735.4 955.7 L737.6 954.4 L739.8 953.1 L742.1 952.0 L744.3 951.0 L746.7 950.2 L749.0 949.5 L751.4 948.9 L753.9 948.5 L756.4 948.3 L758.9 948.2 L761.4 948.3 L764.0 948.5 L766.6 948.9 L769.2 949.4 L771.7 950.0 L774.3 950.8 L776.9 951.7 L779.4 952.7 L781.9 953.9 L784.4 955.2 L786.9 956.6 L789.3 958.1 L791.6 959.8 L794.0 961.5 L796.3 963.3 L798.6 965.1 L800.8 967.0 L803.1 969.0 L805.3 970.9 L807.5 972.9 L809.7 974.9 L811.9 976.8 L814.1 978.7 L816.3 980.6 L818.5 982.4 L820.7 984.1 L822.9 985.8 L825.1 987.4 L827.4 988.8 L829.7 990.1 L832.0 991.3 L834.3 992.4 L836.7 993.2 L839.1 993.9 L841.5 994.4 L844.0 994.8 L846.5 994.9 L849.0 994.9 L851.6 994.7 L854.1 994.4 L856.7 993.9 L859.3 993.3 L861.9 992.5 L864.5 991.7 L867.1 990.7 L869.6 989.6 L872.2 988.5 L874.7 987.2 L877.2 985.9 L879.7 984.5 L882.1 983.1 L884.5 981.6 L886.9 980.0 L889.2 978.4 L891.5 976.8 L893.7 975.1 L895.9 973.4 L898.1 971.6 L900.2 969.8 L902.3 968.0 L904.4 966.1 L906.4 964.2 L908.4 962.2 L910.4 960.3 L912.3 958.2 L914.2 956.2 L916.1 954.1 L917.9 952.1 L919.8 950.0 L921.5 947.8 L923.3 945.7 L925.1 943.5 L926.8 941.3 L928.5 939.1 L930.1 936.9 L931.8 934.6 L933.4 932.4 L935.0 930.2 L936.6 927.9 L938.2 925.6 L939.7 923.4 L941.3 921.1 L942.8 918.8 L944.3 916.5 L945.8 914.3 L947.2 912.0 L948.7 909.7 L950.2 907.5 L951.6 905.2 L953.0 903.0 L954.4 900.7 L955.9 898.5 L957.3 896.2 L958.7 894.0 L960.1 891.8 L961.5 889.5 L963.0 887.3 L964.4 885.1 L965.8 882.8 L967.3 880.6 L968.8 878.4 L970.3 876.2 L971.8 873.9 L973.3 871.7 L974.8 869.4 L976.4 867.2 L978.0 864.9 L979.6 862.7 L981.3 860.4 L983.0 858.2 L984.7 855.9 L986.5 853.6 L988.3 851.3 L990.1 849.1 L992.0 846.8 L993.9 844.6 L995.8 842.5 L997.8 840.3 L999.8 838.2 L1001.9 836.2 L1003.9 834.2 L1006.1 832.3 L1008.2 830.5 L1010.4 828.8 L1012.7 827.1 L1015.0 825.6 L1017.3 824.1 L1019.6 822.8 L1022.0 821.6 L1024.5 820.6 L1027.0 819.6 L1029.5 818.8 L1032.0 818.2 L1034.6 817.7 L1037.2 817.4 L1039.8 817.3 L1042.4 817.3 L1045.0 817.5 L1047.5 817.9 L1050.0 818.5 L1052.4 819.2 L1054.9 820.1 L1057.3 821.1 L1059.6 822.3 L1061.9 823.6 L1064.2 825.1 L1066.5 826.6 L1068.7 828.2 L1070.9 829.9 L1073.0 831.8 L1075.1 833.6 L1077.1 835.6 L1079.1 837.6 L1081.1 839.6 L1083.0 841.7 L1084.9 843.8 L1086.7 845.9 L1088.5 848.0 L1090.3 850.2 L1092.0 852.4 L1093.7 854.6 L1095.3 856.8 L1096.9 859.0 L1098.5 861.3 L1100.1 863.6 L1101.6 865.8 L1103.1 868.1 L1104.6 870.5 L1106.1 872.8 L1107.6 875.1 L1109.0 877.4 L1110.4 879.8 L1111.9 882.1 L1113.3 884.5 L1114.7 886.8 L1116.1 889.2 L1117.5 891.6 L1118.9 893.9 L1120.3 896.3 L1121.7 898.6 L1123.1 901.0 L1124.5 903.3 L1125.9 905.7 L1127.3 908.0 L1128.8 910.3 L1130.2 912.6 L1131.7 914.9 L1133.2 917.2 L1134.7 919.5 L1136.2 921.8 L1137.8 924.0 L1139.4 926.2 L1141.0 928.5 L1142.6 930.7 L1144.3 932.8 L1146.0 935.0 L1147.7 937.1 L1149.4 939.2 L1151.2 941.3 L1153.0 943.4 L1154.9 945.5 L1156.7 947.5 L1158.6 949.5 L1160.5 951.5 L1162.4 953.5 L1164.3 955.5 L1166.3 957.4 L1168.3 959.4 L1170.3 961.3 L1172.3 963.1 L1174.4 965.0 L1176.4 966.9 L1178.5 968.7 L1180.6 970.5 L1182.7 972.3 L1184.9 974.0 L1187.0 975.8 L1189.2 977.5 L1191.4 979.2 L1193.6 980.9 L1195.8 982.5 L1198.0 984.2 L1200.2 985.8 L1202.5 987.4 L1204.7 988.9 L1207.0 990.5 L1209.3 992.0 L1211.6 993.5 L1213.9 995.0 L1216.2 996.5 L1218.6 997.9 L1220.9 999.3 L1223.3 1000.7 L1225.6 1002.1 L1228.0 1003.5 L1230.4 1004.8 L1232.8 1006.1 L1235.2 1007.4 L1237.7 1008.6 L1240.1 1009.9 L1242.5 1011.1 L1245.0 1012.3 L1247.5 1013.4 L1250.0 1014.6 L1252.5 1015.7 L1255.0 1016.8 L1257.5 1017.8 L1260.0 1018.9 L1262.5 1019.9 L1265.1 1020.9 L1267.6 1021.8 L1270.2 1022.8 L1272.7 1023.7 L1275.3 1024.6 L1277.9 1025.4 L1280.5 1026.3 L1283.1 1027.1 L1285.7 1027.9 L1288.3 1028.6 L1291.0 1029.4 L1293.6 1030.1 L1296.2 1030.7 L1298.9 1031.4 L1301.6 1032.0 L1304.2 1032.6 L1306.9 1033.2 L1309.6 1033.7 L1312.3 1034.2 L1315.0 1034.7 L1317.7 1035.2 L1320.4 1035.6 L1323.1 1036.0 L1325.8 1036.4 L1328.6 1036.8 L1331.3 1037.1 L1334.0 1037.4 L1336.8 1037.6 L1339.5 1037.9 L1342.3 1038.1 L1345.1 1038.2 L1347.8 1038.4 L1350.6 1038.5 L1353.4 1038.6 L1356.2 1038.6 L1359.0 1038.7 L1361.7 1038.7 L1364.5 1038.6 L1367.3 1038.6" stroke="#800080" stroke-opacity="0.6" stroke-width="18.5"/>
<path d="M284.8 1205.3 L287.3 1205.0 L289.8 1204.8 L292.3 1204.6 L294.8 1204.3 L297.4 1204.1 L299.9 1203.9 L302.5 1203.7 L305.0 1203.5 L307.6 1203.4 L310.2 1203.2 L312.8 1203.0 L315.4 1202.9 L318.0 1202.7 L320.7 1202.6 L323.3 1202.5 L325.9 1202.4 L328.6 1202.3 L331.3 1202.2 L333.9 1202.1 L336.6 1202.0 L339.3 1201.9 L342.0 1201.8 L344.7 1201.8 L347.4 1201.7 L350.1 1201.6 L352.8 1201.6 L355.5 1201.5 L358.2 1201.4 L361.0 1201.4 L363.7 1201.3 L366.4 1201.3 L369.2 1201.2 L371.9 1201.2 L374.7 1201.1 L377.4 1201.1 L380.2 1201.0 L383.0 1201.0 L385.7 1200.9 L388.5 1200.9 L391.3 1200.8 L394.0 1200.7 L396.8 1200.7 L399.6 1200.6 L402.4 1200.5 L405.1 1200.5 L407.9 1200.4 L410.7 1200.3 L413.5 1200.2 L416.3 1200.1 L419.0 1200.0 L421.8 1199.9 L424.6 1199.8 L427.4 1199.7 L430.1 1199.5 L432.9 1199.4 L435.7 1199.3 L438.5 1199.1 L441.2 1198.9 L444.0 1198.8 L446.8 1198.6 L449.5 1198.4 L452.3 1198.2 L455.0 1197.9 L457.8 1197.7 L460.5 1197.5 L463.3 1197.2 L466.0 1197.0 L468.8 1196.7 L471.5 1196.4 L474.2 1196.1 L476.9 1195.8 L479.6 1195.4 L482.4 1195.1 L485.1 1194.7 L487.8 1194.3 L490.4 1193.9 L493.1 1193.5 L495.8 1193.1 L498.5 1192.6 L501.1 1192.1 L503.8 1191.6 L506.4 1191.1 L509.1 1190.6 L511.7 1190.1 L514.3 1189.5 L516.9 1188.9 L519.5 1188.3 L522.1 1187.7 L524.7 1187.0 L527.2 1186.3 L529.8 1185.6 L532.4 1184.9 L534.9 1184.2 L537.4 1183.4 L539.9 1182.6 L542.4 1181.8 L544.9 1181.0 L547.4 1180.1 L549.9 1179.2 L552.3 1178.3 L554.8 1177.4 L557.2 1176.4 L559.6 1175.4 L562.0 1174.4 L564.4 1173.3 L566.8 1172.3 L569.1 1171.1 L571.5 1170.0 L573.8 1168.8 L576.1 1167.6 L578.4 1166.4 L580.7 1165.2 L583.0 1163.9 L585.2 1162.5 L587.5 1161.2 L589.7 1159.8 L591.9 1158.4 L594.1 1156.9 L596.2 1155.5 L598.4 1154.0 L600.5 1152.4 L602.6 1150.8 L604.7 1149.2 L606.8 1147.6 L608.9 1145.9 L610.9 1144.3 L613.0 1142.6 L615.0 1140.8 L617.0 1139.0 L619.0 1137.3 L621.0 1135.4 L622.9 1133.6 L624.9 1131.7 L626.8 1129.9 L628.7 1127.9 L630.6 1126.0 L632.5 1124.1 L634.4 1122.1 L636.2 1120.1 L638.1 1118.1 L639.9 1116.1 L641.7 1114.0 L643.5 1111.9 L645.3 1109.8 L647.0 1107.7 L648.8 1105.6 L650.5 1103.5 L652.2 1101.3 L653.9 1099.2 L655.6 1097.0 L657.3 1094.8 L659.0 1092.6 L660.6 1090.4 L662.2 1088.1 L663.9 1085.9 L665.5 1083.6 L667.1 1081.4 L668.6 1079.1 L670.2 1076.8 L671.8 1074.5 L673.3 1072.2 L674.8 1069.9 L676.3 1067.6 L677.8 1065.3 L679.3 1062.9 L680.8 1060.6 L682.3 1058.3 L683.7 1055.9 L685.2 1053.6 L686.6 1051.2 L688.0 1048.9 L689.4 1046.5 L690.8 1044.2 L692.2 1041.8 L693.5 1039.5 L694.9 1037.1 L696.2 1034.8 L697.6 1032.4 L698.9 1030.1 L700.2 1027.7 L701.6 1025.4 L702.9 1023.1 L704.3 1020.8 L705.6 1018.5 L707.0 1016.2 L708.4 1013.9 L709.8 1011.6 L711.2 1009.4 L712.6 1007.2 L714.1 1004.9 L715.5 1002.8 L717.0 1000.6 L718.6 998.4 L720.1 996.3 L721.7 994.2 L723.3 992.1 L725.0 990.1 L726.7 988.0 L728.4 986.0 L730.2 984.1 L732.0 982.2 L733.9 980.2 L735.8 978.4 L737.7 976.5 L739.8 974.7 L741.8 973.0 L744.0 971.3 L746.1 969.6 L748.4 968.0 L750.7 966.4 L753.0 964.9 L755.4 963.5 L757.8 962.1 L760.3 960.9 L762.8 959.9 L765.3 959.0 L767.8 958.2 L770.3 957.6 L772.8 957.2 L775.3 957.0 L777.8 957.0 L780.3 957.2 L782.8 957.6 L785.3 958.1 L787.8 958.8 L790.2 959.6 L792.7 960.6 L795.2 961.6 L797.7 962.8 L800.1 964.0 L802.6 965.3 L805.1 966.7 L807.6 968.1 L810.1 969.5 L812.6 971.0 L815.0 972.4 L817.5 973.9 L820.0 975.3 L822.6 976.7 L825.1 978.0 L827.6 979.3 L830.2 980.5 L832.7 981.6 L835.3 982.5 L837.8 983.4 L840.4 984.2 L843.0 984.8 L845.7 985.2 L848.3 985.6 L850.9 985.8 L853.5 985.9 L856.2 985.8 L858.8 985.7 L861.4 985.4 L864.0 985.1 L866.6 984.6 L869.2 984.0 L871.7 983.4 L874.3 982.7 L876.8 981.9 L879.3 981.0 L881.7 980.1 L884.2 979.1 L886.6 978.0 L888.9 976.9 L891.2 975.8 L893.5 974.5 L895.8 973.2 L898.0 971.9 L900.2 970.5 L902.4 969.1 L904.5 967.6 L906.6 966.1 L908.7 964.5 L910.8 962.9 L912.8 961.3 L914.8 959.6 L916.8 957.8 L918.7 956.1 L920.7 954.3 L922.6 952.4 L924.5 950.6 L926.4 948.6 L928.2 946.7 L930.1 944.7 L931.9 942.7 L933.7 940.7 L935.5 938.7 L937.2 936.6 L939.0 934.5 L940.7 932.4 L942.5 930.2 L944.2 928.1 L945.9 925.9 L947.6 923.7 L949.3 921.5 L950.9 919.3 L952.6 917.1 L954.3 914.8 L955.9 912.6 L957.6 910.3 L959.2 908.1 L960.9 905.8 L962.5 903.5 L964.1 901.3 L965.8 899.0 L967.4 896.7 L969.0 894.4 L970.6 892.2 L972.3 889.9 L973.9 887.7 L975.5 885.4 L977.2 883.2 L978.8 880.9 L980.5 878.7 L982.1 876.5 L983.8 874.3 L985.4 872.2 L987.1 870.0 L988.8 867.9 L990.5 865.8 L992.3 863.7 L994.0 861.7 L995.8 859.6 L997.6 857.6 L999.4 855.7 L1001.3 853.8 L1003.1 851.9 L1005.0 850.0 L1007.0 848.2 L1008.9 846.4 L1010.9 844.7 L1013.0 843.0 L1015.0 841.4 L1017.2 839.8 L1019.3 838.3 L1021.5 836.8 L1023.8 835.4 L1026.1 834.0 L1028.4 832.7 L1030.8 831.5 L1033.2 830.4 L1035.7 829.3 L1038.2 828.5 L1040.7 827.8 L1043.2 827.2 L1045.8 826.8 L1048.3 826.6 L1050.9 826.6 L1053.4 826.7 L1056.0 827.0 L1058.6 827.4 L1061.1 827.9 L1063.7 828.6 L1066.2 829.4 L1068.7 830.2 L1071.2 831.2 L1073.6 832.3 L1076.0 833.4 L1078.4 834.7 L1080.7 836.0 L1083.0 837.3 L1085.3 838.7 L1087.5 840.2 L1089.7 841.7 L1091.8 843.3 L1093.9 845.0 L1096.0 846.7 L1098.0 848.4 L1100.0 850.2 L1102.0 852.0 L1103.9 853.9 L1105.8 855.8 L1107.7 857.7 L1109.6 859.7 L1111.4 861.7 L1113.2 863.8 L1115.0 865.9 L1116.8 868.0 L1118.5 870.1 L1120.3 872.2 L1122.0 874.4 L1123.7 876.6 L1125.3 878.8 L1127.0 881.0 L1128.7 883.2 L1130.3 885.5 L1131.9 887.7 L1133.5 890.0 L1135.1 892.2 L1136.8 894.5 L1138.3 896.8 L1139.9 899.0 L1141.5 901.3 L1143.1 903.5 L1144.7 905.8 L1146.3 908.0 L1147.9 910.2 L1149.4 912.5 L1151.0 914.7 L1152.6 916.9 L1154.2 919.1 L1155.8 921.3 L1157.4 923.5 L1159.0 925.7 L1160.6 927.8 L1162.2 930.0 L1163.8 932.2 L1165.4 934.3 L1167.0 936.4 L1168.7 938.6 L1170.3 940.7 L1172.0 942.8 L1173.6 944.9 L1175.3 946.9 L1177.0 949.0 L1178.7 951.1 L1180.4 953.1 L1182.2 955.1 L1183.9 957.1 L1185.7 959.1 L1187.4 961.1 L1189.2 963.1 L1191.1 965.0 L1192.9 967.0 L1194.7 968.9 L1196.6 970.8 L1198.5 972.7 L1200.4 974.5 L1202.4 976.4 L1204.3 978.2 L1206.3 980.1 L1208.3 981.9 L1210.3 983.6 L1212.3 985.4 L1214.3 987.1 L1216.4 988.9 L1218.5 990.6 L1220.6 992.3 L1222.7 993.9 L1224.8 995.6 L1227.0 997.2 L1229.1 998.8 L1231.3 1000.4 L1233.5 1001.9 L1235.7 1003.5 L1237.9 1005.0 L1240.2 1006.5 L1242.5 1007.9 L1244.7 1009.4 L1247.0 1010.8 L1249.3 1012.2 L1251.6 1013.6 L1254.0 1014.9 L1256.3 1016.3 L1258.7 1017.6 L1261.0 1018.8 L1263.4 1020.1 L1265.8 1021.3 L1268.2 1022.5 L1270.7 1023.7 L1273.1 1024.9 L1275.6 1026.0 L1278.0 1027.1 L1280.5 1028.1 L1283.0 1029.2 L1285.5 1030.2 L1288.0 1031.2 L1290.5 1032.1 L1293.0 1033.1 L1295.6 1034.0 L1298.1 1034.8 L1300.7 1035.7 L1303.3 1036.5 L1305.8 1037.3 L1308.4 1038.0 L1311.0 1038.7 L1313.6 1039.4 L1316.2 1040.1 L1318.9 1040.7 L1321.5 1041.3 L1324.2 1041.9 L1326.8 1042.4 L1329.5 1042.9 L1332.1 1043.4 L1334.8 1043.8 L1337.5 1044.2 L1340.2 1044.6 L1342.9 1044.9 L1345.6 1045.2 L1348.3 1045.5 L1351.0 1045.7 L1353.7 1045.9 L1356.4 1046.1 L1359.2 1046.2 L1361.9 1046.3 L1364.7 1046.3 L1367.4 1046.3" stroke="#000" stroke-width="6.2" stroke-linecap="round" stroke-dasharray="12 14" />
<path d="M900.1 1664.4 L901.1 1664.3 L902.0 1664.2 L903.0 1664.1 L903.9 1664.0 L904.9 1663.8 L905.8 1663.7 L906.8 1663.6 L907.7 1663.5 L908.7 1663.3 L909.6 1663.2 L910.6 1663.0 L911.5 1662.9 L912.5 1662.8 L913.4 1662.6 L914.4 1662.5 L915.3 1662.3 L916.3 1662.2 L917.2 1662.0 L918.2 1661.9 L919.1 1661.7 L920.1 1661.5 L921.0 1661.4 L922.0 1661.2 L922.9 1661.1 L923.8 1660.9 L924.8 1660.7 L925.7 1660.5 L926.7 1660.4 L927.6 1660.2 L928.6 1660.0 L929.5 1659.8 L930.4 1659.6 L931.4 1659.5 L932.3 1659.3 L933.2 1659.1 L934.2 1658.9 L935.1 1658.7 L936.1 1658.5 L937.0 1658.3 L937.9 1658.1 L938.9 1657.9 L939.8 1657.7 L940.7 1657.5 L941.7 1657.3 L942.6 1657.1 L943.6 1656.9 L944.5 1656.6 L945.4 1656.4 L946.4 1656.2 L947.3 1656.0 L948.2 1655.8 L949.1 1655.5 L950.1 1655.3 L951.0 1655.1 L951.9 1654.9 L952.9 1654.6 L953.8 1654.4 L954.7 1654.2 L955.7 1653.9 L956.6 1653.7 L957.5 1653.5 L958.5 1653.2 L959.4 1653.0 L960.3 1652.7 L961.2 1652.5 L962.2 1652.3 L963.1 1652.0 L964.0 1651.8 L964.9 1651.5 L965.9 1651.3 L966.8 1651.0 L967.7 1650.8 L968.6 1650.5 L969.6 1650.2 L970.5 1650.0 L971.4 1649.7 L972.3 1649.5 L973.3 1649.2 L974.2 1648.9 L975.1 1648.7 L976.0 1648.4 L977.0 1648.1 L977.9 1647.9 L978.8 1647.6 L979.7 1647.3 L980.7 1647.1 L981.6 1646.8 L982.5 1646.5 L983.4 1646.2 L984.3 1646.0 L985.3 1645.7 L986.2 1645.4 L987.1 1645.1 L988.0 1644.9 L988.9 1644.6 L989.9 1644.3 L990.8 1644.0 L991.7 1643.7 L992.6 1643.4 L993.5 1643.2 L994.5 1642.9 L995.4 1642.6 L996.3 1642.3 L997.2 1642.0 L998.1 1641.7 L999.0 1641.4 L1000.0 1641.1 L1000.9 1640.8 L1001.8 1640.5 L1002.7 1640.2 L1003.6 1639.9 L1004.5 1639.6 L1005.5 1639.3 L1006.4 1639.0 L1007.3 1638.8 L1008.2 1638.5 L1009.1 1638.2 L1010.0 1637.9 L1011.0 1637.5 L1011.9 1637.2 L1012.8 1636.9 L1013.7 1636.6 L1014.6 1636.3 L1015.5 1636.0 L1016.5 1635.7 L1017.4 1635.4 L1018.3 1635.1 L1019.2 1634.8 L1020.1 1634.5 L1021.0 1634.2 L1021.9 1633.9 L1022.9 1633.6 L1023.8 1633.3 L1024.7 1633.0 L1025.6 1632.7 L1026.5 1632.3 L1027.4 1632.0 L1028.3 1631.7 L1029.3 1631.4 L1030.2 1631.1 L1031.1 1630.8 L1032.0 1630.5 L1032.9 1630.2 L1033.8 1629.9 L1034.7 1629.5 L1035.7 1629.2 L1036.6 1628.9 L1037.5 1628.6 L1038.4 1628.3 L1039.3 1628.0 L1040.2 1627.7 L1041.1 1627.4 L1042.1 1627.0 L1043.0 1626.7 L1043.9 1626.4 L1044.8 1626.1 L1045.7 1625.8 L1046.6 1625.5 L1047.5 1625.2 L1048.4 1624.9 L1049.4 1624.5 L1050.3 1624.2 L1051.2 1623.9 L1052.1 1623.6 L1053.0 1623.3 L1053.9 1623.0 L1054.8 1622.7 L1055.8 1622.4 L1056.7 1622.1 L1057.6 1621.7 L1058.5 1621.4 L1059.4 1621.1 L1060.3 1620.8 L1061.2 1620.5 L1062.2 1620.2 L1063.1 1619.9 L1064.0 1619.6 L1064.9 1619.3 L1065.8 1619.0 L1066.7 1618.7 L1067.7 1618.3 L1068.6 1618.0 L1069.5 1617.7 L1070.4 1617.4 L1071.3 1617.1 L1072.2 1616.8 L1073.1 1616.5 L1074.1 1616.2 L1075.0 1615.9 L1075.9 1615.6 L1076.8 1615.3 L1077.7 1615.0 L1078.6 1614.7 L1079.6 1614.4 L1080.5 1614.1 L1081.4 1613.8 L1082.3 1613.5 L1083.2 1613.2 L1084.1 1612.9 L1085.1 1612.7 L1086.0 1612.4 L1086.9 1612.1 L1087.8 1611.8 L1088.7 1611.5 L1089.7 1611.2 L1090.6 1610.9 L1091.5 1610.6 L1092.4 1610.3 L1093.3 1610.1 L1094.3 1609.8 L1095.2 1609.5 L1096.1 1609.2 L1097.0 1608.9 L1097.9 1608.7 L1098.9 1608.4 L1099.8 1608.1 L1100.7 1607.8 L1101.6 1607.6 L1102.5 1607.3 L1103.5 1607.0 L1104.4 1606.8 L1105.3 1606.5 L1106.2 1606.2 L1107.2 1606.0 L1108.1 1605.7 L1109.0 1605.4 L1109.9 1605.2 L1110.9 1604.9 L1111.8 1604.7 L1112.7 1604.4 L1113.6 1604.2 L1114.6 1603.9 L1115.5 1603.7 L1116.4 1603.4 L1117.3 1603.2 L1118.3 1602.9 L1119.2 1602.7 L1120.1 1602.4 L1121.1 1602.2 L1122.0 1602.0 L1122.9 1601.7 L1123.8 1601.5 L1124.8 1601.3 L1125.7 1601.0 L1126.6 1600.8 L1127.6 1600.6 L1128.5 1600.3 L1129.4 1600.1 L1130.4 1599.9 L1131.3 1599.7 L1132.2 1599.5 L1133.2 1599.2 L1134.1 1599.0 L1135.0 1598.8 L1136.0 1598.6 L1136.9 1598.4 L1137.8 1598.2 L1138.8 1598.0 L1139.7 1597.8 L1140.6 1597.6 L1141.6 1597.4 L1142.5 1597.2 L1143.5 1597.0 L1144.4 1596.8 L1145.3 1596.6 L1146.3 1596.5 L1147.2 1596.3 L1148.2 1596.1 L1149.1 1595.9 L1150.0 1595.7 L1151.0 1595.6 L1151.9 1595.4 L1152.9 1595.2 L1153.8 1595.0 L1154.7 1594.9 L1155.7 1594.7 L1156.6 1594.6 L1157.6 1594.4 L1158.5 1594.2 L1159.5 1594.1 L1160.4 1593.9 L1161.4 1593.8 L1162.3 1593.6 L1163.2 1593.5 L1164.2 1593.3 L1165.1 1593.2 L1166.1 1593.0 L1167.0 1592.9 L1168.0 1592.8 L1168.9 1592.6 L1169.9 1592.5 L1170.8 1592.4 L1171.8 1592.2 L1172.7 1592.1 L1173.7 1592.0 L1174.6 1591.8 L1175.6 1591.7 L1176.5 1591.6 L1177.5 1591.5 L1178.4 1591.3 L1179.4 1591.2 L1180.3 1591.1 L1181.3 1591.0 L1182.2 1590.9 L1183.2 1590.8 L1184.2 1590.7 L1185.1 1590.6 L1186.1 1590.4 L1187.0 1590.3 L1188.0 1590.2 L1188.9 1590.1 L1189.9 1590.0 L1190.8 1589.9 L1191.8 1589.8 L1192.7 1589.7 L1193.7 1589.6 L1194.7 1589.6 L1195.6 1589.5 L1196.6 1589.4 L1197.5 1589.3 L1198.5 1589.2 L1199.4 1589.1 L1200.4 1589.0 L1201.4 1588.9 L1202.3 1588.9 L1203.3 1588.8 L1204.2 1588.7 L1205.2 1588.6 L1206.2 1588.6 L1207.1 1588.5 L1208.1 1588.4 L1209.0 1588.3 L1210.0 1588.3 L1211.0 1588.2 L1211.9 1588.1 L1212.9 1588.1 L1213.8 1588.0 L1214.8 1587.9 L1215.8 1587.9 L1216.7 1587.8 L1217.7 1587.7 L1218.7 1587.7 L1219.6 1587.6 L1220.6 1587.6 L1221.5 1587.5 L1222.5 1587.5 L1223.5 1587.4 L1224.4 1587.4 L1225.4 1587.3 L1226.4 1587.3 L1227.3 1587.2 L1228.3 1587.2 L1229.2 1587.1 L1230.2 1587.1 L1231.2 1587.0 L1232.1 1587.0 L1233.1 1586.9 L1234.1 1586.9 L1235.0 1586.8 L1236.0 1586.8 L1237.0 1586.8 L1237.9 1586.7 L1238.9 1586.7 L1239.9 1586.7 L1240.8 1586.6 L1241.8 1586.6 L1242.8 1586.5 L1243.7 1586.5 L1244.7 1586.5 L1245.7 1586.5 L1246.6 1586.4 L1247.6 1586.4 L1248.6 1586.4 L1249.5 1586.3 L1250.5 1586.3 L1251.5 1586.3 L1252.4 1586.3 L1253.4 1586.2 L1254.4 1586.2 L1255.3 1586.2 L1256.3 1586.2 L1257.3 1586.1 L1258.2 1586.1 L1259.2 1586.1 L1260.2 1586.1 L1261.1 1586.0 L1262.1 1586.0 L1263.1 1586.0 L1264.0 1586.0 L1265.0 1586.0 L1266.0 1586.0 L1266.9 1585.9 L1267.9 1585.9 L1268.9 1585.9 L1269.8 1585.9 L1270.8 1585.9 L1271.8 1585.9 L1272.7 1585.8 L1273.7 1585.8 L1274.7 1585.8 L1275.6 1585.8 L1276.6 1585.8 L1277.6 1585.8 L1278.5 1585.8 L1279.5 1585.8 L1280.5 1585.7 L1281.4 1585.7 L1282.4 1585.7 L1283.4 1585.7 L1284.3 1585.7 L1285.3 1585.7 L1286.3 1585.7 L1287.2 1585.7 L1288.2 1585.7 L1289.2 1585.7 L1290.1 1585.7 L1291.1 1585.7 L1292.1 1585.6 L1293.0 1585.6 L1294.0 1585.6 L1295.0 1585.6 L1295.9 1585.6 L1296.9 1585.6 L1297.9 1585.6 L1298.9 1585.6 L1299.8 1585.6 L1300.8 1585.6 L1301.8 1585.6 L1302.7 1585.6 L1303.7 1585.6 L1304.6 1585.6 L1305.6 1585.6 L1306.6 1585.6 L1307.5 1585.5 L1308.5 1585.5 L1309.5 1585.5 L1310.4 1585.5 L1311.4 1585.5 L1312.4 1585.5 L1313.3 1585.5 L1314.3 1585.5 L1315.3 1585.5 L1316.2 1585.5 L1317.2 1585.5 L1318.2 1585.5 L1319.1 1585.5 L1320.1 1585.5 L1321.1 1585.5 L1322.0 1585.5 L1323.0 1585.4 L1324.0 1585.4 L1324.9 1585.4 L1325.9 1585.4 L1326.8 1585.4 L1327.8 1585.4 L1328.8 1585.4 L1329.7 1585.4 L1330.7 1585.4 L1331.7 1585.4 L1332.6 1585.4 L1333.6 1585.3 L1334.5 1585.3 L1335.5 1585.3 L1336.5 1585.3 L1337.4 1585.3 L1338.4 1585.3 L1339.3 1585.3 L1340.3 1585.3 L1341.3 1585.2 L1342.2 1585.2 L1343.2 1585.2 L1344.2 1585.2 L1345.1 1585.2 L1346.1 1585.2 L1347.0 1585.2 L1348.0 1585.1 L1348.9 1585.1 L1349.9 1585.1 L1350.9 1585.1 L1351.8 1585.1 L1352.8 1585.0 L1353.7 1585.0 L1354.7 1585.0 L1355.7 1585.0 L1356.6 1585.0 L1357.6 1584.9 L1358.5 1584.9 L1359.5 1584.9 L1360.4 1584.9 L1361.4 1584.8 L1362.3 1584.8 L1363.3 1584.8 L1364.3 1584.8 L1365.2 1584.7 L1366.2 1584.7 L1367.1 1584.7 L1368.1 1584.6 L1369.0 1584.6 L1370.0 1584.6" stroke="#888888" stroke-width="3.3" stroke-dasharray="19 7 6 7.6" />
<path d="M292.0 1671.9 L294.0 1671.9 L296.0 1671.8 L298.0 1671.8 L300.0 1671.8 L302.0 1671.7 L304.0 1671.7 L306.0 1671.7 L308.0 1671.6 L310.0 1671.6 L312.0 1671.5 L314.0 1671.5 L316.0 1671.5 L318.0 1671.4 L320.0 1671.4 L322.0 1671.3 L324.0 1671.3 L326.0 1671.3 L328.0 1671.2 L330.0 1671.2 L332.0 1671.1 L334.0 1671.1 L336.0 1671.0 L338.0 1671.0 L340.0 1671.0 L342.0 1670.9 L344.0 1670.9 L346.0 1670.8 L348.0 1670.8 L350.0 1670.7 L352.0 1670.7 L354.0 1670.7 L356.0 1670.6 L358.0 1670.6 L360.0 1670.5 L362.0 1670.5 L364.0 1670.4 L366.0 1670.4 L368.0 1670.3 L370.0 1670.3 L372.0 1670.3 L374.0 1670.2 L376.0 1670.2 L378.0 1670.1 L380.0 1670.1 L382.0 1670.0 L384.0 1670.0 L386.0 1669.9 L388.0 1669.9 L390.0 1669.8 L392.0 1669.8 L394.0 1669.7 L396.0 1669.7 L398.0 1669.6 L400.0 1669.6 L402.0 1669.5 L404.0 1669.5 L406.0 1669.4 L408.0 1669.4 L410.0 1669.3 L412.0 1669.3 L414.0 1669.2 L416.0 1669.2 L418.0 1669.1 L420.0 1669.1 L422.0 1669.0 L424.0 1669.0 L426.0 1668.9 L428.0 1668.9 L430.0 1668.8 L432.0 1668.8 L434.0 1668.7 L436.0 1668.7 L438.0 1668.6 L440.0 1668.6 L442.0 1668.5 L444.0 1668.5 L446.0 1668.4 L448.0 1668.4 L450.0 1668.3 L452.0 1668.3 L454.0 1668.2 L456.0 1668.1 L458.0 1668.1 L460.0 1668.0 L462.0 1668.0 L464.0 1667.9 L466.0 1667.9 L468.0 1667.8 L470.0 1667.7 L472.0 1667.7 L474.0 1667.6 L476.0 1667.6 L478.0 1667.5 L480.0 1667.4 L482.0 1667.4 L484.0 1667.3 L486.0 1667.2 L488.0 1667.2 L490.0 1667.1 L492.0 1667.1 L494.0 1667.0 L496.0 1666.9 L498.0 1666.9 L500.0 1666.8 L502.0 1666.7 L504.0 1666.7 L506.0 1666.6 L508.0 1666.5 L510.0 1666.5 L512.0 1666.4 L514.0 1666.3 L516.0 1666.3 L518.0 1666.2 L520.0 1666.1 L522.0 1666.1 L524.0 1666.0 L526.0 1665.9 L528.0 1665.9 L530.0 1665.8 L532.0 1665.7 L534.0 1665.7 L536.0 1665.6 L538.0 1665.5 L540.0 1665.5 L542.0 1665.4 L544.0 1665.3 L546.0 1665.3 L548.0 1665.2 L550.0 1665.1 L552.0 1665.1 L554.0 1665.0 L556.0 1664.9 L558.0 1664.8 L560.0 1664.8 L562.0 1664.7 L564.0 1664.6 L566.0 1664.6 L568.0 1664.5 L570.0 1664.4 L572.0 1664.3 L574.0 1664.3 L576.0 1664.2 L578.0 1664.1 L580.0 1664.0 L582.0 1664.0 L584.0 1663.9 L586.0 1663.8 L588.0 1663.7 L590.0 1663.6 L592.0 1663.6 L594.0 1663.5 L596.0 1663.4 L598.0 1663.3 L600.0 1663.2 L602.0 1663.1 L604.0 1663.0 L606.0 1663.0 L608.0 1662.9 L610.0 1662.8 L612.0 1662.7 L614.0 1662.6 L616.0 1662.5 L618.0 1662.4 L620.0 1662.3 L622.0 1662.2 L624.0 1662.1 L626.0 1662.0 L628.0 1661.9 L630.0 1661.8 L632.0 1661.7 L634.0 1661.6 L636.0 1661.5 L638.0 1661.4 L640.0 1661.3 L642.0 1661.2 L644.0 1661.1 L646.0 1661.0 L648.0 1660.9 L650.0 1660.8 L652.0 1660.7 L654.0 1660.6 L656.0 1660.4 L658.0 1660.3 L660.0 1660.2 L662.0 1660.1 L664.0 1659.9 L666.0 1659.8 L668.0 1659.7 L670.0 1659.5 L672.0 1659.4 L674.0 1659.3 L676.0 1659.1 L678.0 1659.0 L680.0 1658.8 L682.0 1658.7 L684.0 1658.5 L686.0 1658.4 L688.0 1658.2 L690.0 1658.0 L692.0 1657.9 L694.0 1657.7 L696.0 1657.5 L698.0 1657.3 L700.0 1657.1 L702.0 1656.9 L704.0 1656.7 L706.0 1656.5 L708.0 1656.3 L710.0 1656.0 L712.0 1655.8 L714.0 1655.5 L716.0 1655.3 L718.0 1655.0 L720.0 1654.8 L722.0 1654.5 L724.0 1654.2 L726.0 1653.9 L728.0 1653.6 L730.0 1653.3 L732.0 1652.9 L734.0 1652.6 L736.0 1652.2 L738.0 1651.9 L740.0 1651.5 L742.0 1651.1 L744.0 1650.7 L746.0 1650.3 L748.0 1649.9 L750.0 1649.4 L752.0 1648.9 L754.0 1648.5 L756.0 1648.0 L758.0 1647.5 L760.0 1646.9 L762.0 1646.4 L764.0 1645.8 L766.0 1645.2 L768.0 1644.6 L770.0 1644.0 L772.0 1643.3 L774.0 1642.7 L776.0 1642.0 L778.0 1641.3 L780.0 1640.5 L782.0 1639.8 L784.0 1639.0 L786.0 1638.2 L788.0 1637.3 L790.0 1636.5 L792.0 1635.6 L794.0 1634.7 L796.0 1633.7 L798.0 1632.7 L800.0 1631.7 L802.0 1630.7 L804.0 1629.6 L806.0 1628.5 L808.0 1627.4 L810.0 1626.2 L812.0 1625.0 L814.0 1623.8 L816.0 1622.5 L818.0 1621.2 L820.0 1619.9 L822.0 1618.5 L824.0 1617.1 L826.0 1615.7 L828.0 1614.2 L830.0 1612.7 L832.0 1611.1 L834.0 1609.5 L836.0 1607.9 L838.0 1606.2 L840.0 1604.5 L842.0 1602.7 L844.0 1600.9 L846.0 1599.1 L848.0 1597.2 L850.0 1595.2 L852.0 1593.3 L854.0 1591.2 L856.0 1589.2 L858.0 1587.1 L860.0 1584.9 L862.0 1582.7 L864.0 1580.5 L866.0 1578.2 L868.0 1575.9 L870.0 1573.5 L872.0 1571.1 L874.0 1568.7 L876.0 1566.2 L878.0 1563.7 L880.0 1561.1 L882.0 1558.5 L884.0 1555.8 L886.0 1553.1 L888.0 1550.3 L890.0 1547.5 L892.0 1544.7 L894.0 1541.8 L896.0 1538.9 L898.0 1536.0 L900.0 1533.0 L902.0 1530.0 L904.0 1526.9 L906.0 1523.8 L908.0 1520.7 L910.0 1517.6 L912.0 1514.4 L914.0 1511.1 L916.0 1507.9 L918.0 1504.6 L920.0 1501.3 L922.0 1498.0 L924.0 1494.6 L926.0 1491.2 L928.0 1487.8 L930.0 1484.4 L932.0 1480.9 L934.0 1477.5 L936.0 1474.0 L938.0 1470.5 L940.0 1467.0 L942.0 1463.4 L944.0 1459.9 L946.0 1456.4 L948.0 1452.8 L950.0 1449.3 L952.0 1445.7 L954.0 1442.2 L956.0 1438.7 L958.0 1435.1 L960.0 1431.6 L962.0 1428.1 L964.0 1424.6 L966.0 1421.1 L968.0 1417.7 L970.0 1414.2 L972.0 1410.8 L974.0 1407.5 L976.0 1404.1 L978.0 1400.8 L980.0 1397.5 L982.0 1394.3 L984.0 1391.1 L986.0 1388.0 L988.0 1384.9 L990.0 1381.8 L992.0 1378.9 L994.0 1376.0 L996.0 1373.2 L998.0 1370.4 L1000.0 1367.7 L1002.0 1365.1 L1004.0 1362.6 L1006.0 1360.2 L1008.0 1357.8 L1010.0 1355.6 L1012.0 1353.5 L1014.0 1351.5 L1016.0 1349.6 L1018.0 1347.8 L1020.0 1346.1 L1022.0 1344.5 L1024.0 1343.1 L1026.0 1341.8 L1028.0 1340.6 L1030.0 1339.6 L1032.0 1338.7 L1034.0 1338.0 L1036.0 1337.4 L1038.0 1336.9 L1040.0 1336.6 L1042.0 1336.4 L1044.0 1336.3 L1046.0 1336.4 L1048.0 1336.7 L1050.0 1337.1 L1052.0 1337.6 L1054.0 1338.3 L1056.0 1339.1 L1058.0 1340.1 L1060.0 1341.2 L1062.0 1342.4 L1064.0 1343.8 L1066.0 1345.3 L1068.0 1346.9 L1070.0 1348.6 L1072.0 1350.5 L1074.0 1352.4 L1076.0 1354.5 L1078.0 1356.6 L1080.0 1358.9 L1082.0 1361.3 L1084.0 1363.7 L1086.0 1366.3 L1088.0 1368.9 L1090.0 1371.6 L1092.0 1374.4 L1094.0 1377.3 L1096.0 1380.2 L1098.0 1383.2 L1100.0 1386.2 L1102.0 1389.3 L1104.0 1392.5 L1106.0 1395.6 L1108.0 1398.9 L1110.0 1402.2 L1112.0 1405.5 L1114.0 1408.8 L1116.0 1412.2 L1118.0 1415.6 L1120.0 1419.0 L1122.0 1422.5 L1124.0 1425.9 L1126.0 1429.4 L1128.0 1432.9 L1130.0 1436.4 L1132.0 1439.9 L1134.0 1443.5 L1136.0 1447.0 L1138.0 1450.5 L1140.0 1454.0 L1142.0 1457.5 L1144.0 1461.0 L1146.0 1464.6 L1148.0 1468.0 L1150.0 1471.5 L1152.0 1475.0 L1154.0 1478.4 L1156.0 1481.9 L1158.0 1485.3 L1160.0 1488.7 L1162.0 1492.0 L1164.0 1495.4 L1166.0 1498.7 L1168.0 1502.0 L1170.0 1505.3 L1172.0 1508.5 L1174.0 1511.7 L1176.0 1514.9 L1178.0 1518.1 L1180.0 1521.2 L1182.0 1524.3 L1184.0 1527.3 L1186.0 1530.3 L1188.0 1533.3 L1190.0 1536.2 L1192.0 1539.1 L1194.0 1542.0 L1196.0 1544.8 L1198.0 1547.6 L1200.0 1550.3 L1202.0 1553.0 L1204.0 1555.6 L1206.0 1558.2 L1208.0 1560.8 L1210.0 1563.3 L1212.0 1565.8 L1214.0 1568.3 L1216.0 1570.6 L1218.0 1573.0 L1220.0 1575.3 L1222.0 1577.6 L1224.0 1579.8 L1226.0 1581.9 L1228.0 1584.1 L1230.0 1586.2 L1232.0 1588.2 L1234.0 1590.2 L1236.0 1592.2 L1238.0 1594.1 L1240.0 1595.9 L1242.0 1597.8 L1244.0 1599.5 L1246.0 1601.3 L1248.0 1603.0 L1250.0 1604.6 L1252.0 1606.2 L1254.0 1607.8 L1256.0 1609.4 L1258.0 1610.9 L1260.0 1612.3 L1262.0 1613.7 L1264.0 1615.1 L1266.0 1616.4 L1268.0 1617.7 L1270.0 1619.0 L1272.0 1620.2 L1274.0 1621.4 L1276.0 1622.6 L1278.0 1623.7 L1280.0 1624.8 L1282.0 1625.9 L1284.0 1626.9 L1286.0 1627.9 L1288.0 1628.9 L1290.0 1629.8 L1292.0 1630.7 L1294.0 1631.6 L1296.0 1632.4 L1298.0 1633.2 L1300.0 1634.0 L1302.0 1634.8 L1304.0 1635.5 L1306.0 1636.2 L1308.0 1636.9 L1310.0 1637.5 L1312.0 1638.2 L1314.0 1638.8 L1316.0 1639.3 L1318.0 1639.9 L1320.0 1640.5 L1322.0 1641.0 L1324.0 1641.5 L1326.0 1641.9 L1328.0 1642.4 L1330.0 1642.9 L1332.0 1643.3 L1334.0 1643.7 L1336.0 1644.1 L1338.0 1644.4 L1340.0 1644.8 L1342.0 1645.1 L1344.0 1645.5 L1346.0 1645.8 L1348.0 1646.1 L1350.0 1646.4 L1352.0 1646.6 L1354.0 1646.9 L1356.0 1647.1 L1358.0 1647.4 L1360.0 1647.6 L1362.0 1647.8 L1364.0 1648.0 L1366.0 1648.2 L1368.0 1648.4 L1370.0 1648.5 L1370.0 1659.0 L1368.0 1659.1 L1366.0 1659.1 L1364.0 1659.2 L1362.0 1659.3 L1360.0 1659.4 L1358.0 1659.4 L1356.0 1659.5 L1354.0 1659.6 L1352.0 1659.6 L1350.0 1659.7 L1348.0 1659.8 L1346.0 1659.8 L1344.0 1659.9 L1342.0 1659.9 L1340.0 1660.0 L1338.0 1660.1 L1336.0 1660.1 L1334.0 1660.2 L1332.0 1660.3 L1330.0 1660.3 L1328.0 1660.4 L1326.0 1660.4 L1324.0 1660.5 L1322.0 1660.5 L1320.0 1660.6 L1318.0 1660.7 L1316.0 1660.7 L1314.0 1660.8 L1312.0 1660.8 L1310.0 1660.9 L1308.0 1660.9 L1306.0 1661.0 L1304.0 1661.0 L1302.0 1661.1 L1300.0 1661.1 L1298.0 1661.1 L1296.0 1661.2 L1294.0 1661.2 L1292.0 1661.3 L1290.0 1661.3 L1288.0 1661.4 L1286.0 1661.4 L1284.0 1661.4 L1282.0 1661.5 L1280.0 1661.5 L1278.0 1661.5 L1276.0 1661.6 L1274.0 1661.6 L1272.0 1661.6 L1270.0 1661.7 L1268.0 1661.7 L1266.0 1661.7 L1264.0 1661.8 L1262.0 1661.8 L1260.0 1661.8 L1258.0 1661.8 L1256.0 1661.9 L1254.0 1661.9 L1252.0 1661.9 L1250.0 1662.0 L1248.0 1662.0 L1246.0 1662.0 L1244.0 1662.0 L1242.0 1662.1 L1240.0 1662.1 L1238.0 1662.1 L1236.0 1662.1 L1234.0 1662.2 L1232.0 1662.2 L1230.0 1662.2 L1228.0 1662.2 L1226.0 1662.2 L1224.0 1662.3 L1222.0 1662.3 L1220.0 1662.3 L1218.0 1662.3 L1216.0 1662.3 L1214.0 1662.4 L1212.0 1662.4 L1210.0 1662.4 L1208.0 1662.4 L1206.0 1662.4 L1204.0 1662.5 L1202.0 1662.5 L1200.0 1662.5 L1198.0 1662.5 L1196.0 1662.5 L1194.0 1662.6 L1192.0 1662.6 L1190.0 1662.6 L1188.0 1662.6 L1186.0 1662.6 L1184.0 1662.6 L1182.0 1662.7 L1180.0 1662.7 L1178.0 1662.7 L1176.0 1662.7 L1174.0 1662.7 L1172.0 1662.7 L1170.0 1662.8 L1168.0 1662.8 L1166.0 1662.8 L1164.0 1662.8 L1162.0 1662.8 L1160.0 1662.8 L1158.0 1662.8 L1156.0 1662.9 L1154.0 1662.9 L1152.0 1662.9 L1150.0 1662.9 L1148.0 1662.9 L1146.0 1662.9 L1144.0 1662.9 L1142.0 1663.0 L1140.0 1663.0 L1138.0 1663.0 L1136.0 1663.0 L1134.0 1663.0 L1132.0 1663.0 L1130.0 1663.0 L1128.0 1663.1 L1126.0 1663.1 L1124.0 1663.1 L1122.0 1663.1 L1120.0 1663.1 L1118.0 1663.1 L1116.0 1663.1 L1114.0 1663.2 L1112.0 1663.2 L1110.0 1663.2 L1108.0 1663.2 L1106.0 1663.2 L1104.0 1663.2 L1102.0 1663.2 L1100.0 1663.2 L1098.0 1663.3 L1096.0 1663.3 L1094.0 1663.3 L1092.0 1663.3 L1090.0 1663.3 L1088.0 1663.3 L1086.0 1663.3 L1084.0 1663.3 L1082.0 1663.3 L1080.0 1663.4 L1078.0 1663.4 L1076.0 1663.4 L1074.0 1663.4 L1072.0 1663.4 L1070.0 1663.4 L1068.0 1663.4 L1066.0 1663.4 L1064.0 1663.5 L1062.0 1663.5 L1060.0 1663.5 L1058.0 1663.5 L1056.0 1663.5 L1054.0 1663.5 L1052.0 1663.5 L1050.0 1663.5 L1048.0 1663.5 L1046.0 1663.6 L1044.0 1663.6 L1042.0 1663.6 L1040.0 1663.6 L1038.0 1663.6 L1036.0 1663.6 L1034.0 1663.6 L1032.0 1663.6 L1030.0 1663.6 L1028.0 1663.6 L1026.0 1663.7 L1024.0 1663.7 L1022.0 1663.7 L1020.0 1663.7 L1018.0 1663.7 L1016.0 1663.7 L1014.0 1663.7 L1012.0 1663.7 L1010.0 1663.7 L1008.0 1663.8 L1006.0 1663.8 L1004.0 1663.8 L1002.0 1663.8 L1000.0 1663.8 L998.0 1663.8 L996.0 1663.8 L994.0 1663.8 L992.0 1663.8 L990.0 1663.9 L988.0 1663.9 L986.0 1663.9 L984.0 1663.9 L982.0 1663.9 L980.0 1663.9 L978.0 1663.9 L976.0 1663.9 L974.0 1663.9 L972.0 1663.9 L970.0 1663.9 L968.0 1664.0 L966.0 1664.0 L964.0 1664.0 L962.0 1664.0 L960.0 1664.0 L958.0 1664.0 L956.0 1664.0 L954.0 1664.0 L952.0 1664.0 L950.0 1664.0 L948.0 1664.0 L946.0 1664.0 L944.0 1664.1 L942.0 1664.1 L940.0 1664.1 L938.0 1664.1 L936.0 1664.1 L934.0 1664.1 L932.0 1664.1 L930.0 1664.1 L928.0 1664.1 L926.0 1664.1 L924.0 1664.1 L922.0 1664.1 L920.0 1664.2 L918.0 1664.2 L916.0 1664.2 L914.0 1664.2 L912.0 1664.2 L910.0 1664.2 L908.0 1664.2 L906.0 1664.2 L904.0 1664.2 L902.0 1664.2 L900.0 1664.2 L898.0 1664.2 L896.0 1664.3 L894.0 1664.3 L892.0 1664.3 L890.0 1664.3 L888.0 1664.3 L886.0 1664.3 L884.0 1664.3 L882.0 1664.3 L880.0 1664.3 L878.0 1664.3 L876.0 1664.4 L874.0 1664.4 L872.0 1664.4 L870.0 1664.4 L868.0 1664.4 L866.0 1664.4 L864.0 1664.4 L862.0 1664.4 L860.0 1664.4 L858.0 1664.5 L856.0 1664.5 L854.0 1664.5 L852.0 1664.5 L850.0 1664.5 L848.0 1664.5 L846.0 1664.5 L844.0 1664.5 L842.0 1664.6 L840.0 1664.6 L838.0 1664.6 L836.0 1664.6 L834.0 1664.6 L832.0 1664.6 L830.0 1664.6 L828.0 1664.6 L826.0 1664.7 L824.0 1664.7 L822.0 1664.7 L820.0 1664.7 L818.0 1664.7 L816.0 1664.7 L814.0 1664.7 L812.0 1664.8 L810.0 1664.8 L808.0 1664.8 L806.0 1664.8 L804.0 1664.8 L802.0 1664.8 L800.0 1664.9 L798.0 1664.9 L796.0 1664.9 L794.0 1664.9 L792.0 1664.9 L790.0 1664.9 L788.0 1665.0 L786.0 1665.0 L784.0 1665.0 L782.0 1665.0 L780.0 1665.0 L778.0 1665.0 L776.0 1665.1 L774.0 1665.1 L772.0 1665.1 L770.0 1665.1 L768.0 1665.1 L766.0 1665.2 L764.0 1665.2 L762.0 1665.2 L760.0 1665.2 L758.0 1665.2 L756.0 1665.3 L754.0 1665.3 L752.0 1665.3 L750.0 1665.3 L748.0 1665.3 L746.0 1665.4 L744.0 1665.4 L742.0 1665.4 L740.0 1665.4 L738.0 1665.4 L736.0 1665.5 L734.0 1665.5 L732.0 1665.5 L730.0 1665.5 L728.0 1665.5 L726.0 1665.6 L724.0 1665.6 L722.0 1665.6 L720.0 1665.6 L718.0 1665.7 L716.0 1665.7 L714.0 1665.7 L712.0 1665.7 L710.0 1665.8 L708.0 1665.8 L706.0 1665.8 L704.0 1665.8 L702.0 1665.9 L700.0 1665.9 L698.0 1665.9 L696.0 1665.9 L694.0 1665.9 L692.0 1666.0 L690.0 1666.0 L688.0 1666.0 L686.0 1666.1 L684.0 1666.1 L682.0 1666.1 L680.0 1666.1 L678.0 1666.2 L676.0 1666.2 L674.0 1666.2 L672.0 1666.3 L670.0 1666.3 L668.0 1666.3 L666.0 1666.4 L664.0 1666.4 L662.0 1666.4 L660.0 1666.5 L658.0 1666.5 L656.0 1666.5 L654.0 1666.6 L652.0 1666.6 L650.0 1666.6 L648.0 1666.7 L646.0 1666.7 L644.0 1666.8 L642.0 1666.8 L640.0 1666.8 L638.0 1666.9 L636.0 1666.9 L634.0 1666.9 L632.0 1667.0 L630.0 1667.0 L628.0 1667.1 L626.0 1667.1 L624.0 1667.2 L622.0 1667.2 L620.0 1667.2 L618.0 1667.3 L616.0 1667.3 L614.0 1667.4 L612.0 1667.4 L610.0 1667.4 L608.0 1667.5 L606.0 1667.5 L604.0 1667.6 L602.0 1667.6 L600.0 1667.7 L598.0 1667.7 L596.0 1667.7 L594.0 1667.8 L592.0 1667.8 L590.0 1667.9 L588.0 1667.9 L586.0 1668.0 L584.0 1668.0 L582.0 1668.0 L580.0 1668.1 L578.0 1668.1 L576.0 1668.2 L574.0 1668.2 L572.0 1668.3 L570.0 1668.3 L568.0 1668.3 L566.0 1668.4 L564.0 1668.4 L562.0 1668.5 L560.0 1668.5 L558.0 1668.5 L556.0 1668.6 L554.0 1668.6 L552.0 1668.7 L550.0 1668.7 L548.0 1668.7 L546.0 1668.8 L544.0 1668.8 L542.0 1668.9 L540.0 1668.9 L538.0 1669.0 L536.0 1669.0 L534.0 1669.0 L532.0 1669.1 L530.0 1669.1 L528.0 1669.2 L526.0 1669.2 L524.0 1669.3 L522.0 1669.3 L520.0 1669.3 L518.0 1669.4 L516.0 1669.4 L514.0 1669.5 L512.0 1669.5 L510.0 1669.6 L508.0 1669.6 L506.0 1669.6 L504.0 1669.7 L502.0 1669.7 L500.0 1669.8 L498.0 1669.8 L496.0 1669.9 L494.0 1669.9 L492.0 1669.9 L490.0 1670.0 L488.0 1670.0 L486.0 1670.1 L484.0 1670.1 L482.0 1670.2 L480.0 1670.2 L478.0 1670.2 L476.0 1670.3 L474.0 1670.3 L472.0 1670.4 L470.0 1670.4 L468.0 1670.4 L466.0 1670.5 L464.0 1670.5 L462.0 1670.6 L460.0 1670.6 L458.0 1670.7 L456.0 1670.7 L454.0 1670.7 L452.0 1670.8 L450.0 1670.8 L448.0 1670.8 L446.0 1670.9 L444.0 1670.9 L442.0 1671.0 L440.0 1671.0 L438.0 1671.0 L436.0 1671.1 L434.0 1671.1 L432.0 1671.1 L430.0 1671.2 L428.0 1671.2 L426.0 1671.3 L424.0 1671.3 L422.0 1671.3 L420.0 1671.4 L418.0 1671.4 L416.0 1671.4 L414.0 1671.5 L412.0 1671.5 L410.0 1671.6 L408.0 1671.6 L406.0 1671.6 L404.0 1671.7 L402.0 1671.7 L400.0 1671.7 L398.0 1671.8 L396.0 1671.8 L394.0 1671.8 L392.0 1671.9 L390.0 1671.9 L388.0 1671.9 L386.0 1672.0 L384.0 1672.0 L382.0 1672.0 L380.0 1672.1 L378.0 1672.1 L376.0 1672.2 L374.0 1672.2 L372.0 1672.2 L370.0 1672.3 L368.0 1672.3 L366.0 1672.3 L364.0 1672.4 L362.0 1672.4 L360.0 1672.4 L358.0 1672.5 L356.0 1672.5 L354.0 1672.5 L352.0 1672.6 L350.0 1672.6 L348.0 1672.6 L346.0 1672.7 L344.0 1672.7 L342.0 1672.7 L340.0 1672.8 L338.0 1672.8 L336.0 1672.8 L334.0 1672.9 L332.0 1672.9 L330.0 1672.9 L328.0 1672.9 L326.0 1673.0 L324.0 1673.0 L322.0 1673.0 L320.0 1673.1 L318.0 1673.1 L316.0 1673.1 L314.0 1673.2 L312.0 1673.2 L310.0 1673.2 L308.0 1673.3 L306.0 1673.3 L304.0 1673.3 L302.0 1673.4 L300.0 1673.4 L298.0 1673.4 L296.0 1673.4 L294.0 1673.5 L292.0 1673.5 Z" fill="url(#gg10)" stroke="none"/>
<path d="M292.0 1671.9 L294.0 1671.9 L296.0 1671.8 L298.0 1671.8 L300.0 1671.8 L302.0 1671.7 L304.0 1671.7 L306.0 1671.7 L308.0 1671.6 L310.0 1671.6 L312.0 1671.5 L314.0 1671.5 L316.0 1671.5 L318.0 1671.4 L320.0 1671.4 L322.0 1671.3 L324.0 1671.3 L326.0 1671.3 L328.0 1671.2 L330.0 1671.2 L332.0 1671.1 L334.0 1671.1 L336.0 1671.0 L338.0 1671.0 L340.0 1671.0 L342.0 1670.9 L344.0 1670.9 L346.0 1670.8 L348.0 1670.8 L350.0 1670.7 L352.0 1670.7 L354.0 1670.7 L356.0 1670.6 L358.0 1670.6 L360.0 1670.5 L362.0 1670.5 L364.0 1670.4 L366.0 1670.4 L368.0 1670.3 L370.0 1670.3 L372.0 1670.3 L374.0 1670.2 L376.0 1670.2 L378.0 1670.1 L380.0 1670.1 L382.0 1670.0 L384.0 1670.0 L386.0 1669.9 L388.0 1669.9 L390.0 1669.8 L392.0 1669.8 L394.0 1669.7 L396.0 1669.7 L398.0 1669.6 L400.0 1669.6 L402.0 1669.5 L404.0 1669.5 L406.0 1669.4 L408.0 1669.4 L410.0 1669.3 L412.0 1669.3 L414.0 1669.2 L416.0 1669.2 L418.0 1669.1 L420.0 1669.1 L422.0 1669.0 L424.0 1669.0 L426.0 1668.9 L428.0 1668.9 L430.0 1668.8 L432.0 1668.8 L434.0 1668.7 L436.0 1668.7 L438.0 1668.6 L440.0 1668.6 L442.0 1668.5 L444.0 1668.5 L446.0 1668.4 L448.0 1668.4 L450.0 1668.3 L452.0 1668.3 L454.0 1668.2 L456.0 1668.1 L458.0 1668.1 L460.0 1668.0 L462.0 1668.0 L464.0 1667.9 L466.0 1667.9 L468.0 1667.8 L470.0 1667.7 L472.0 1667.7 L474.0 1667.6 L476.0 1667.6 L478.0 1667.5 L480.0 1667.4 L482.0 1667.4 L484.0 1667.3 L486.0 1667.2 L488.0 1667.2 L490.0 1667.1 L492.0 1667.1 L494.0 1667.0 L496.0 1666.9 L498.0 1666.9 L500.0 1666.8 L502.0 1666.7 L504.0 1666.7 L506.0 1666.6 L508.0 1666.5 L510.0 1666.5 L512.0 1666.4 L514.0 1666.3 L516.0 1666.3 L518.0 1666.2 L520.0 1666.1 L522.0 1666.1 L524.0 1666.0 L526.0 1665.9 L528.0 1665.9 L530.0 1665.8 L532.0 1665.7 L534.0 1665.7 L536.0 1665.6 L538.0 1665.5 L540.0 1665.5 L542.0 1665.4 L544.0 1665.3 L546.0 1665.3 L548.0 1665.2 L550.0 1665.1 L552.0 1665.1 L554.0 1665.0 L556.0 1664.9 L558.0 1664.8 L560.0 1664.8 L562.0 1664.7 L564.0 1664.6 L566.0 1664.6 L568.0 1664.5 L570.0 1664.4 L572.0 1664.3 L574.0 1664.3 L576.0 1664.2 L578.0 1664.1 L580.0 1664.0 L582.0 1664.0 L584.0 1663.9 L586.0 1663.8 L588.0 1663.7 L590.0 1663.6 L592.0 1663.6 L594.0 1663.5 L596.0 1663.4 L598.0 1663.3 L600.0 1663.2 L602.0 1663.1 L604.0 1663.0 L606.0 1663.0 L608.0 1662.9 L610.0 1662.8 L612.0 1662.7 L614.0 1662.6 L616.0 1662.5 L618.0 1662.4 L620.0 1662.3 L622.0 1662.2 L624.0 1662.1 L626.0 1662.0 L628.0 1661.9 L630.0 1661.8 L632.0 1661.7 L634.0 1661.6 L636.0 1661.5 L638.0 1661.4 L640.0 1661.3 L642.0 1661.2 L644.0 1661.1 L646.0 1661.0 L648.0 1660.9 L650.0 1660.8 L652.0 1660.7 L654.0 1660.6 L656.0 1660.4 L658.0 1660.3 L660.0 1660.2 L662.0 1660.1 L664.0 1659.9 L666.0 1659.8 L668.0 1659.7 L670.0 1659.5 L672.0 1659.4 L674.0 1659.3 L676.0 1659.1 L678.0 1659.0 L680.0 1658.8 L682.0 1658.7 L684.0 1658.5 L686.0 1658.4 L688.0 1658.2 L690.0 1658.0 L692.0 1657.9 L694.0 1657.7 L696.0 1657.5 L698.0 1657.3 L700.0 1657.1 L702.0 1656.9 L704.0 1656.7 L706.0 1656.5 L708.0 1656.3 L710.0 1656.0 L712.0 1655.8 L714.0 1655.5 L716.0 1655.3 L718.0 1655.0 L720.0 1654.8 L722.0 1654.5 L724.0 1654.2 L726.0 1653.9 L728.0 1653.6 L730.0 1653.3 L732.0 1652.9 L734.0 1652.6 L736.0 1652.2 L738.0 1651.9 L740.0 1651.5 L742.0 1651.1 L744.0 1650.7 L746.0 1650.3 L748.0 1649.9 L750.0 1649.4 L752.0 1648.9 L754.0 1648.5 L756.0 1648.0 L758.0 1647.5 L760.0 1646.9 L762.0 1646.4 L764.0 1645.8 L766.0 1645.2 L768.0 1644.6 L770.0 1644.0 L772.0 1643.3 L774.0 1642.7 L776.0 1642.0 L778.0 1641.3 L780.0 1640.5 L782.0 1639.8 L784.0 1639.0 L786.0 1638.2 L788.0 1637.3 L790.0 1636.5 L792.0 1635.6 L794.0 1634.7 L796.0 1633.7 L798.0 1632.7 L800.0 1631.7 L802.0 1630.7 L804.0 1629.6 L806.0 1628.5 L808.0 1627.4 L810.0 1626.2 L812.0 1625.0 L814.0 1623.8 L816.0 1622.5 L818.0 1621.2 L820.0 1619.9 L822.0 1618.5 L824.0 1617.1 L826.0 1615.7 L828.0 1614.2 L830.0 1612.7 L832.0 1611.1 L834.0 1609.5 L836.0 1607.9 L838.0 1606.2 L840.0 1604.5 L842.0 1602.7 L844.0 1600.9 L846.0 1599.1 L848.0 1597.2 L850.0 1595.2 L852.0 1593.3 L854.0 1591.2 L856.0 1589.2 L858.0 1587.1 L860.0 1584.9 L862.0 1582.7 L864.0 1580.5 L866.0 1578.2 L868.0 1575.9 L870.0 1573.5 L872.0 1571.1 L874.0 1568.7 L876.0 1566.2 L878.0 1563.7 L880.0 1561.1 L882.0 1558.5 L884.0 1555.8 L886.0 1553.1 L888.0 1550.3 L890.0 1547.5 L892.0 1544.7 L894.0 1541.8 L896.0 1538.9 L898.0 1536.0 L900.0 1533.0 L902.0 1530.0 L904.0 1526.9 L906.0 1523.8 L908.0 1520.7 L910.0 1517.6 L912.0 1514.4 L914.0 1511.1 L916.0 1507.9 L918.0 1504.6 L920.0 1501.3 L922.0 1498.0 L924.0 1494.6 L926.0 1491.2 L928.0 1487.8 L930.0 1484.4 L932.0 1480.9 L934.0 1477.5 L936.0 1474.0 L938.0 1470.5 L940.0 1467.0 L942.0 1463.4 L944.0 1459.9 L946.0 1456.4 L948.0 1452.8 L950.0 1449.3 L952.0 1445.7 L954.0 1442.2 L956.0 1438.7 L958.0 1435.1 L960.0 1431.6 L962.0 1428.1 L964.0 1424.6 L966.0 1421.1 L968.0 1417.7 L970.0 1414.2 L972.0 1410.8 L974.0 1407.5 L976.0 1404.1 L978.0 1400.8 L980.0 1397.5 L982.0 1394.3 L984.0 1391.1 L986.0 1388.0 L988.0 1384.9 L990.0 1381.8 L992.0 1378.9 L994.0 1376.0 L996.0 1373.2 L998.0 1370.4 L1000.0 1367.7 L1002.0 1365.1 L1004.0 1362.6 L1006.0 1360.2 L1008.0 1357.8 L1010.0 1355.6 L1012.0 1353.5 L1014.0 1351.5 L1016.0 1349.6 L1018.0 1347.8 L1020.0 1346.1 L1022.0 1344.5 L1024.0 1343.1 L1026.0 1341.8 L1028.0 1340.6 L1030.0 1339.6 L1032.0 1338.7 L1034.0 1338.0 L1036.0 1337.4 L1038.0 1336.9 L1040.0 1336.6 L1042.0 1336.4 L1044.0 1336.3 L1046.0 1336.4 L1048.0 1336.7 L1050.0 1337.1 L1052.0 1337.6 L1054.0 1338.3 L1056.0 1339.1 L1058.0 1340.1 L1060.0 1341.2 L1062.0 1342.4 L1064.0 1343.8 L1066.0 1345.3 L1068.0 1346.9 L1070.0 1348.6 L1072.0 1350.5 L1074.0 1352.4 L1076.0 1354.5 L1078.0 1356.6 L1080.0 1358.9 L1082.0 1361.3 L1084.0 1363.7 L1086.0 1366.3 L1088.0 1368.9 L1090.0 1371.6 L1092.0 1374.4 L1094.0 1377.3 L1096.0 1380.2 L1098.0 1383.2 L1100.0 1386.2 L1102.0 1389.3 L1104.0 1392.5 L1106.0 1395.6 L1108.0 1398.9 L1110.0 1402.2 L1112.0 1405.5 L1114.0 1408.8 L1116.0 1412.2 L1118.0 1415.6 L1120.0 1419.0 L1122.0 1422.5 L1124.0 1425.9 L1126.0 1429.4 L1128.0 1432.9 L1130.0 1436.4 L1132.0 1439.9 L1134.0 1443.5 L1136.0 1447.0 L1138.0 1450.5 L1140.0 1454.0 L1142.0 1457.5 L1144.0 1461.0 L1146.0 1464.6 L1148.0 1468.0 L1150.0 1471.5 L1152.0 1475.0 L1154.0 1478.4 L1156.0 1481.9 L1158.0 1485.3 L1160.0 1488.7 L1162.0 1492.0 L1164.0 1495.4 L1166.0 1498.7 L1168.0 1502.0 L1170.0 1505.3 L1172.0 1508.5 L1174.0 1511.7 L1176.0 1514.9 L1178.0 1518.1 L1180.0 1521.2 L1182.0 1524.3 L1184.0 1527.3 L1186.0 1530.3 L1188.0 1533.3 L1190.0 1536.2 L1192.0 1539.1 L1194.0 1542.0 L1196.0 1544.8 L1198.0 1547.6 L1200.0 1550.3 L1202.0 1553.0 L1204.0 1555.6 L1206.0 1558.2 L1208.0 1560.8 L1210.0 1563.3 L1212.0 1565.8 L1214.0 1568.3 L1216.0 1570.6 L1218.0 1573.0 L1220.0 1575.3 L1222.0 1577.6 L1224.0 1579.8 L1226.0 1581.9 L1228.0 1584.1 L1230.0 1586.2 L1232.0 1588.2 L1234.0 1590.2 L1236.0 1592.2 L1238.0 1594.1 L1240.0 1595.9 L1242.0 1597.8 L1244.0 1599.5 L1246.0 1601.3 L1248.0 1603.0 L1250.0 1604.6 L1252.0 1606.2 L1254.0 1607.8 L1256.0 1609.4 L1258.0 1610.9 L1260.0 1612.3 L1262.0 1613.7 L1264.0 1615.1 L1266.0 1616.4 L1268.0 1617.7 L1270.0 1619.0 L1272.0 1620.2 L1274.0 1621.4 L1276.0 1622.6 L1278.0 1623.7 L1280.0 1624.8 L1282.0 1625.9 L1284.0 1626.9 L1286.0 1627.9 L1288.0 1628.9 L1290.0 1629.8 L1292.0 1630.7 L1294.0 1631.6 L1296.0 1632.4 L1298.0 1633.2 L1300.0 1634.0 L1302.0 1634.8 L1304.0 1635.5 L1306.0 1636.2 L1308.0 1636.9 L1310.0 1637.5 L1312.0 1638.2 L1314.0 1638.8 L1316.0 1639.3 L1318.0 1639.9 L1320.0 1640.5 L1322.0 1641.0 L1324.0 1641.5 L1326.0 1641.9 L1328.0 1642.4 L1330.0 1642.9 L1332.0 1643.3 L1334.0 1643.7 L1336.0 1644.1 L1338.0 1644.4 L1340.0 1644.8 L1342.0 1645.1 L1344.0 1645.5 L1346.0 1645.8 L1348.0 1646.1 L1350.0 1646.4 L1352.0 1646.6 L1354.0 1646.9 L1356.0 1647.1 L1358.0 1647.4 L1360.0 1647.6 L1362.0 1647.8 L1364.0 1648.0 L1366.0 1648.2 L1368.0 1648.4 L1370.0 1648.5" stroke="#008000" stroke-width="5.5" stroke-linecap="round" stroke-dasharray="12 14" />
<path d="M292.0 1673.9 L294.2 1673.9 L296.3 1673.8 L298.5 1673.8 L300.6 1673.7 L302.8 1673.6 L305.0 1673.6 L307.1 1673.5 L309.3 1673.4 L311.4 1673.4 L313.6 1673.3 L315.8 1673.3 L317.9 1673.2 L320.1 1673.1 L322.2 1673.1 L324.4 1673.0 L326.6 1673.0 L328.7 1672.9 L330.9 1672.8 L333.0 1672.8 L335.2 1672.7 L337.4 1672.7 L339.5 1672.6 L341.7 1672.6 L343.8 1672.5 L346.0 1672.4 L348.2 1672.4 L350.3 1672.3 L352.5 1672.3 L354.6 1672.2 L356.8 1672.2 L359.0 1672.1 L361.1 1672.1 L363.3 1672.0 L365.4 1672.0 L367.6 1671.9 L369.8 1671.8 L371.9 1671.8 L374.1 1671.7 L376.2 1671.7 L378.4 1671.6 L380.6 1671.6 L382.7 1671.5 L384.9 1671.5 L387.0 1671.4 L389.2 1671.4 L391.4 1671.3 L393.5 1671.3 L395.7 1671.2 L397.8 1671.2 L400.0 1671.1 L402.2 1671.1 L404.3 1671.0 L406.5 1671.0 L408.6 1670.9 L410.8 1670.9 L413.0 1670.8 L415.1 1670.8 L417.3 1670.7 L419.4 1670.7 L421.6 1670.7 L423.8 1670.6 L425.9 1670.6 L428.1 1670.5 L430.2 1670.5 L432.4 1670.4 L434.6 1670.4 L436.7 1670.3 L438.9 1670.3 L441.0 1670.2 L443.2 1670.2 L445.4 1670.2 L447.5 1670.1 L449.7 1670.1 L451.8 1670.0 L454.0 1670.0 L456.2 1669.9 L458.3 1669.9 L460.5 1669.9 L462.6 1669.8 L464.8 1669.8 L467.0 1669.7 L469.1 1669.7 L471.3 1669.6 L473.4 1669.6 L475.6 1669.6 L477.8 1669.5 L479.9 1669.5 L482.1 1669.4 L484.3 1669.4 L486.4 1669.4 L488.6 1669.3 L490.7 1669.3 L492.9 1669.2 L495.1 1669.2 L497.2 1669.2 L499.4 1669.1 L501.5 1669.1 L503.7 1669.1 L505.9 1669.0 L508.0 1669.0 L510.2 1668.9 L512.3 1668.9 L514.5 1668.9 L516.7 1668.8 L518.8 1668.8 L521.0 1668.8 L523.1 1668.7 L525.3 1668.7 L527.5 1668.7 L529.6 1668.6 L531.8 1668.6 L533.9 1668.5 L536.1 1668.5 L538.3 1668.5 L540.4 1668.4 L542.6 1668.4 L544.7 1668.4 L546.9 1668.3 L549.1 1668.3 L551.2 1668.3 L553.4 1668.2 L555.5 1668.2 L557.7 1668.2 L559.9 1668.1 L562.0 1668.1 L564.2 1668.1 L566.3 1668.0 L568.5 1668.0 L570.7 1668.0 L572.8 1668.0 L575.0 1667.9 L577.1 1667.9 L579.3 1667.9 L581.5 1667.8 L583.6 1667.8 L585.8 1667.8 L587.9 1667.7 L590.1 1667.7 L592.3 1667.7 L594.4 1667.6 L596.6 1667.6 L598.7 1667.6 L600.9 1667.6 L603.1 1667.5 L605.2 1667.5 L607.4 1667.5 L609.5 1667.4 L611.7 1667.4 L613.9 1667.4 L616.0 1667.4 L618.2 1667.3 L620.3 1667.3 L622.5 1667.3 L624.7 1667.2 L626.8 1667.2 L629.0 1667.2 L631.2 1667.2 L633.3 1667.1 L635.5 1667.1 L637.6 1667.1 L639.8 1667.1 L642.0 1667.0 L644.1 1667.0 L646.3 1667.0 L648.4 1667.0 L650.6 1666.9 L652.8 1666.9 L654.9 1666.9 L657.1 1666.9 L659.2 1666.8 L661.4 1666.8 L663.6 1666.8 L665.7 1666.8 L667.9 1666.7 L670.0 1666.7 L672.2 1666.7 L674.4 1666.7 L676.5 1666.6 L678.7 1666.6 L680.8 1666.6 L683.0 1666.6 L685.2 1666.5 L687.3 1666.5 L689.5 1666.5 L691.6 1666.5 L693.8 1666.4 L696.0 1666.4 L698.1 1666.4 L700.3 1666.4 L702.4 1666.4 L704.6 1666.3 L706.8 1666.3 L708.9 1666.3 L711.1 1666.3 L713.2 1666.2 L715.4 1666.2 L717.6 1666.2 L719.7 1666.2 L721.9 1666.2 L724.0 1666.1 L726.2 1666.1 L728.4 1666.1 L730.5 1666.1 L732.7 1666.0 L734.9 1666.0 L737.0 1666.0 L739.2 1666.0 L741.3 1666.0 L743.5 1665.9 L745.7 1665.9 L747.8 1665.9 L750.0 1665.9 L752.1 1665.9 L754.3 1665.8 L756.5 1665.8 L758.6 1665.8 L760.8 1665.8 L762.9 1665.8 L765.1 1665.7 L767.3 1665.7 L769.4 1665.7 L771.6 1665.7 L773.7 1665.7 L775.9 1665.6 L778.1 1665.6 L780.2 1665.6 L782.4 1665.6 L784.5 1665.6 L786.7 1665.5 L788.9 1665.5 L791.0 1665.5 L793.2 1665.5 L795.3 1665.5 L797.5 1665.5 L799.7 1665.4 L801.8 1665.4 L804.0 1665.4 L806.1 1665.4 L808.3 1665.4 L810.5 1665.3 L812.6 1665.3 L814.8 1665.3 L816.9 1665.3 L819.1 1665.3 L821.3 1665.3 L823.4 1665.2 L825.6 1665.2 L827.8 1665.2 L829.9 1665.2 L832.1 1665.2 L834.2 1665.1 L836.4 1665.1 L838.6 1665.1 L840.7 1665.1 L842.9 1665.1 L845.0 1665.1 L847.2 1665.0 L849.4 1665.0 L851.5 1665.0 L853.7 1665.0 L855.8 1665.0 L858.0 1665.0 L860.2 1664.9 L862.3 1664.9 L864.5 1664.9 L866.6 1664.9 L868.8 1664.9 L871.0 1664.9 L873.1 1664.8 L875.3 1664.8 L877.4 1664.8 L879.6 1664.8 L881.8 1664.8 L883.9 1664.8 L886.1 1664.7 L888.2 1664.7 L890.4 1664.7 L892.6 1664.7 L894.7 1664.7 L896.9 1664.7 L899.0 1664.6 L901.2 1664.6 L903.4 1664.6 L905.5 1664.6 L907.7 1664.6 L909.8 1664.6 L912.0 1664.5 L914.2 1664.5 L916.3 1664.5 L918.5 1664.5 L920.7 1664.5 L922.8 1664.5 L925.0 1664.4 L927.1 1664.4 L929.3 1664.4 L931.5 1664.4 L933.6 1664.4 L935.8 1664.4 L937.9 1664.3 L940.1 1664.3 L942.3 1664.3 L944.4 1664.3 L946.6 1664.3 L948.7 1664.3 L950.9 1664.2 L953.1 1664.2 L955.2 1664.2 L957.4 1664.2 L959.5 1664.2 L961.7 1664.2 L963.9 1664.1 L966.0 1664.1 L968.2 1664.1 L970.3 1664.1 L972.5 1664.1 L974.7 1664.1 L976.8 1664.0 L979.0 1664.0 L981.1 1664.0 L983.3 1664.0 L985.5 1664.0 L987.6 1664.0 L989.8 1663.9 L991.9 1663.9 L994.1 1663.9 L996.3 1663.9 L998.4 1663.9 L1000.6 1663.9 L1002.8 1663.8 L1004.9 1663.8 L1007.1 1663.8 L1009.2 1663.8 L1011.4 1663.8 L1013.6 1663.8 L1015.7 1663.7 L1017.9 1663.7 L1020.0 1663.7 L1022.2 1663.7 L1024.4 1663.7 L1026.5 1663.7 L1028.7 1663.6 L1030.8 1663.6 L1033.0 1663.6 L1035.2 1663.6 L1037.3 1663.6 L1039.5 1663.5 L1041.6 1663.5 L1043.8 1663.5 L1046.0 1663.5 L1048.1 1663.5 L1050.3 1663.5 L1052.4 1663.4 L1054.6 1663.4 L1056.8 1663.4 L1058.9 1663.4 L1061.1 1663.4 L1063.2 1663.3 L1065.4 1663.3 L1067.6 1663.3 L1069.7 1663.3 L1071.9 1663.3 L1074.0 1663.3 L1076.2 1663.2 L1078.4 1663.2 L1080.5 1663.2 L1082.7 1663.2 L1084.8 1663.2 L1087.0 1663.1 L1089.2 1663.1 L1091.3 1663.1 L1093.5 1663.1 L1095.7 1663.1 L1097.8 1663.0 L1100.0 1663.0 L1102.1 1663.0 L1104.3 1663.0 L1106.5 1663.0 L1108.6 1662.9 L1110.8 1662.9 L1112.9 1662.9 L1115.1 1662.9 L1117.3 1662.9 L1119.4 1662.8 L1121.6 1662.8 L1123.7 1662.8 L1125.9 1662.8 L1128.1 1662.8 L1130.2 1662.7 L1132.4 1662.7 L1134.5 1662.7 L1136.7 1662.7 L1138.9 1662.7 L1141.0 1662.6 L1143.2 1662.6 L1145.3 1662.6 L1147.5 1662.6 L1149.7 1662.6 L1151.8 1662.5 L1154.0 1662.5 L1156.1 1662.5 L1158.3 1662.5 L1160.5 1662.4 L1162.6 1662.4 L1164.8 1662.4 L1166.9 1662.4 L1169.1 1662.3 L1171.3 1662.3 L1173.4 1662.3 L1175.6 1662.3 L1177.7 1662.3 L1179.9 1662.2 L1182.1 1662.2 L1184.2 1662.2 L1186.4 1662.2 L1188.5 1662.1 L1190.7 1662.1 L1192.9 1662.1 L1195.0 1662.1 L1197.2 1662.0 L1199.3 1662.0 L1201.5 1662.0 L1203.7 1662.0 L1205.8 1661.9 L1208.0 1661.9 L1210.2 1661.9 L1212.3 1661.9 L1214.5 1661.8 L1216.6 1661.8 L1218.8 1661.8 L1221.0 1661.8 L1223.1 1661.7 L1225.3 1661.7 L1227.4 1661.7 L1229.6 1661.7 L1231.8 1661.6 L1233.9 1661.6 L1236.1 1661.6 L1238.2 1661.6 L1240.4 1661.5 L1242.6 1661.5 L1244.7 1661.5 L1246.9 1661.4 L1249.0 1661.4 L1251.2 1661.4 L1253.4 1661.4 L1255.5 1661.3 L1257.7 1661.3 L1259.8 1661.3 L1262.0 1661.2 L1264.2 1661.2 L1266.3 1661.2 L1268.5 1661.2 L1270.6 1661.1 L1272.8 1661.1 L1275.0 1661.1 L1277.1 1661.0 L1279.3 1661.0 L1281.4 1661.0 L1283.6 1660.9 L1285.8 1660.9 L1287.9 1660.9 L1290.1 1660.9 L1292.2 1660.8 L1294.4 1660.8 L1296.6 1660.8 L1298.7 1660.7 L1300.9 1660.7 L1303.0 1660.7 L1305.2 1660.6 L1307.4 1660.6 L1309.5 1660.6 L1311.7 1660.5 L1313.8 1660.5 L1316.0 1660.5 L1318.2 1660.4 L1320.3 1660.4 L1322.5 1660.4 L1324.6 1660.3 L1326.8 1660.3 L1329.0 1660.3 L1331.1 1660.2 L1333.3 1660.2 L1335.4 1660.2 L1337.6 1660.1 L1339.8 1660.1 L1341.9 1660.1 L1344.1 1660.0 L1346.2 1660.0 L1348.4 1659.9 L1350.6 1659.9 L1352.7 1659.9 L1354.9 1659.8 L1357.0 1659.8 L1359.2 1659.8 L1361.4 1659.7 L1363.5 1659.7 L1365.7 1659.6 L1367.8 1659.6" stroke="#008000" stroke-width="5.5" stroke-linecap="round" stroke-dasharray="12 14" />
<path d="M341.1 1668.5 L343.7 1668.4 L346.4 1668.3 L349.1 1668.2 L351.7 1668.1 L354.4 1668.0 L357.1 1667.9 L359.8 1667.8 L362.4 1667.7 L365.1 1667.6 L367.8 1667.5 L370.5 1667.4 L373.1 1667.3 L375.8 1667.2 L378.5 1667.1 L381.2 1667.0 L383.8 1666.9 L386.5 1666.9 L389.2 1666.8 L391.9 1666.7 L394.6 1666.6 L397.2 1666.5 L399.9 1666.4 L402.6 1666.3 L405.3 1666.2 L408.0 1666.1 L410.6 1666.0 L413.3 1665.9 L416.0 1665.9 L418.7 1665.8 L421.4 1665.7 L424.0 1665.6 L426.7 1665.5 L429.4 1665.4 L432.1 1665.3 L434.8 1665.2 L437.5 1665.1 L440.1 1665.0 L442.8 1664.9 L445.5 1664.8 L448.2 1664.7 L450.9 1664.5 L453.6 1664.4 L456.2 1664.3 L458.9 1664.2 L461.6 1664.1 L464.3 1664.0 L467.0 1663.9 L469.7 1663.7 L472.3 1663.6 L475.0 1663.5 L477.7 1663.4 L480.4 1663.2 L483.1 1663.1 L485.8 1663.0 L488.4 1662.8 L491.1 1662.7 L493.8 1662.6 L496.5 1662.4 L499.2 1662.3 L501.9 1662.1 L504.5 1662.0 L507.2 1661.8 L509.9 1661.6 L512.6 1661.5 L515.3 1661.3 L518.0 1661.1 L520.6 1661.0 L523.3 1660.8 L526.0 1660.6 L528.7 1660.4 L531.4 1660.3 L534.0 1660.1 L536.7 1659.9 L539.4 1659.7 L542.1 1659.5 L544.8 1659.3 L547.4 1659.1 L550.1 1658.8 L552.8 1658.6 L555.5 1658.4 L558.1 1658.2 L560.8 1658.0 L563.5 1657.7 L566.2 1657.5 L568.8 1657.2 L571.5 1657.0 L574.2 1656.7 L576.9 1656.5 L579.5 1656.2 L582.2 1655.9 L584.9 1655.7 L587.5 1655.4 L590.2 1655.1 L592.9 1654.8 L595.5 1654.5 L598.2 1654.2 L600.9 1653.9 L603.5 1653.6 L606.2 1653.3 L608.9 1653.0 L611.5 1652.7 L614.2 1652.3 L616.9 1652.0 L619.5 1651.7 L622.2 1651.3 L624.8 1651.0 L627.5 1650.6 L630.2 1650.2 L632.8 1649.9 L635.5 1649.5 L638.1 1649.1 L640.8 1648.7 L643.4 1648.3 L646.1 1647.9 L648.7 1647.5 L651.4 1647.1 L654.0 1646.6 L656.7 1646.2 L659.3 1645.8 L662.0 1645.3 L664.6 1644.9 L667.3 1644.4 L669.9 1643.9 L672.5 1643.5 L675.2 1643.0 L677.8 1642.5 L680.5 1642.0 L683.1 1641.5 L685.7 1641.0 L688.4 1640.5 L691.0 1639.9 L693.6 1639.4 L696.3 1638.9 L698.9 1638.3 L701.5 1637.7 L704.2 1637.2 L706.8 1636.6 L709.4 1636.0 L712.0 1635.4 L714.7 1634.8 L717.3 1634.2 L719.9 1633.6 L722.5 1633.0 L725.1 1632.3 L727.7 1631.7 L730.3 1631.0 L732.9 1630.4 L735.5 1629.7 L738.1 1629.0 L740.7 1628.3 L743.3 1627.5 L745.9 1626.8 L748.4 1626.0 L751.0 1625.2 L753.5 1624.4 L756.1 1623.6 L758.6 1622.7 L761.1 1621.9 L763.6 1621.0 L766.1 1620.0 L768.6 1619.1 L771.1 1618.1 L773.5 1617.1 L775.9 1616.1 L778.4 1615.1 L780.8 1614.0 L783.2 1612.9 L785.6 1611.7 L787.9 1610.5 L790.3 1609.3 L792.6 1608.1 L794.9 1606.8 L797.2 1605.5 L799.4 1604.2 L801.7 1602.8 L803.9 1601.4 L806.1 1599.9 L808.3 1598.4 L810.5 1596.9 L812.6 1595.3 L814.7 1593.7 L816.8 1592.1 L818.9 1590.4 L820.9 1588.7 L823.0 1586.9 L825.0 1585.1 L827.0 1583.3 L828.9 1581.5 L830.9 1579.6 L832.8 1577.7 L834.7 1575.8 L836.6 1573.9 L838.5 1571.9 L840.3 1569.9 L842.2 1567.9 L844.0 1565.9 L845.8 1563.9 L847.5 1561.8 L849.3 1559.7 L851.0 1557.6 L852.7 1555.5 L854.4 1553.4 L856.1 1551.3 L857.8 1549.2 L859.5 1547.0 L861.1 1544.9 L862.7 1542.7 L864.3 1540.5 L865.9 1538.4 L867.5 1536.2 L869.0 1534.0 L870.6 1531.8 L872.1 1529.6 L873.6 1527.3 L875.1 1525.1 L876.6 1522.9 L878.0 1520.6 L879.5 1518.4 L880.9 1516.1 L882.4 1513.9 L883.8 1511.6 L885.2 1509.3 L886.6 1507.0 L888.0 1504.7 L889.3 1502.4 L890.7 1500.1 L892.0 1497.8 L893.3 1495.5 L894.7 1493.2 L896.0 1490.9 L897.3 1488.5 L898.6 1486.2 L899.8 1483.8 L901.1 1481.5 L902.4 1479.1 L903.6 1476.8 L904.9 1474.4 L906.1 1472.0 L907.3 1469.7 L908.5 1467.3 L909.8 1464.9 L911.0 1462.5 L912.1 1460.1 L913.3 1457.7 L914.5 1455.3 L915.7 1452.9 L916.8 1450.5 L918.0 1448.1 L919.2 1445.7 L920.3 1443.3 L921.5 1440.9 L922.6 1438.4 L923.7 1436.0 L924.9 1433.6 L926.0 1431.2 L927.1 1428.7 L928.2 1426.3 L929.3 1423.9 L930.4 1421.4 L931.5 1419.0 L932.6 1416.5 L933.7 1414.1 L934.8 1411.7 L935.9 1409.2 L937.0 1406.8 L938.1 1404.3 L939.2 1401.9 L940.3 1399.4 L941.4 1397.0 L942.5 1394.5 L943.6 1392.1 L944.6 1389.6 L945.7 1387.2 L946.8 1384.8 L947.9 1382.3 L949.1 1379.9 L950.2 1377.5 L951.3 1375.0 L952.4 1372.6 L953.6 1370.2 L954.7 1367.8 L955.9 1365.4 L957.1 1363.0 L958.2 1360.6 L959.4 1358.2 L960.6 1355.8 L961.9 1353.4 L963.1 1351.0 L964.4 1348.6 L965.6 1346.3 L966.9 1343.9 L968.2 1341.6 L969.5 1339.2 L970.9 1336.9 L972.2 1334.6 L973.6 1332.3 L975.0 1330.0 L976.4 1327.7 L977.9 1325.4 L979.3 1323.2 L980.8 1320.9 L982.3 1318.7 L983.9 1316.5 L985.5 1314.2 L987.0 1312.0 L988.7 1309.9 L990.3 1307.7 L992.0 1305.5 L993.7 1303.4 L995.5 1301.2 L997.2 1299.1 L999.0 1297.0 L1000.9 1295.0 L1002.8 1293.0 L1004.7 1291.0 L1006.6 1289.1 L1008.6 1287.2 L1010.6 1285.4 L1012.7 1283.7 L1014.7 1282.1 L1016.9 1280.5 L1019.1 1279.0 L1021.3 1277.6 L1023.5 1276.2 L1025.8 1275.0 L1028.2 1273.9 L1030.5 1272.9 L1033.0 1272.1 L1035.4 1271.3 L1038.0 1270.7 L1040.5 1270.2 L1043.1 1269.9 L1045.8 1269.7 L1048.5 1269.6 L1051.1 1269.7 L1053.8 1269.9 L1056.5 1270.2 L1059.2 1270.6 L1061.9 1271.2 L1064.5 1271.9 L1067.1 1272.7 L1069.6 1273.6 L1072.1 1274.7 L1074.5 1275.9 L1076.8 1277.1 L1079.0 1278.5 L1081.2 1280.0 L1083.2 1281.6 L1085.2 1283.3 L1087.0 1285.1 L1088.8 1286.9 L1090.5 1288.9 L1092.2 1290.9 L1093.8 1293.0 L1095.3 1295.1 L1096.8 1297.4 L1098.2 1299.6 L1099.5 1302.0 L1100.8 1304.4 L1102.1 1306.8 L1103.4 1309.2 L1104.6 1311.7 L1105.7 1314.3 L1106.9 1316.8 L1108.0 1319.4 L1109.1 1322.0 L1110.3 1324.5 L1111.4 1327.1 L1112.5 1329.7 L1113.6 1332.3 L1114.7 1334.9 L1115.8 1337.5 L1116.9 1340.0 L1118.1 1342.5 L1119.2 1345.0 L1120.4 1347.5 L1121.7 1349.9 L1122.9 1352.2 L1124.2 1354.6 L1125.5 1356.9 L1126.9 1359.2 L1128.2 1361.4 L1129.6 1363.6 L1131.0 1365.8 L1132.5 1368.0 L1133.9 1370.2 L1135.4 1372.3 L1136.9 1374.4 L1138.3 1376.6 L1139.8 1378.7 L1141.3 1380.8 L1142.8 1383.0 L1144.3 1385.1 L1145.8 1387.3 L1147.3 1389.4 L1148.8 1391.6 L1150.3 1393.8 L1151.8 1396.0 L1153.3 1398.2 L1154.8 1400.4 L1156.3 1402.7 L1157.8 1404.9 L1159.3 1407.2 L1160.8 1409.4 L1162.2 1411.7 L1163.7 1414.0 L1165.2 1416.2 L1166.7 1418.5 L1168.2 1420.8 L1169.7 1423.1 L1171.3 1425.3 L1172.8 1427.6 L1174.3 1429.8 L1175.9 1432.1 L1177.4 1434.3 L1179.0 1436.6 L1180.5 1438.8 L1182.1 1441.0 L1183.7 1443.2 L1185.3 1445.4 L1186.9 1447.6 L1188.6 1449.7 L1190.2 1451.9 L1191.9 1454.0 L1193.6 1456.1 L1195.3 1458.2 L1197.0 1460.2 L1198.7 1462.3 L1200.5 1464.3 L1202.3 1466.3 L1204.0 1468.2 L1205.9 1470.1 L1207.7 1472.0 L1209.6 1473.9 L1211.5 1475.7 L1213.4 1477.5 L1215.3 1479.3 L1217.3 1481.0 L1219.3 1482.7 L1221.3 1484.3 L1223.3 1486.0 L1225.4 1487.5 L1227.5 1489.0 L1229.7 1490.5 L1231.8 1492.0 L1234.0 1493.4 L1236.3 1494.7 L1238.5 1496.0 L1240.8 1497.2 L1243.2 1498.4 L1245.5 1499.6 L1247.9 1500.7 L1250.4 1501.7 L1252.8 1502.7 L1255.3 1503.7 L1257.8 1504.6 L1260.4 1505.5 L1262.9 1506.3 L1265.5 1507.1 L1268.1 1507.9 L1270.8 1508.7 L1273.4 1509.4 L1276.1 1510.1 L1278.7 1510.8 L1281.4 1511.5 L1284.1 1512.1 L1286.8 1512.7 L1289.5 1513.3 L1292.2 1513.9 L1295.0 1514.5 L1297.7 1515.1 L1300.4 1515.6 L1303.2 1516.2 L1305.9 1516.8 L1308.6 1517.3 L1311.3 1517.9 L1314.1 1518.4 L1316.8 1519.0 L1319.5 1519.6 L1322.2 1520.1 L1324.9 1520.7 L1327.5 1521.3 L1330.2 1522.0 L1332.8 1522.6 L1335.5 1523.2 L1338.1 1523.9 L1340.7 1524.6 L1343.2 1525.3 L1345.8 1526.1 L1348.3 1526.9 L1350.8 1527.7 L1353.3 1528.5 L1355.7 1529.4 L1358.1 1530.3 L1360.5 1531.3 L1362.8 1532.3 L1365.1 1533.3 L1367.4 1534.4 L1369.6 1535.5" stroke="#0a8c0a" stroke-opacity="0.62" stroke-width="20"/>
<path d="M294.6 1667.7 L297.4 1667.7 L300.3 1667.7 L303.1 1667.7 L305.9 1667.7 L308.7 1667.8 L311.5 1667.8 L314.4 1667.8 L317.2 1667.8 L320.0 1667.8 L322.8 1667.8 L325.6 1667.8 L328.4 1667.8 L331.2 1667.8 L334.1 1667.7 L336.9 1667.7 L339.7 1667.7 L342.5 1667.7 L345.3 1667.7 L348.1 1667.6 L350.9 1667.6 L353.7 1667.6 L356.5 1667.5 L359.3 1667.5 L362.1 1667.5 L364.8 1667.4 L367.6 1667.4 L370.4 1667.3 L373.2 1667.3 L376.0 1667.2 L378.8 1667.1 L381.6 1667.1 L384.4 1667.0 L387.1 1667.0 L389.9 1666.9 L392.7 1666.8 L395.5 1666.7 L398.3 1666.7 L401.1 1666.6 L403.8 1666.5 L406.6 1666.4 L409.4 1666.3 L412.2 1666.2 L414.9 1666.1 L417.7 1666.0 L420.5 1665.9 L423.3 1665.8 L426.0 1665.7 L428.8 1665.6 L431.6 1665.5 L434.3 1665.4 L437.1 1665.2 L439.9 1665.1 L442.7 1665.0 L445.4 1664.8 L448.2 1664.7 L451.0 1664.6 L453.7 1664.4 L456.5 1664.3 L459.3 1664.2 L462.0 1664.0 L464.8 1663.9 L467.6 1663.7 L470.3 1663.5 L473.1 1663.4 L475.9 1663.2 L478.6 1663.1 L481.4 1662.9 L484.2 1662.7 L486.9 1662.5 L489.7 1662.4 L492.5 1662.2 L495.2 1662.0 L498.0 1661.8 L500.7 1661.6 L503.5 1661.4 L506.3 1661.2 L509.0 1661.0 L511.8 1660.8 L514.6 1660.6 L517.3 1660.4 L520.1 1660.2 L522.9 1660.0 L525.6 1659.8 L528.4 1659.5 L531.2 1659.3 L533.9 1659.1 L536.7 1658.8 L539.5 1658.6 L542.2 1658.4 L545.0 1658.1 L547.8 1657.9 L550.5 1657.6 L553.3 1657.4 L556.1 1657.1 L558.9 1656.9 L561.6 1656.6 L564.4 1656.4 L567.2 1656.1 L570.0 1655.8 L572.7 1655.6 L575.5 1655.3 L578.3 1655.0 L581.1 1654.7 L583.8 1654.4 L586.6 1654.1 L589.4 1653.8 L592.2 1653.6 L595.0 1653.3 L597.7 1653.0 L600.5 1652.6 L603.3 1652.3 L606.1 1652.0 L608.9 1651.7 L611.7 1651.4 L614.5 1651.1 L617.2 1650.7 L620.0 1650.4 L622.8 1650.1 L625.6 1649.8 L628.4 1649.4 L631.2 1649.1 L634.0 1648.7 L636.8 1648.4 L639.6 1648.0 L642.4 1647.7 L645.2 1647.3 L648.0 1647.0 L650.8 1646.6 L653.6 1646.2 L656.4 1645.8 L659.2 1645.4 L662.0 1645.1 L664.8 1644.7 L667.6 1644.2 L670.4 1643.8 L673.2 1643.4 L676.0 1643.0 L678.8 1642.5 L681.6 1642.1 L684.4 1641.6 L687.1 1641.1 L689.9 1640.7 L692.7 1640.2 L695.5 1639.7 L698.2 1639.1 L701.0 1638.6 L703.8 1638.1 L706.5 1637.5 L709.3 1636.9 L712.0 1636.4 L714.8 1635.8 L717.5 1635.1 L720.2 1634.5 L722.9 1633.9 L725.6 1633.2 L728.4 1632.5 L731.1 1631.8 L733.7 1631.1 L736.4 1630.4 L739.1 1629.6 L741.8 1628.9 L744.4 1628.1 L747.1 1627.3 L749.7 1626.4 L752.4 1625.6 L755.0 1624.7 L757.6 1623.8 L760.2 1622.9 L762.8 1622.0 L765.4 1621.0 L768.0 1620.1 L770.5 1619.0 L773.1 1618.0 L775.6 1617.0 L778.2 1615.9 L780.7 1614.8 L783.2 1613.7 L785.7 1612.5 L788.2 1611.3 L790.6 1610.1 L793.1 1608.9 L795.5 1607.6 L798.0 1606.3 L800.4 1605.0 L802.8 1603.7 L805.2 1602.3 L807.5 1600.9 L809.9 1599.5 L812.2 1598.0 L814.5 1596.6 L816.9 1595.0 L819.1 1593.5 L821.4 1592.0 L823.7 1590.4 L825.9 1588.8 L828.1 1587.1 L830.3 1585.5 L832.5 1583.8 L834.7 1582.0 L836.8 1580.3 L839.0 1578.5 L841.1 1576.7 L843.2 1574.9 L845.2 1573.1 L847.3 1571.2 L849.3 1569.3 L851.3 1567.4 L853.3 1565.5 L855.3 1563.5 L857.2 1561.5 L859.1 1559.5 L861.0 1557.5 L862.9 1555.4 L864.8 1553.3 L866.6 1551.3 L868.5 1549.1 L870.3 1547.0 L872.1 1544.8 L873.8 1542.7 L875.6 1540.5 L877.3 1538.3 L879.0 1536.1 L880.7 1533.8 L882.4 1531.6 L884.1 1529.3 L885.7 1527.0 L887.4 1524.7 L889.0 1522.4 L890.6 1520.1 L892.2 1517.7 L893.8 1515.4 L895.3 1513.0 L896.8 1510.6 L898.4 1508.3 L899.9 1505.9 L901.4 1503.5 L902.9 1501.0 L904.3 1498.6 L905.8 1496.2 L907.2 1493.7 L908.7 1491.3 L910.1 1488.9 L911.5 1486.4 L912.9 1483.9 L914.3 1481.5 L915.6 1479.0 L917.0 1476.5 L918.3 1474.0 L919.7 1471.5 L921.0 1469.1 L922.3 1466.6 L923.6 1464.1 L924.9 1461.6 L926.2 1459.1 L927.4 1456.6 L928.7 1454.1 L929.9 1451.6 L931.2 1449.1 L932.4 1446.7 L933.6 1444.2 L934.9 1441.7 L936.1 1439.2 L937.3 1436.7 L938.5 1434.3 L939.7 1431.8 L940.8 1429.3 L942.0 1426.9 L943.2 1424.4 L944.3 1422.0 L945.5 1419.5 L946.7 1417.1 L947.8 1414.6 L949.0 1412.1 L950.1 1409.7 L951.3 1407.2 L952.4 1404.8 L953.6 1402.3 L954.7 1399.9 L955.9 1397.4 L957.0 1395.0 L958.2 1392.5 L959.3 1390.0 L960.5 1387.6 L961.7 1385.1 L962.8 1382.6 L964.0 1380.2 L965.2 1377.7 L966.4 1375.2 L967.6 1372.7 L968.8 1370.2 L970.0 1367.7 L971.2 1365.2 L972.4 1362.7 L973.6 1360.2 L974.9 1357.7 L976.1 1355.2 L977.4 1352.7 L978.6 1350.2 L979.9 1347.6 L981.2 1345.1 L982.5 1342.5 L983.8 1340.0 L985.2 1337.4 L986.5 1334.8 L987.9 1332.3 L989.3 1329.7 L990.6 1327.1 L992.1 1324.5 L993.5 1321.9 L994.9 1319.3 L996.4 1316.7 L997.9 1314.1 L999.4 1311.5 L1000.9 1308.9 L1002.5 1306.4 L1004.1 1303.9 L1005.7 1301.5 L1007.4 1299.1 L1009.1 1296.7 L1010.8 1294.4 L1012.5 1292.2 L1014.3 1290.0 L1016.2 1287.9 L1018.1 1285.8 L1020.0 1283.9 L1021.9 1282.0 L1023.9 1280.2 L1026.0 1278.6 L1028.1 1277.0 L1030.2 1275.5 L1032.4 1274.1 L1034.7 1272.9 L1037.0 1271.8 L1039.4 1270.8 L1041.8 1269.9 L1044.3 1269.2 L1046.8 1268.6 L1049.4 1268.1 L1052.0 1267.8 L1054.6 1267.6 L1057.2 1267.6 L1059.8 1267.7 L1062.4 1267.9 L1065.0 1268.3 L1067.6 1268.8 L1070.1 1269.5 L1072.6 1270.2 L1075.0 1271.1 L1077.3 1272.2 L1079.6 1273.3 L1081.9 1274.6 L1084.1 1276.0 L1086.3 1277.4 L1088.4 1279.0 L1090.5 1280.7 L1092.6 1282.5 L1094.6 1284.3 L1096.5 1286.3 L1098.5 1288.3 L1100.4 1290.4 L1102.2 1292.5 L1104.1 1294.8 L1105.9 1297.0 L1107.6 1299.4 L1109.4 1301.8 L1111.1 1304.2 L1112.8 1306.7 L1114.4 1309.2 L1116.0 1311.7 L1117.6 1314.2 L1119.2 1316.8 L1120.8 1319.4 L1122.3 1322.0 L1123.9 1324.6 L1125.4 1327.2 L1126.9 1329.8 L1128.4 1332.4 L1129.8 1335.0 L1131.3 1337.5 L1132.7 1340.1 L1134.2 1342.6 L1135.6 1345.1 L1137.0 1347.5 L1138.4 1350.0 L1139.8 1352.4 L1141.2 1354.8 L1142.6 1357.1 L1144.0 1359.5 L1145.4 1361.9 L1146.8 1364.2 L1148.2 1366.5 L1149.6 1368.8 L1151.0 1371.1 L1152.4 1373.4 L1153.8 1375.7 L1155.2 1378.0 L1156.6 1380.3 L1158.0 1382.6 L1159.4 1384.9 L1160.8 1387.1 L1162.2 1389.4 L1163.6 1391.7 L1165.1 1394.0 L1166.5 1396.3 L1168.0 1398.6 L1169.5 1400.9 L1170.9 1403.2 L1172.4 1405.6 L1173.9 1407.9 L1175.4 1410.2 L1177.0 1412.5 L1178.5 1414.8 L1180.0 1417.1 L1181.6 1419.5 L1183.2 1421.8 L1184.7 1424.1 L1186.3 1426.4 L1187.9 1428.7 L1189.5 1431.0 L1191.2 1433.2 L1192.8 1435.5 L1194.5 1437.8 L1196.1 1440.1 L1197.8 1442.3 L1199.5 1444.6 L1201.2 1446.8 L1203.0 1449.0 L1204.7 1451.2 L1206.5 1453.4 L1208.2 1455.6 L1210.0 1457.8 L1211.8 1459.9 L1213.7 1462.1 L1215.5 1464.2 L1217.4 1466.3 L1219.2 1468.4 L1221.1 1470.5 L1223.0 1472.5 L1225.0 1474.6 L1226.9 1476.6 L1228.9 1478.6 L1230.8 1480.5 L1232.9 1482.5 L1234.9 1484.4 L1236.9 1486.3 L1239.0 1488.2 L1241.1 1490.0 L1243.2 1491.9 L1245.3 1493.7 L1247.4 1495.4 L1249.6 1497.2 L1251.8 1498.9 L1254.0 1500.6 L1256.2 1502.2 L1258.4 1503.8 L1260.7 1505.4 L1263.0 1507.0 L1265.3 1508.5 L1267.7 1510.0 L1270.0 1511.5 L1272.4 1512.9 L1274.8 1514.3 L1277.3 1515.6 L1279.7 1517.0 L1282.2 1518.3 L1284.7 1519.5 L1287.2 1520.7 L1289.7 1521.9 L1292.3 1523.1 L1294.9 1524.2 L1297.5 1525.3 L1300.1 1526.3 L1302.7 1527.4 L1305.3 1528.4 L1307.9 1529.4 L1310.6 1530.3 L1313.2 1531.2 L1315.9 1532.1 L1318.6 1533.0 L1321.3 1533.8 L1324.0 1534.6 L1326.7 1535.4 L1329.4 1536.2 L1332.1 1537.0 L1334.8 1537.7 L1337.5 1538.4 L1340.2 1539.1 L1342.9 1539.7 L1345.6 1540.4 L1348.3 1541.0 L1351.0 1541.6 L1353.7 1542.2 L1356.4 1542.7 L1359.1 1543.3 L1361.8 1543.8 L1364.5 1544.3 L1367.1 1544.8 L1369.8 1545.3" stroke="#000" stroke-width="6.2" stroke-linecap="round" stroke-dasharray="12 14" />
</g>
<path d="M701.5 177.5 L756.8 213 V1196" fill="none" stroke="#0000ff" stroke-width="7" stroke-linejoin="round" stroke-linecap="round"/>
<path d="M756.8 1196 V1212" stroke="#b9c6f2" stroke-width="7"/>
<path d="M756.8 1212 V1219" stroke="#0000ff" stroke-width="7" stroke-linecap="round"/>
<path d="M1093.2 385.1 L1044.6 423.4 V637" fill="none" stroke="#008000" stroke-width="7" stroke-linejoin="round" stroke-linecap="round"/>
<path d="M1044.6 637 V748" stroke="#66b366" stroke-width="7"/>
<path d="M1044.6 748 V950" stroke="#008000" stroke-width="7"/>
<path d="M1044.6 950 V1213" stroke="#66b366" stroke-width="7"/>
<path d="M1044.6 1213 V1336" stroke="#008000" stroke-width="7"/>
<path d="M1044.6 1336 V1664" stroke="#7cc47c" stroke-width="7"/>
<path d="M1044.6 1664 V1691" stroke="#008000" stroke-width="7"/>
<rect x="283.4" y="86.5" width="1087.6" height="1591.5" fill="none" stroke="#333" stroke-width="4"/>
<path d="M283.4 86.5 v17 M283.4 1678 v27 M319.6 86.5 v9 M319.6 1678 v14 M355.8 86.5 v9 M355.8 1678 v14 M392.1 86.5 v9 M392.1 1678 v14 M428.3 86.5 v9 M428.3 1678 v14 M464.5 86.5 v17 M464.5 1678 v27 M500.7 86.5 v9 M500.7 1678 v14 M536.9 86.5 v9 M536.9 1678 v14 M573.2 86.5 v9 M573.2 1678 v14 M609.4 86.5 v9 M609.4 1678 v14 M645.6 86.5 v17 M645.6 1678 v27 M681.8 86.5 v9 M681.8 1678 v14 M718.0 86.5 v9 M718.0 1678 v14 M754.3 86.5 v9 M754.3 1678 v14 M790.5 86.5 v9 M790.5 1678 v14 M826.7 86.5 v17 M826.7 1678 v27 M862.9 86.5 v9 M862.9 1678 v14 M899.1 86.5 v9 M899.1 1678 v14 M935.4 86.5 v9 M935.4 1678 v14 M971.6 86.5 v9 M971.6 1678 v14 M1007.8 86.5 v17 M1007.8 1678 v27 M1044.0 86.5 v9 M1044.0 1678 v14 M1080.2 86.5 v9 M1080.2 1678 v14 M1116.5 86.5 v9 M1116.5 1678 v14 M1152.7 86.5 v9 M1152.7 1678 v14 M1188.9 86.5 v17 M1188.9 1678 v27 M1225.1 86.5 v9 M1225.1 1678 v14 M1261.3 86.5 v9 M1261.3 1678 v14 M1297.6 86.5 v9 M1297.6 1678 v14 M1333.8 86.5 v9 M1333.8 1678 v14 M1370.0 86.5 v17 M1370.0 1678 v27" stroke="#333" stroke-width="3.5" fill="none"/>
<text x="283.4" y="1773.5" font-size="62" text-anchor="middle" fill="#000">6960</text>
<text x="464.5" y="1773.5" font-size="62" text-anchor="middle" fill="#000">6965</text>
<text x="645.6" y="1773.5" font-size="62" text-anchor="middle" fill="#000">6970</text>
<text x="826.7" y="1773.5" font-size="62" text-anchor="middle" fill="#000">6975</text>
<text x="1007.8" y="1773.5" font-size="62" text-anchor="middle" fill="#000">6980</text>
<text x="1188.9" y="1773.5" font-size="62" text-anchor="middle" fill="#000">6985</text>
<text x="1370.0" y="1773.5" font-size="62" text-anchor="middle" fill="#000">6990</text>
<text x="838.3" y="1887" font-size="81" text-anchor="middle" fill="#000">Energy (eV)</text>
<text transform="translate(133.5 969.8) rotate(-90)" font-size="80.8" text-anchor="middle" fill="#000">Normalized absorption intensity</text>
<text x="34" y="86" font-size="102" font-weight="bold" fill="#000">a.</text>
<text x="557" y="196.3" font-size="87" font-weight="bold" fill="#0000ff">Eu<tspan font-size="54" dy="-49">2+</tspan></text>
<text x="1094.5" y="422" font-size="90" font-weight="bold" fill="#008000">Eu<tspan font-size="52.5" dx="-3" dy="-50.5">3+</tspan></text>
<path d="M516 0 L516 1040 C420 955 270 895 140 868 L140 1075 C300 1120 470 1240 560 1409 L828 1409 L828 0 Z" fill="#ff0000" transform="translate(302.00 676.50) scale(0.03271 -0.03435)"/><text x="339.26" y="676.5" font-size="67" font-weight="bold" fill="#ff0000" transform="translate(0 676.5) scale(1 1.05) translate(0 -676.5)">400 °C</text>
<path d="M516 0 L516 1040 C420 955 270 895 140 868 L140 1075 C300 1120 470 1240 560 1409 L828 1409 L828 0 Z" fill="#800080" transform="translate(302.00 1141.50) scale(0.03271 -0.03435)"/><text x="339.26" y="1141.5" font-size="67" font-weight="bold" fill="#800080" transform="translate(0 1141.5) scale(1 1.05) translate(0 -1141.5)">200 °C</text>
<path d="M516 0 L516 1040 C420 955 270 895 140 868 L140 1075 C300 1120 470 1240 560 1409 L828 1409 L828 0 Z" fill="#008000" transform="translate(302.50 1603.00) scale(0.03271 -0.03435)"/><text x="339.76" y="1603" font-size="67" font-weight="bold" fill="#008000" transform="translate(0 1603) scale(1 1.05) translate(0 -1603)">000 °C</text>
<path d="M1136 169 H1258" stroke="#000" stroke-width="6" stroke-dasharray="16 10"/>
<text x="1285" y="190" font-size="80" font-style="italic" fill="#000" textLength="66" lengthAdjust="spacingAndGlyphs">fit</text>
<rect x="283.5" y="2018" width="1090" height="923.5" fill="none" stroke="#333" stroke-width="4"/>
<path d="M283.5 2935.0 h-10 M283.5 2909.6 h-19 M283.5 2884.2 h-10 M283.5 2858.8 h-10 M283.5 2833.4 h-10 M283.5 2808.0 h-10 M283.5 2782.5 h-19 M283.5 2757.1 h-10 M283.5 2731.7 h-10 M283.5 2706.3 h-10 M283.5 2680.9 h-10 M283.5 2655.5 h-19 M283.5 2630.1 h-10 M283.5 2604.7 h-10 M283.5 2579.2 h-10 M283.5 2553.8 h-10 M283.5 2528.4 h-19 M283.5 2503.0 h-10 M283.5 2477.6 h-10 M283.5 2452.2 h-10 M283.5 2426.8 h-10 M283.5 2401.4 h-19 M283.5 2375.9 h-10 M283.5 2350.5 h-10 M283.5 2325.1 h-10 M283.5 2299.7 h-10 M283.5 2274.3 h-19 M283.5 2248.9 h-10 M303.3 2941.5 v11 M342.9 2941.5 v11 M382.5 2941.5 v18 M422.1 2941.5 v11 M461.7 2941.5 v11 M501.4 2941.5 v11 M541.0 2941.5 v11 M580.6 2941.5 v18 M620.2 2941.5 v11 M659.8 2941.5 v11 M699.5 2941.5 v11 M739.1 2941.5 v11 M778.7 2941.5 v18 M818.3 2941.5 v11 M857.9 2941.5 v11 M897.6 2941.5 v11 M937.2 2941.5 v11 M976.8 2941.5 v18 M1016.4 2941.5 v11 M1056.0 2941.5 v11 M1095.7 2941.5 v11 M1135.3 2941.5 v11 M1174.9 2941.5 v18 M1214.5 2941.5 v11 M1254.1 2941.5 v11 M1293.8 2941.5 v11 M1333.4 2941.5 v11 M1373.0 2941.5 v18" stroke="#333" stroke-width="3.5" fill="none"/>
<text x="251" y="2924.1" font-size="59" text-anchor="end" fill="#000">0</text>
<text x="251" y="2797.0" font-size="59" text-anchor="end" fill="#000">20</text>
<text x="251" y="2670.0" font-size="59" text-anchor="end" fill="#000">40</text>
<text x="251" y="2542.9" font-size="59" text-anchor="end" fill="#000">60</text>
<text x="251" y="2415.9" font-size="59" text-anchor="end" fill="#000">80</text>
<path d="M588 0 L588 1110 C500 1030 300 930 118 880 L118 1050 C330 1130 520 1280 600 1409 L766 1409 L766 0 Z" fill="#000" transform="translate(152.56 2288.80) scale(0.02881 -0.02881)"/>
<text x="185.37" y="2288.8" font-size="59" fill="#000">00</text>
<text x="382.5" y="3018.3" font-size="60" text-anchor="middle" fill="#000">0.0</text>
<text x="580.6" y="3018.3" font-size="60" text-anchor="middle" fill="#000">0.2</text>
<text x="778.7" y="3018.3" font-size="60" text-anchor="middle" fill="#000">0.4</text>
<text x="976.8" y="3018.3" font-size="60" text-anchor="middle" fill="#000">0.6</text>
<text x="1174.9" y="3018.3" font-size="60" text-anchor="middle" fill="#000">0.8</text>
<path d="M588 0 L588 1110 C500 1030 300 930 118 880 L118 1050 C330 1130 520 1280 600 1409 L766 1409 L766 0 Z" fill="#000" transform="translate(1331.30 3018.30) scale(0.02930 -0.02930)"/>
<text x="1364.67" y="3018.3" font-size="60" fill="#000">.0</text>
<text x="461" y="3148.5" font-size="80.5" fill="#000">Mole Fraction of Eu<tspan font-size="48" dx="2" dy="-43.5">2+</tspan></text>
<text transform="translate(114.8 2553) rotate(-90)" font-size="80" text-anchor="middle" fill="#000">% Photoluminescence</text>
<text x="34" y="2007.5" font-size="98" font-weight="bold" fill="#000">b.</text>
<rect x="341" y="2058.7" width="44.6" height="43.5" fill="#c8c8c8" stroke="#808080" stroke-width="5"/>
<text x="417" y="2101.5" font-size="58" font-style="italic" fill="#000" textLength="660" lengthAdjust="spacingAndGlyphs">Deconvoluted peak fiting</text>
<circle cx="361.7" cy="2191.1" r="23.2" fill="none" stroke="#808080" stroke-width="4.6"/>
<text x="415" y="2210.8" font-size="58" font-style="italic" fill="#000" textLength="656" lengthAdjust="spacingAndGlyphs">Linear combination fiting</text>
<g stroke="#c4c4c4" stroke-width="24" stroke-linecap="round" fill="none"><path d="M357 2849 L1290 2300.5"/><path d="M1216.5 2301.7 L1296.4 2296.6 L1252 2365.3" stroke-linejoin="bevel"/></g>
<rect x="390.1" y="2752.4" width="49" height="49" fill="#008000"/>
<circle cx="379.3" cy="2777.5" r="26" fill="#fff" fill-opacity="0.6" stroke="#008000" stroke-opacity="0.6" stroke-width="4"/>
<rect x="781.1" y="2656.3" width="49" height="49" fill="#800080"/>
<circle cx="838.6" cy="2681.4" r="26" fill="#fff" fill-opacity="0.6" stroke="#800080" stroke-opacity="0.6" stroke-width="4"/>
<rect x="1148.9" y="2249.5" width="49" height="49" fill="#ff0000"/>
<circle cx="1332.3" cy="2274.0" r="26.4" fill="#fff" fill-opacity="1.0" stroke="#ff0000" stroke-opacity="1.0" stroke-width="4"/>
</svg></body></html>
